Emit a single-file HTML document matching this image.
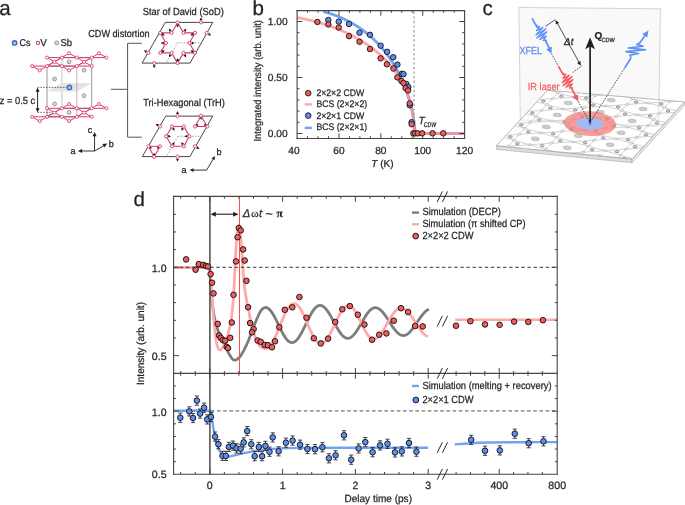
<!DOCTYPE html>
<html><head><meta charset="utf-8"><title>figure</title>
<style>
html,body{margin:0;padding:0;background:#fff;width:685px;height:505px;overflow:hidden}
svg{display:block;font-family:"Liberation Sans",sans-serif;will-change:transform}
text{stroke-width:0.25px;paint-order:stroke;text-rendering:geometricPrecision}
</style></head><body>
<svg width="685" height="505" viewBox="0 0 685 505">
<rect width="685" height="505" fill="#fff"/>
<path d="M173.6,267.3 L209.8,267.3 L209.83,267.89 L209.87,268.58 L209.91,269.38 L209.95,270.28 L210.01,271.29 L210.07,272.41 L210.13,273.64 L210.21,274.98 L210.3,276.44 L210.4,278 L210.51,279.73 L210.62,281.67 L210.74,283.76 L210.86,285.98 L211,288.28 L211.15,290.63 L211.31,292.98 L211.49,295.31 L211.69,297.56 L211.9,299.7 L212.13,301.77 L212.37,303.84 L212.63,305.9 L212.9,307.94 L213.19,309.96 L213.49,311.95 L213.81,313.91 L214.15,315.82 L214.52,317.69 L214.9,319.5 L215.31,321.27 L215.74,322.99 L216.2,324.68 L216.67,326.33 L217.16,327.94 L217.67,329.52 L218.19,331.05 L218.72,332.54 L219.26,333.99 L219.8,335.4 L220.37,336.77 L220.96,338.11 L221.59,339.4 L222.23,340.66 L222.87,341.87 L223.51,343.05 L224.13,344.18 L224.72,345.27 L225.28,346.31 L225.8,347.3 L226.27,348.24 L226.69,349.12 L227.08,349.95 L227.45,350.73 L227.8,351.47 L228.14,352.18 L228.49,352.86 L228.84,353.52 L229.21,354.16 L229.6,354.8 L230.01,355.45 L230.42,356.12 L230.83,356.8 L231.24,357.46 L231.66,358.08 L232.1,358.65 L232.54,359.14 L233.01,359.55 L233.49,359.84 L234,360 L234.53,360.06 L235.07,360.04 L235.63,359.95 L236.21,359.77 L236.8,359.51 L237.41,359.14 L238.03,358.68 L238.67,358.1 L239.33,357.41 L240,356.6 L240.7,355.65 L241.42,354.55 L242.16,353.33 L242.92,352 L243.7,350.57 L244.48,349.06 L245.27,347.48 L246.05,345.85 L246.83,344.18 L247.6,342.5 L248.37,340.72 L249.15,338.8 L249.94,336.77 L250.73,334.66 L251.51,332.53 L252.29,330.41 L253.05,328.34 L253.8,326.35 L254.51,324.49 L255.2,322.8 L255.86,321.24 L256.5,319.74 L257.12,318.31 L257.72,316.95 L258.31,315.67 L258.87,314.47 L259.43,313.36 L259.96,312.34 L260.49,311.42 L261,310.6 L261.51,309.9 L262.02,309.33 L262.54,308.88 L263.03,308.52 L263.51,308.24 L263.96,308.02 L264.37,307.84 L264.74,307.69 L265.05,307.55 L265.3,307.4 L265.8,307.43 L266.3,307.52 L266.81,307.68 L267.31,307.89 L267.81,308.17 L268.31,308.5 L268.81,308.89 L269.32,309.34 L269.82,309.85 L270.32,310.4 L270.82,311.01 L271.32,311.67 L271.82,312.37 L272.33,313.12 L272.83,313.91 L273.33,314.74 L273.83,315.6 L274.33,316.5 L274.84,317.43 L275.34,318.39 L275.84,319.36 L276.34,320.36 L276.84,321.37 L277.35,322.4 L277.85,323.44 L278.35,324.48 L278.85,325.52 L279.35,326.56 L279.85,327.6 L280.36,328.63 L280.86,329.64 L281.36,330.64 L281.86,331.61 L282.36,332.57 L282.87,333.5 L283.37,334.4 L283.87,335.26 L284.37,336.09 L284.87,336.88 L285.38,337.63 L285.88,338.33 L286.38,338.99 L286.88,339.6 L287.38,340.15 L287.88,340.66 L288.39,341.11 L288.89,341.5 L289.39,341.83 L289.89,342.11 L290.39,342.32 L290.9,342.48 L291.4,342.57 L291.9,342.6 L292.4,342.57 L292.9,342.48 L293.41,342.34 L293.91,342.13 L294.41,341.87 L294.91,341.56 L295.41,341.18 L295.91,340.76 L296.42,340.28 L296.92,339.75 L297.42,339.17 L297.92,338.54 L298.42,337.87 L298.92,337.15 L299.43,336.39 L299.93,335.6 L300.43,334.76 L300.93,333.9 L301.43,333 L301.94,332.07 L302.44,331.12 L302.94,330.14 L303.44,329.15 L303.94,328.14 L304.44,327.12 L304.95,326.08 L305.45,325.04 L305.95,324 L306.45,322.96 L306.95,321.92 L307.46,320.88 L307.96,319.86 L308.46,318.85 L308.96,317.86 L309.46,316.88 L309.96,315.93 L310.47,315 L310.97,314.1 L311.47,313.24 L311.97,312.4 L312.47,311.61 L312.98,310.85 L313.48,310.13 L313.98,309.46 L314.48,308.83 L314.98,308.25 L315.48,307.72 L315.99,307.24 L316.49,306.82 L316.99,306.44 L317.49,306.13 L317.99,305.87 L318.49,305.66 L319,305.52 L319.5,305.43 L320,305.4 L320.5,305.43 L321.01,305.51 L321.51,305.64 L322.01,305.83 L322.52,306.07 L323.02,306.36 L323.53,306.7 L324.03,307.09 L324.53,307.53 L325.04,308.01 L325.54,308.54 L326.04,309.12 L326.55,309.73 L327.05,310.39 L327.55,311.08 L328.06,311.8 L328.56,312.56 L329.07,313.36 L329.57,314.17 L330.07,315.02 L330.58,315.88 L331.08,316.77 L331.58,317.67 L332.09,318.58 L332.59,319.51 L333.09,320.44 L333.6,321.38 L334.1,322.32 L334.61,323.26 L335.11,324.19 L335.61,325.12 L336.12,326.03 L336.62,326.93 L337.12,327.82 L337.63,328.68 L338.13,329.53 L338.63,330.34 L339.14,331.14 L339.64,331.9 L340.15,332.62 L340.65,333.31 L341.15,333.97 L341.66,334.58 L342.16,335.16 L342.66,335.69 L343.17,336.17 L343.67,336.61 L344.17,337 L344.68,337.34 L345.18,337.63 L345.69,337.87 L346.19,338.06 L346.69,338.19 L347.2,338.27 L347.7,338.3 L348.2,338.28 L348.7,338.2 L349.21,338.08 L349.71,337.9 L350.21,337.68 L350.71,337.41 L351.21,337.09 L351.71,336.73 L352.22,336.32 L352.72,335.87 L353.22,335.38 L353.72,334.84 L354.22,334.27 L354.73,333.66 L355.23,333.02 L355.73,332.34 L356.23,331.64 L356.73,330.9 L357.23,330.14 L357.74,329.36 L358.24,328.55 L358.74,327.73 L359.24,326.89 L359.74,326.04 L360.25,325.18 L360.75,324.31 L361.25,323.44 L361.75,322.56 L362.25,321.69 L362.75,320.82 L363.26,319.96 L363.76,319.11 L364.26,318.27 L364.76,317.45 L365.26,316.64 L365.77,315.86 L366.27,315.1 L366.77,314.36 L367.27,313.66 L367.77,312.98 L368.27,312.34 L368.78,311.73 L369.28,311.16 L369.78,310.62 L370.28,310.13 L370.78,309.68 L371.29,309.27 L371.79,308.91 L372.29,308.59 L372.79,308.32 L373.29,308.1 L373.79,307.92 L374.3,307.8 L374.8,307.72 L375.3,307.7 L375.8,307.72 L376.3,307.79 L376.8,307.9 L377.3,308.05 L377.8,308.24 L378.3,308.48 L378.8,308.76 L379.3,309.08 L379.8,309.43 L380.3,309.83 L380.8,310.26 L381.3,310.73 L381.8,311.24 L382.3,311.77 L382.8,312.34 L383.3,312.93 L383.8,313.56 L384.3,314.2 L384.8,314.88 L385.3,315.57 L385.8,316.28 L386.3,317.01 L386.8,317.75 L387.3,318.51 L387.8,319.27 L388.3,320.04 L388.8,320.82 L389.3,321.6 L389.8,322.38 L390.3,323.16 L390.8,323.93 L391.3,324.69 L391.8,325.45 L392.3,326.19 L392.8,326.92 L393.3,327.63 L393.8,328.32 L394.3,329 L394.8,329.64 L395.3,330.27 L395.8,330.86 L396.3,331.43 L396.8,331.96 L397.3,332.47 L397.8,332.94 L398.3,333.37 L398.8,333.77 L399.3,334.12 L399.8,334.44 L400.3,334.72 L400.8,334.96 L401.3,335.15 L401.8,335.3 L402.3,335.41 L402.8,335.48 L403.3,335.5 L403.8,335.48 L404.31,335.41 L404.81,335.31 L405.31,335.16 L405.82,334.96 L406.32,334.73 L406.83,334.45 L407.33,334.14 L407.83,333.79 L408.34,333.4 L408.84,332.97 L409.34,332.51 L409.85,332.01 L410.35,331.48 L410.85,330.93 L411.36,330.34 L411.86,329.73 L412.37,329.09 L412.87,328.43 L413.37,327.75 L413.88,327.06 L414.38,326.34 L414.88,325.62 L415.39,324.88 L415.89,324.14 L416.39,323.38 L416.9,322.63 L417.4,321.87 L417.91,321.12 L418.41,320.36 L418.91,319.62 L419.42,318.88 L419.92,318.16 L420.42,317.44 L420.93,316.75 L421.43,316.07 L421.93,315.41 L422.44,314.77 L422.94,314.16 L423.45,313.57 L423.95,313.02 L424.45,312.49 L424.96,311.99 L425.46,311.53 L425.96,311.1 L426.47,310.71 L426.97,310.36 L427.47,310.05 L427.98,309.77 L428.48,309.54 L428.99,309.34" stroke="#7d7d7d" stroke-width="2.8" fill="none" stroke-linejoin="round" stroke-linecap="butt"/>
<path d="M173.6,267.3 L209.8,267.3 L209.85,268.01 L209.91,268.86 L209.98,269.85 L210.06,270.97 L210.14,272.21 L210.24,273.57 L210.34,275.03 L210.45,276.6 L210.57,278.26 L210.7,280 L210.84,281.88 L210.98,283.94 L211.14,286.14 L211.31,288.46 L211.48,290.86 L211.66,293.31 L211.84,295.78 L212.03,298.24 L212.21,300.65 L212.4,303 L212.59,305.33 L212.78,307.71 L212.98,310.12 L213.18,312.54 L213.38,314.94 L213.59,317.3 L213.79,319.61 L214,321.85 L214.2,323.98 L214.4,326 L214.6,327.92 L214.79,329.79 L214.98,331.59 L215.18,333.32 L215.37,334.97 L215.56,336.56 L215.76,338.05 L215.97,339.46 L216.18,340.78 L216.4,342 L216.63,343.13 L216.86,344.16 L217.11,345.11 L217.35,345.97 L217.61,346.75 L217.86,347.44 L218.12,348.05 L218.38,348.58 L218.64,349.03 L218.9,349.4 L219.16,349.67 L219.41,349.84 L219.67,349.91 L219.93,349.9 L220.19,349.81 L220.45,349.66 L220.72,349.45 L221.01,349.2 L221.3,348.91 L221.6,348.6 L221.91,348.28 L222.23,347.94 L222.56,347.57 L222.89,347.16 L223.24,346.69 L223.59,346.15 L223.95,345.52 L224.32,344.8 L224.71,343.96 L225.1,343 L225.52,341.89 L225.97,340.62 L226.44,339.23 L226.92,337.74 L227.41,336.17 L227.89,334.54 L228.36,332.89 L228.81,331.23 L229.22,329.59 L229.6,328 L229.94,326.43 L230.26,324.87 L230.55,323.29 L230.82,321.7 L231.08,320.1 L231.32,318.48 L231.55,316.83 L231.77,315.15 L231.99,313.45 L232.2,311.7 L232.4,309.94 L232.59,308.16 L232.77,306.38 L232.93,304.57 L233.09,302.73 L233.24,300.84 L233.38,298.9 L233.52,296.91 L233.66,294.84 L233.8,292.7 L233.93,290.48 L234.06,288.18 L234.18,285.81 L234.29,283.39 L234.4,280.91 L234.51,278.39 L234.62,275.83 L234.74,273.24 L234.87,270.63 L235,268 L235.14,265.27 L235.28,262.39 L235.43,259.41 L235.58,256.38 L235.74,253.34 L235.9,250.36 L236.06,247.49 L236.24,244.77 L236.41,242.26 L236.6,240 L236.8,237.89 L237,235.82 L237.22,233.83 L237.44,231.96 L237.66,230.26 L237.89,228.77 L238.12,227.54 L238.35,226.6 L238.58,226.01 L238.8,225.8 L239.02,226.02 L239.25,226.65 L239.48,227.63 L239.7,228.92 L239.93,230.45 L240.16,232.18 L240.38,234.05 L240.59,236.01 L240.8,238.01 L241,240 L241.19,242.1 L241.38,244.44 L241.56,246.96 L241.74,249.61 L241.91,252.32 L242.07,255.06 L242.24,257.75 L242.39,260.34 L242.55,262.78 L242.7,265 L242.84,267.04 L242.98,268.96 L243.1,270.79 L243.22,272.53 L243.34,274.2 L243.46,275.81 L243.59,277.39 L243.71,278.93 L243.85,280.47 L244,282 L244.15,283.5 L244.31,284.93 L244.46,286.31 L244.62,287.65 L244.79,288.97 L244.96,290.28 L245.15,291.61 L245.35,292.96 L245.57,294.35 L245.8,295.8 L246.06,297.31 L246.33,298.85 L246.63,300.42 L246.94,302.01 L247.26,303.63 L247.58,305.25 L247.91,306.87 L248.25,308.49 L248.58,310.1 L248.9,311.7 L249.22,313.29 L249.53,314.9 L249.83,316.52 L250.14,318.14 L250.46,319.75 L250.78,321.35 L251.11,322.93 L251.45,324.49 L251.82,326.01 L252.2,327.5 L252.61,328.98 L253.04,330.47 L253.5,331.96 L253.97,333.43 L254.44,334.86 L254.93,336.25 L255.41,337.57 L255.88,338.82 L256.35,339.96 L256.8,341 L257.23,341.92 L257.66,342.75 L258.08,343.49 L258.49,344.15 L258.9,344.74 L259.31,345.28 L259.72,345.76 L260.14,346.2 L260.57,346.61 L261,347 L261.46,347.35 L261.97,347.63 L262.5,347.85 L263.03,348.03 L263.56,348.18 L264.07,348.29 L264.55,348.38 L264.97,348.45 L265.32,348.52 L265.6,348.6 L266.01,348.58 L266.41,348.51 L266.82,348.4 L267.22,348.24 L267.63,348.04 L268.03,347.79 L268.44,347.5 L268.85,347.17 L269.25,346.79 L269.66,346.37 L270.06,345.91 L270.47,345.42 L270.87,344.88 L271.28,344.3 L271.69,343.69 L272.09,343.04 L272.5,342.36 L272.9,341.65 L273.31,340.9 L273.71,340.13 L274.12,339.33 L274.53,338.5 L274.93,337.64 L275.34,336.76 L275.74,335.86 L276.15,334.94 L276.55,334.01 L276.96,333.05 L277.37,332.09 L277.77,331.11 L278.18,330.12 L278.58,329.12 L278.99,328.12 L279.39,327.11 L279.8,326.1 L280.21,325.09 L280.61,324.08 L281.02,323.08 L281.42,322.08 L281.83,321.09 L282.23,320.11 L282.64,319.15 L283.05,318.19 L283.45,317.26 L283.86,316.34 L284.26,315.44 L284.67,314.56 L285.07,313.7 L285.48,312.87 L285.89,312.07 L286.29,311.3 L286.7,310.55 L287.1,309.84 L287.51,309.16 L287.91,308.51 L288.32,307.9 L288.73,307.32 L289.13,306.78 L289.54,306.29 L289.94,305.83 L290.35,305.41 L290.75,305.03 L291.16,304.7 L291.57,304.41 L291.97,304.16 L292.38,303.96 L292.78,303.8 L293.19,303.69 L293.59,303.62 L294,303.6 L294.4,303.62 L294.8,303.69 L295.2,303.8 L295.6,303.95 L296,304.14 L296.4,304.38 L296.8,304.66 L297.2,304.98 L297.6,305.35 L298,305.75 L298.4,306.19 L298.8,306.67 L299.2,307.18 L299.6,307.74 L300,308.32 L300.4,308.94 L300.8,309.59 L301.2,310.28 L301.6,310.99 L302,311.73 L302.4,312.49 L302.8,313.28 L303.2,314.09 L303.6,314.93 L304,315.78 L304.4,316.65 L304.8,317.53 L305.2,318.42 L305.6,319.33 L306,320.25 L306.4,321.17 L306.8,322.1 L307.2,323.03 L307.6,323.97 L308,324.9 L308.4,325.83 L308.8,326.75 L309.2,327.67 L309.6,328.58 L310,329.47 L310.4,330.35 L310.8,331.22 L311.2,332.07 L311.6,332.91 L312,333.72 L312.4,334.51 L312.8,335.27 L313.2,336.01 L313.6,336.72 L314,337.41 L314.4,338.06 L314.8,338.68 L315.2,339.26 L315.6,339.82 L316,340.33 L316.4,340.81 L316.8,341.25 L317.2,341.65 L317.6,342.02 L318,342.34 L318.4,342.62 L318.8,342.86 L319.2,343.05 L319.6,343.2 L320,343.31 L320.4,343.38 L320.8,343.4 L321.2,343.38 L321.6,343.32 L322,343.22 L322.41,343.09 L322.81,342.91 L323.21,342.7 L323.61,342.45 L324.01,342.16 L324.41,341.84 L324.81,341.47 L325.22,341.08 L325.62,340.65 L326.02,340.18 L326.42,339.69 L326.82,339.16 L327.22,338.6 L327.62,338.02 L328.03,337.4 L328.43,336.76 L328.83,336.09 L329.23,335.4 L329.63,334.69 L330.03,333.95 L330.43,333.2 L330.84,332.42 L331.24,331.63 L331.64,330.83 L332.04,330.01 L332.44,329.18 L332.84,328.35 L333.24,327.5 L333.65,326.65 L334.05,325.79 L334.45,324.93 L334.85,324.07 L335.25,323.21 L335.65,322.35 L336.06,321.5 L336.46,320.65 L336.86,319.82 L337.26,318.99 L337.66,318.17 L338.06,317.37 L338.46,316.58 L338.87,315.8 L339.27,315.05 L339.67,314.31 L340.07,313.6 L340.47,312.91 L340.87,312.24 L341.27,311.6 L341.68,310.98 L342.08,310.4 L342.48,309.84 L342.88,309.31 L343.28,308.82 L343.68,308.35 L344.08,307.92 L344.49,307.53 L344.89,307.16 L345.29,306.84 L345.69,306.55 L346.09,306.3 L346.49,306.09 L346.89,305.91 L347.3,305.78 L347.7,305.68 L348.1,305.62 L348.5,305.6 L348.9,305.62 L349.31,305.69 L349.71,305.79 L350.11,305.94 L350.52,306.13 L350.92,306.37 L351.32,306.64 L351.73,306.95 L352.13,307.31 L352.53,307.7 L352.94,308.13 L353.34,308.59 L353.74,309.09 L354.15,309.63 L354.55,310.2 L354.95,310.79 L355.35,311.42 L355.76,312.08 L356.16,312.76 L356.56,313.47 L356.97,314.2 L357.37,314.95 L357.77,315.71 L358.18,316.5 L358.58,317.3 L358.98,318.11 L359.39,318.94 L359.79,319.77 L360.19,320.61 L360.6,321.45 L361,322.3 L361.4,323.15 L361.81,323.99 L362.21,324.83 L362.61,325.66 L363.02,326.49 L363.42,327.3 L363.82,328.1 L364.23,328.89 L364.63,329.65 L365.03,330.4 L365.44,331.13 L365.84,331.84 L366.24,332.52 L366.65,333.18 L367.05,333.81 L367.45,334.4 L367.85,334.97 L368.26,335.51 L368.66,336.01 L369.06,336.47 L369.47,336.9 L369.87,337.29 L370.27,337.65 L370.68,337.96 L371.08,338.23 L371.48,338.47 L371.89,338.66 L372.29,338.81 L372.69,338.91 L373.1,338.98 L373.5,339 L373.9,338.98 L374.31,338.93 L374.71,338.85 L375.12,338.74 L375.52,338.59 L375.93,338.41 L376.33,338.2 L376.74,337.95 L377.14,337.68 L377.54,337.38 L377.95,337.04 L378.35,336.68 L378.76,336.29 L379.16,335.87 L379.57,335.42 L379.97,334.95 L380.38,334.46 L380.78,333.94 L381.18,333.4 L381.59,332.84 L381.99,332.26 L382.4,331.66 L382.8,331.04 L383.21,330.41 L383.61,329.76 L384.01,329.1 L384.42,328.43 L384.82,327.74 L385.23,327.05 L385.63,326.35 L386.04,325.64 L386.44,324.93 L386.85,324.22 L387.25,323.5 L387.65,322.78 L388.06,322.07 L388.46,321.36 L388.87,320.65 L389.27,319.95 L389.68,319.26 L390.08,318.57 L390.49,317.9 L390.89,317.24 L391.29,316.59 L391.7,315.96 L392.1,315.34 L392.51,314.74 L392.91,314.16 L393.32,313.6 L393.72,313.06 L394.12,312.54 L394.53,312.05 L394.93,311.58 L395.34,311.13 L395.74,310.71 L396.15,310.32 L396.55,309.96 L396.96,309.62 L397.36,309.32 L397.76,309.05 L398.17,308.8 L398.57,308.59 L398.98,308.41 L399.38,308.26 L399.79,308.15 L400.19,308.07 L400.6,308.02 L401,308 L401.4,308.01 L401.81,308.06 L402.21,308.12 L402.61,308.22 L403.01,308.34 L403.42,308.49 L403.82,308.67 L404.22,308.87 L404.62,309.1 L405.03,309.36 L405.43,309.64 L405.83,309.94 L406.24,310.27 L406.64,310.62 L407.04,311 L407.44,311.39 L407.85,311.81 L408.25,312.25 L408.65,312.7 L409.06,313.18 L409.46,313.67 L409.86,314.18 L410.26,314.71 L410.67,315.25 L411.07,315.8 L411.47,316.37 L411.88,316.95 L412.28,317.54 L412.68,318.14 L413.08,318.75 L413.49,319.36 L413.89,319.98 L414.29,320.61 L414.69,321.24 L415.1,321.87 L415.5,322.5 L415.9,323.13 L416.31,323.76 L416.71,324.39 L417.11,325.02 L417.51,325.64 L417.92,326.25 L418.32,326.86 L418.72,327.46 L419.12,328.05 L419.53,328.63 L419.93,329.2 L420.33,329.75 L420.74,330.29 L421.14,330.82 L421.54,331.33 L421.94,331.82 L422.35,332.3 L422.75,332.75 L423.15,333.19 L423.56,333.61 L423.96,334 L424.36,334.38 L424.76,334.73 L425.17,335.06 L425.57,335.36 L425.97,335.64 L426.38,335.9 L426.78,336.13 L427.18,336.33 L427.58,336.51 L427.99,336.66" stroke="#ffa9a9" stroke-width="2.8" fill="none" stroke-linejoin="round" stroke-linecap="butt"/>
<line x1="455.2" y1="319.8" x2="557.2" y2="319.8" stroke="#ffa9a9" stroke-width="2.6" stroke-linecap="butt"/>
<line x1="173.6" y1="267.3" x2="557.2" y2="267.3" stroke="#3a3a3a" stroke-width="1" stroke-linecap="butt" stroke-dasharray="3.5,2.6"/>
<line x1="173.6" y1="410.9" x2="557.2" y2="410.9" stroke="#9a9a9a" stroke-width="1.6" stroke-linecap="butt" stroke-dasharray="3.6,2.6"/>
<path d="M173.6,410.8 C179.6,410.8 203.33,410.18 209.6,410.8 C215.87,411.42 210.75,412.8 211.2,414.5 C211.65,416.2 211.85,418.23 212.3,421 C212.75,423.77 213.28,427.77 213.9,431.1 C214.52,434.43 215.23,438.1 216,441 C216.77,443.9 217.58,446.33 218.5,448.5 C219.42,450.67 220.42,452.7 221.5,454 C222.58,455.3 223.75,455.87 225,456.3 C226.25,456.73 226.4,457 229,456.6 C231.6,456.2 236.68,454.77 240.6,453.9 C244.52,453.03 248.53,452.12 252.5,451.4 C256.47,450.68 259.82,450.1 264.4,449.6 C268.98,449.1 274.07,448.68 280,448.4 C285.93,448.12 290,448.02 300,447.9 C310,447.78 318.63,447.73 340,447.7 C361.37,447.67 413.5,447.7 428.2,447.7" stroke="#72a2f4" stroke-width="2.4" fill="none" stroke-linecap="butt" stroke-linejoin="round"/>
<path d="M454.7,444.4 C457.25,444.2 464.12,443.52 470,443.2 C475.88,442.88 481.67,442.67 490,442.5 C498.33,442.33 508.8,442.27 520,442.2 C531.2,442.13 551,442.12 557.2,442.1" stroke="#72a2f4" stroke-width="2.4" fill="none" stroke-linecap="butt"/>
<line x1="209.9" y1="196.4" x2="209.9" y2="474.3" stroke="#4a4a4a" stroke-width="1.5" stroke-linecap="butt"/>
<line x1="239.5" y1="196.4" x2="239.5" y2="373.4" stroke="#ff5050" stroke-width="1.05" stroke-linecap="butt"/>
<line x1="173.6" y1="196.4" x2="557.2" y2="196.4" stroke="#454545" stroke-width="1.1" stroke-linecap="square"/>
<line x1="173.6" y1="373.4" x2="557.2" y2="373.4" stroke="#454545" stroke-width="1.1" stroke-linecap="square"/>
<line x1="173.6" y1="474.3" x2="557.2" y2="474.3" stroke="#454545" stroke-width="1.1" stroke-linecap="square"/>
<line x1="173.6" y1="196.4" x2="173.6" y2="474.3" stroke="#454545" stroke-width="1.1" stroke-linecap="square"/>
<line x1="557.2" y1="196.4" x2="557.2" y2="474.3" stroke="#454545" stroke-width="1.1" stroke-linecap="square"/>
<line x1="180.68" y1="196.4" x2="180.68" y2="198.8" stroke="#454545" stroke-width="1" stroke-linecap="butt"/>
<line x1="180.68" y1="371" x2="180.68" y2="375.8" stroke="#454545" stroke-width="1" stroke-linecap="butt"/>
<line x1="180.68" y1="474.3" x2="180.68" y2="471.9" stroke="#454545" stroke-width="1" stroke-linecap="butt"/>
<line x1="195.24" y1="196.4" x2="195.24" y2="198.8" stroke="#454545" stroke-width="1" stroke-linecap="butt"/>
<line x1="195.24" y1="371" x2="195.24" y2="375.8" stroke="#454545" stroke-width="1" stroke-linecap="butt"/>
<line x1="195.24" y1="474.3" x2="195.24" y2="471.9" stroke="#454545" stroke-width="1" stroke-linecap="butt"/>
<line x1="209.8" y1="196.4" x2="209.8" y2="201.8" stroke="#454545" stroke-width="1" stroke-linecap="butt"/>
<line x1="209.8" y1="368" x2="209.8" y2="378.8" stroke="#454545" stroke-width="1" stroke-linecap="butt"/>
<line x1="209.8" y1="474.3" x2="209.8" y2="468.9" stroke="#454545" stroke-width="1" stroke-linecap="butt"/>
<line x1="224.36" y1="196.4" x2="224.36" y2="198.8" stroke="#454545" stroke-width="1" stroke-linecap="butt"/>
<line x1="224.36" y1="371" x2="224.36" y2="375.8" stroke="#454545" stroke-width="1" stroke-linecap="butt"/>
<line x1="224.36" y1="474.3" x2="224.36" y2="471.9" stroke="#454545" stroke-width="1" stroke-linecap="butt"/>
<line x1="238.92" y1="196.4" x2="238.92" y2="198.8" stroke="#454545" stroke-width="1" stroke-linecap="butt"/>
<line x1="238.92" y1="371" x2="238.92" y2="375.8" stroke="#454545" stroke-width="1" stroke-linecap="butt"/>
<line x1="238.92" y1="474.3" x2="238.92" y2="471.9" stroke="#454545" stroke-width="1" stroke-linecap="butt"/>
<line x1="253.48" y1="196.4" x2="253.48" y2="198.8" stroke="#454545" stroke-width="1" stroke-linecap="butt"/>
<line x1="253.48" y1="371" x2="253.48" y2="375.8" stroke="#454545" stroke-width="1" stroke-linecap="butt"/>
<line x1="253.48" y1="474.3" x2="253.48" y2="471.9" stroke="#454545" stroke-width="1" stroke-linecap="butt"/>
<line x1="268.04" y1="196.4" x2="268.04" y2="198.8" stroke="#454545" stroke-width="1" stroke-linecap="butt"/>
<line x1="268.04" y1="371" x2="268.04" y2="375.8" stroke="#454545" stroke-width="1" stroke-linecap="butt"/>
<line x1="268.04" y1="474.3" x2="268.04" y2="471.9" stroke="#454545" stroke-width="1" stroke-linecap="butt"/>
<line x1="282.6" y1="196.4" x2="282.6" y2="201.8" stroke="#454545" stroke-width="1" stroke-linecap="butt"/>
<line x1="282.6" y1="368" x2="282.6" y2="378.8" stroke="#454545" stroke-width="1" stroke-linecap="butt"/>
<line x1="282.6" y1="474.3" x2="282.6" y2="468.9" stroke="#454545" stroke-width="1" stroke-linecap="butt"/>
<line x1="297.16" y1="196.4" x2="297.16" y2="198.8" stroke="#454545" stroke-width="1" stroke-linecap="butt"/>
<line x1="297.16" y1="371" x2="297.16" y2="375.8" stroke="#454545" stroke-width="1" stroke-linecap="butt"/>
<line x1="297.16" y1="474.3" x2="297.16" y2="471.9" stroke="#454545" stroke-width="1" stroke-linecap="butt"/>
<line x1="311.72" y1="196.4" x2="311.72" y2="198.8" stroke="#454545" stroke-width="1" stroke-linecap="butt"/>
<line x1="311.72" y1="371" x2="311.72" y2="375.8" stroke="#454545" stroke-width="1" stroke-linecap="butt"/>
<line x1="311.72" y1="474.3" x2="311.72" y2="471.9" stroke="#454545" stroke-width="1" stroke-linecap="butt"/>
<line x1="326.28" y1="196.4" x2="326.28" y2="198.8" stroke="#454545" stroke-width="1" stroke-linecap="butt"/>
<line x1="326.28" y1="371" x2="326.28" y2="375.8" stroke="#454545" stroke-width="1" stroke-linecap="butt"/>
<line x1="326.28" y1="474.3" x2="326.28" y2="471.9" stroke="#454545" stroke-width="1" stroke-linecap="butt"/>
<line x1="340.84" y1="196.4" x2="340.84" y2="198.8" stroke="#454545" stroke-width="1" stroke-linecap="butt"/>
<line x1="340.84" y1="371" x2="340.84" y2="375.8" stroke="#454545" stroke-width="1" stroke-linecap="butt"/>
<line x1="340.84" y1="474.3" x2="340.84" y2="471.9" stroke="#454545" stroke-width="1" stroke-linecap="butt"/>
<line x1="355.4" y1="196.4" x2="355.4" y2="201.8" stroke="#454545" stroke-width="1" stroke-linecap="butt"/>
<line x1="355.4" y1="368" x2="355.4" y2="378.8" stroke="#454545" stroke-width="1" stroke-linecap="butt"/>
<line x1="355.4" y1="474.3" x2="355.4" y2="468.9" stroke="#454545" stroke-width="1" stroke-linecap="butt"/>
<line x1="369.96" y1="196.4" x2="369.96" y2="198.8" stroke="#454545" stroke-width="1" stroke-linecap="butt"/>
<line x1="369.96" y1="371" x2="369.96" y2="375.8" stroke="#454545" stroke-width="1" stroke-linecap="butt"/>
<line x1="369.96" y1="474.3" x2="369.96" y2="471.9" stroke="#454545" stroke-width="1" stroke-linecap="butt"/>
<line x1="384.52" y1="196.4" x2="384.52" y2="198.8" stroke="#454545" stroke-width="1" stroke-linecap="butt"/>
<line x1="384.52" y1="371" x2="384.52" y2="375.8" stroke="#454545" stroke-width="1" stroke-linecap="butt"/>
<line x1="384.52" y1="474.3" x2="384.52" y2="471.9" stroke="#454545" stroke-width="1" stroke-linecap="butt"/>
<line x1="399.08" y1="196.4" x2="399.08" y2="198.8" stroke="#454545" stroke-width="1" stroke-linecap="butt"/>
<line x1="399.08" y1="371" x2="399.08" y2="375.8" stroke="#454545" stroke-width="1" stroke-linecap="butt"/>
<line x1="399.08" y1="474.3" x2="399.08" y2="471.9" stroke="#454545" stroke-width="1" stroke-linecap="butt"/>
<line x1="413.64" y1="196.4" x2="413.64" y2="198.8" stroke="#454545" stroke-width="1" stroke-linecap="butt"/>
<line x1="413.64" y1="371" x2="413.64" y2="375.8" stroke="#454545" stroke-width="1" stroke-linecap="butt"/>
<line x1="413.64" y1="474.3" x2="413.64" y2="471.9" stroke="#454545" stroke-width="1" stroke-linecap="butt"/>
<line x1="428.2" y1="196.4" x2="428.2" y2="201.8" stroke="#454545" stroke-width="1" stroke-linecap="butt"/>
<line x1="428.2" y1="368" x2="428.2" y2="378.8" stroke="#454545" stroke-width="1" stroke-linecap="butt"/>
<line x1="428.2" y1="474.3" x2="428.2" y2="468.9" stroke="#454545" stroke-width="1" stroke-linecap="butt"/>
<line x1="456.08" y1="196.4" x2="456.08" y2="198.8" stroke="#454545" stroke-width="1" stroke-linecap="butt"/>
<line x1="456.08" y1="371" x2="456.08" y2="375.8" stroke="#454545" stroke-width="1" stroke-linecap="butt"/>
<line x1="456.08" y1="474.3" x2="456.08" y2="471.9" stroke="#454545" stroke-width="1" stroke-linecap="butt"/>
<line x1="470.46" y1="196.4" x2="470.46" y2="198.8" stroke="#454545" stroke-width="1" stroke-linecap="butt"/>
<line x1="470.46" y1="371" x2="470.46" y2="375.8" stroke="#454545" stroke-width="1" stroke-linecap="butt"/>
<line x1="470.46" y1="474.3" x2="470.46" y2="471.9" stroke="#454545" stroke-width="1" stroke-linecap="butt"/>
<line x1="484.84" y1="196.4" x2="484.84" y2="198.8" stroke="#454545" stroke-width="1" stroke-linecap="butt"/>
<line x1="484.84" y1="371" x2="484.84" y2="375.8" stroke="#454545" stroke-width="1" stroke-linecap="butt"/>
<line x1="484.84" y1="474.3" x2="484.84" y2="471.9" stroke="#454545" stroke-width="1" stroke-linecap="butt"/>
<line x1="499.22" y1="196.4" x2="499.22" y2="201.8" stroke="#454545" stroke-width="1" stroke-linecap="butt"/>
<line x1="499.22" y1="368" x2="499.22" y2="378.8" stroke="#454545" stroke-width="1" stroke-linecap="butt"/>
<line x1="499.22" y1="474.3" x2="499.22" y2="468.9" stroke="#454545" stroke-width="1" stroke-linecap="butt"/>
<line x1="513.6" y1="196.4" x2="513.6" y2="198.8" stroke="#454545" stroke-width="1" stroke-linecap="butt"/>
<line x1="513.6" y1="371" x2="513.6" y2="375.8" stroke="#454545" stroke-width="1" stroke-linecap="butt"/>
<line x1="513.6" y1="474.3" x2="513.6" y2="471.9" stroke="#454545" stroke-width="1" stroke-linecap="butt"/>
<line x1="527.98" y1="196.4" x2="527.98" y2="198.8" stroke="#454545" stroke-width="1" stroke-linecap="butt"/>
<line x1="527.98" y1="371" x2="527.98" y2="375.8" stroke="#454545" stroke-width="1" stroke-linecap="butt"/>
<line x1="527.98" y1="474.3" x2="527.98" y2="471.9" stroke="#454545" stroke-width="1" stroke-linecap="butt"/>
<line x1="542.36" y1="196.4" x2="542.36" y2="198.8" stroke="#454545" stroke-width="1" stroke-linecap="butt"/>
<line x1="542.36" y1="371" x2="542.36" y2="375.8" stroke="#454545" stroke-width="1" stroke-linecap="butt"/>
<line x1="542.36" y1="474.3" x2="542.36" y2="471.9" stroke="#454545" stroke-width="1" stroke-linecap="butt"/>
<line x1="173.6" y1="355.65" x2="179" y2="355.65" stroke="#454545" stroke-width="1" stroke-linecap="butt"/>
<line x1="557.2" y1="355.65" x2="551.8" y2="355.65" stroke="#454545" stroke-width="1" stroke-linecap="butt"/>
<line x1="173.6" y1="337.98" x2="176" y2="337.98" stroke="#454545" stroke-width="1" stroke-linecap="butt"/>
<line x1="557.2" y1="337.98" x2="554.8" y2="337.98" stroke="#454545" stroke-width="1" stroke-linecap="butt"/>
<line x1="173.6" y1="320.31" x2="176" y2="320.31" stroke="#454545" stroke-width="1" stroke-linecap="butt"/>
<line x1="557.2" y1="320.31" x2="554.8" y2="320.31" stroke="#454545" stroke-width="1" stroke-linecap="butt"/>
<line x1="173.6" y1="302.64" x2="176" y2="302.64" stroke="#454545" stroke-width="1" stroke-linecap="butt"/>
<line x1="557.2" y1="302.64" x2="554.8" y2="302.64" stroke="#454545" stroke-width="1" stroke-linecap="butt"/>
<line x1="173.6" y1="284.97" x2="176" y2="284.97" stroke="#454545" stroke-width="1" stroke-linecap="butt"/>
<line x1="557.2" y1="284.97" x2="554.8" y2="284.97" stroke="#454545" stroke-width="1" stroke-linecap="butt"/>
<line x1="173.6" y1="267.3" x2="179" y2="267.3" stroke="#454545" stroke-width="1" stroke-linecap="butt"/>
<line x1="557.2" y1="267.3" x2="551.8" y2="267.3" stroke="#454545" stroke-width="1" stroke-linecap="butt"/>
<line x1="173.6" y1="249.63" x2="176" y2="249.63" stroke="#454545" stroke-width="1" stroke-linecap="butt"/>
<line x1="557.2" y1="249.63" x2="554.8" y2="249.63" stroke="#454545" stroke-width="1" stroke-linecap="butt"/>
<line x1="173.6" y1="231.96" x2="176" y2="231.96" stroke="#454545" stroke-width="1" stroke-linecap="butt"/>
<line x1="557.2" y1="231.96" x2="554.8" y2="231.96" stroke="#454545" stroke-width="1" stroke-linecap="butt"/>
<line x1="173.6" y1="214.29" x2="176" y2="214.29" stroke="#454545" stroke-width="1" stroke-linecap="butt"/>
<line x1="557.2" y1="214.29" x2="554.8" y2="214.29" stroke="#454545" stroke-width="1" stroke-linecap="butt"/>
<line x1="173.6" y1="461.72" x2="176" y2="461.72" stroke="#454545" stroke-width="1" stroke-linecap="butt"/>
<line x1="557.2" y1="461.72" x2="554.8" y2="461.72" stroke="#454545" stroke-width="1" stroke-linecap="butt"/>
<line x1="173.6" y1="449.09" x2="176" y2="449.09" stroke="#454545" stroke-width="1" stroke-linecap="butt"/>
<line x1="557.2" y1="449.09" x2="554.8" y2="449.09" stroke="#454545" stroke-width="1" stroke-linecap="butt"/>
<line x1="173.6" y1="436.46" x2="176" y2="436.46" stroke="#454545" stroke-width="1" stroke-linecap="butt"/>
<line x1="557.2" y1="436.46" x2="554.8" y2="436.46" stroke="#454545" stroke-width="1" stroke-linecap="butt"/>
<line x1="173.6" y1="423.83" x2="176" y2="423.83" stroke="#454545" stroke-width="1" stroke-linecap="butt"/>
<line x1="557.2" y1="423.83" x2="554.8" y2="423.83" stroke="#454545" stroke-width="1" stroke-linecap="butt"/>
<line x1="173.6" y1="411.2" x2="179" y2="411.2" stroke="#454545" stroke-width="1" stroke-linecap="butt"/>
<line x1="557.2" y1="411.2" x2="551.8" y2="411.2" stroke="#454545" stroke-width="1" stroke-linecap="butt"/>
<line x1="173.6" y1="398.57" x2="176" y2="398.57" stroke="#454545" stroke-width="1" stroke-linecap="butt"/>
<line x1="557.2" y1="398.57" x2="554.8" y2="398.57" stroke="#454545" stroke-width="1" stroke-linecap="butt"/>
<line x1="173.6" y1="385.94" x2="176" y2="385.94" stroke="#454545" stroke-width="1" stroke-linecap="butt"/>
<line x1="557.2" y1="385.94" x2="554.8" y2="385.94" stroke="#454545" stroke-width="1" stroke-linecap="butt"/>
<line x1="437.2" y1="202" x2="442.4" y2="191.4" stroke="#2a2a2a" stroke-width="1" stroke-linecap="butt"/>
<line x1="442.4" y1="202" x2="447.6" y2="191.4" stroke="#2a2a2a" stroke-width="1" stroke-linecap="butt"/>
<line x1="437.2" y1="378.7" x2="442.4" y2="368.1" stroke="#2a2a2a" stroke-width="1" stroke-linecap="butt"/>
<line x1="442.4" y1="378.7" x2="447.6" y2="368.1" stroke="#2a2a2a" stroke-width="1" stroke-linecap="butt"/>
<line x1="437.2" y1="479.6" x2="442.4" y2="469" stroke="#2a2a2a" stroke-width="1" stroke-linecap="butt"/>
<line x1="442.4" y1="479.6" x2="447.6" y2="469" stroke="#2a2a2a" stroke-width="1" stroke-linecap="butt"/>
<line x1="437.2" y1="326.4" x2="442.4" y2="315.8" stroke="#2a2a2a" stroke-width="1" stroke-linecap="butt"/>
<line x1="442.4" y1="326.4" x2="447.6" y2="315.8" stroke="#2a2a2a" stroke-width="1" stroke-linecap="butt"/>
<line x1="437.2" y1="452.8" x2="442.4" y2="442.2" stroke="#2a2a2a" stroke-width="1" stroke-linecap="butt"/>
<line x1="442.4" y1="452.8" x2="447.6" y2="442.2" stroke="#2a2a2a" stroke-width="1" stroke-linecap="butt"/>
<circle cx="186.1" cy="259.4" r="2.8" fill="#f45c5c" stroke="#1a1a1a" stroke-width="1"/>
<circle cx="195.6" cy="269.7" r="2.8" fill="#f45c5c" stroke="#1a1a1a" stroke-width="1"/>
<circle cx="198.8" cy="264.1" r="2.8" fill="#f45c5c" stroke="#1a1a1a" stroke-width="1"/>
<circle cx="203.2" cy="264.9" r="2.8" fill="#f45c5c" stroke="#1a1a1a" stroke-width="1"/>
<circle cx="205.9" cy="266" r="2.8" fill="#f45c5c" stroke="#1a1a1a" stroke-width="1"/>
<circle cx="208" cy="266.5" r="2.8" fill="#f45c5c" stroke="#1a1a1a" stroke-width="1"/>
<circle cx="210.6" cy="274.1" r="2.8" fill="#f45c5c" stroke="#1a1a1a" stroke-width="1"/>
<circle cx="212" cy="282.7" r="2.8" fill="#f45c5c" stroke="#1a1a1a" stroke-width="1"/>
<circle cx="213.5" cy="293.4" r="2.8" fill="#f45c5c" stroke="#1a1a1a" stroke-width="1"/>
<circle cx="217.7" cy="323.9" r="2.8" fill="#f45c5c" stroke="#1a1a1a" stroke-width="1"/>
<circle cx="219.1" cy="335.4" r="2.8" fill="#f45c5c" stroke="#1a1a1a" stroke-width="1"/>
<circle cx="220.7" cy="337.8" r="2.8" fill="#f45c5c" stroke="#1a1a1a" stroke-width="1"/>
<circle cx="222.7" cy="339.9" r="2.8" fill="#f45c5c" stroke="#1a1a1a" stroke-width="1"/>
<circle cx="225.1" cy="340.7" r="2.8" fill="#f45c5c" stroke="#1a1a1a" stroke-width="1"/>
<circle cx="226.7" cy="346.9" r="2.8" fill="#f45c5c" stroke="#1a1a1a" stroke-width="1"/>
<circle cx="228" cy="348.1" r="2.8" fill="#f45c5c" stroke="#1a1a1a" stroke-width="1"/>
<circle cx="230.2" cy="337.8" r="2.8" fill="#f45c5c" stroke="#1a1a1a" stroke-width="1"/>
<circle cx="231.8" cy="322.5" r="2.8" fill="#f45c5c" stroke="#1a1a1a" stroke-width="1"/>
<circle cx="233.5" cy="294.8" r="2.8" fill="#f45c5c" stroke="#1a1a1a" stroke-width="1"/>
<circle cx="236" cy="261.4" r="2.8" fill="#f45c5c" stroke="#1a1a1a" stroke-width="1"/>
<circle cx="237.6" cy="237.2" r="2.8" fill="#f45c5c" stroke="#1a1a1a" stroke-width="1"/>
<circle cx="238.8" cy="228" r="2.8" fill="#f45c5c" stroke="#1a1a1a" stroke-width="1"/>
<circle cx="240.7" cy="230.4" r="2.8" fill="#f45c5c" stroke="#1a1a1a" stroke-width="1"/>
<circle cx="243.1" cy="249.4" r="2.8" fill="#f45c5c" stroke="#1a1a1a" stroke-width="1"/>
<circle cx="244.7" cy="260.5" r="2.8" fill="#f45c5c" stroke="#1a1a1a" stroke-width="1"/>
<circle cx="246.4" cy="280.8" r="2.8" fill="#f45c5c" stroke="#1a1a1a" stroke-width="1"/>
<circle cx="248.1" cy="307.2" r="2.8" fill="#f45c5c" stroke="#1a1a1a" stroke-width="1"/>
<circle cx="250.1" cy="323.1" r="2.8" fill="#f45c5c" stroke="#1a1a1a" stroke-width="1"/>
<circle cx="253.6" cy="329.1" r="2.8" fill="#f45c5c" stroke="#1a1a1a" stroke-width="1"/>
<circle cx="252" cy="332.3" r="2.8" fill="#f45c5c" stroke="#1a1a1a" stroke-width="1"/>
<circle cx="257.6" cy="340.5" r="2.8" fill="#f45c5c" stroke="#1a1a1a" stroke-width="1"/>
<circle cx="260.7" cy="341.8" r="2.8" fill="#f45c5c" stroke="#1a1a1a" stroke-width="1"/>
<circle cx="264.7" cy="345" r="2.8" fill="#f45c5c" stroke="#1a1a1a" stroke-width="1"/>
<circle cx="267.9" cy="345.2" r="2.8" fill="#f45c5c" stroke="#1a1a1a" stroke-width="1"/>
<circle cx="272" cy="347.3" r="2.8" fill="#f45c5c" stroke="#1a1a1a" stroke-width="1"/>
<circle cx="275" cy="341.3" r="2.8" fill="#f45c5c" stroke="#1a1a1a" stroke-width="1"/>
<circle cx="279.3" cy="327.2" r="2.8" fill="#f45c5c" stroke="#1a1a1a" stroke-width="1"/>
<circle cx="284.8" cy="309.8" r="2.8" fill="#f45c5c" stroke="#1a1a1a" stroke-width="1"/>
<circle cx="292.3" cy="307.3" r="2.8" fill="#f45c5c" stroke="#1a1a1a" stroke-width="1"/>
<circle cx="299.4" cy="297" r="2.8" fill="#f45c5c" stroke="#1a1a1a" stroke-width="1"/>
<circle cx="306.5" cy="317.7" r="2.8" fill="#f45c5c" stroke="#1a1a1a" stroke-width="1"/>
<circle cx="313.8" cy="338.3" r="2.8" fill="#f45c5c" stroke="#1a1a1a" stroke-width="1"/>
<circle cx="320.8" cy="343.4" r="2.8" fill="#f45c5c" stroke="#1a1a1a" stroke-width="1"/>
<circle cx="328.1" cy="338.6" r="2.8" fill="#f45c5c" stroke="#1a1a1a" stroke-width="1"/>
<circle cx="335.2" cy="322" r="2.8" fill="#f45c5c" stroke="#1a1a1a" stroke-width="1"/>
<circle cx="342.3" cy="309.3" r="2.8" fill="#f45c5c" stroke="#1a1a1a" stroke-width="1"/>
<circle cx="349.8" cy="306.1" r="2.8" fill="#f45c5c" stroke="#1a1a1a" stroke-width="1"/>
<circle cx="357.8" cy="314.7" r="2.8" fill="#f45c5c" stroke="#1a1a1a" stroke-width="1"/>
<circle cx="364.4" cy="324.5" r="2.8" fill="#f45c5c" stroke="#1a1a1a" stroke-width="1"/>
<circle cx="372.1" cy="339.7" r="2.8" fill="#f45c5c" stroke="#1a1a1a" stroke-width="1"/>
<circle cx="379.2" cy="334.7" r="2.8" fill="#f45c5c" stroke="#1a1a1a" stroke-width="1"/>
<circle cx="386.4" cy="333.4" r="2.8" fill="#f45c5c" stroke="#1a1a1a" stroke-width="1"/>
<circle cx="393.8" cy="320.7" r="2.8" fill="#f45c5c" stroke="#1a1a1a" stroke-width="1"/>
<circle cx="401" cy="308.2" r="2.8" fill="#f45c5c" stroke="#1a1a1a" stroke-width="1"/>
<circle cx="408.1" cy="312" r="2.8" fill="#f45c5c" stroke="#1a1a1a" stroke-width="1"/>
<circle cx="415.2" cy="326" r="2.8" fill="#f45c5c" stroke="#1a1a1a" stroke-width="1"/>
<circle cx="422.7" cy="326.4" r="2.8" fill="#f45c5c" stroke="#1a1a1a" stroke-width="1"/>
<circle cx="456" cy="325.7" r="2.8" fill="#f45c5c" stroke="#1a1a1a" stroke-width="1"/>
<circle cx="470.4" cy="321.2" r="2.8" fill="#f45c5c" stroke="#1a1a1a" stroke-width="1"/>
<circle cx="485" cy="324.4" r="2.8" fill="#f45c5c" stroke="#1a1a1a" stroke-width="1"/>
<circle cx="499.6" cy="324.8" r="2.8" fill="#f45c5c" stroke="#1a1a1a" stroke-width="1"/>
<circle cx="514.1" cy="321.6" r="2.8" fill="#f45c5c" stroke="#1a1a1a" stroke-width="1"/>
<circle cx="528.3" cy="321.9" r="2.8" fill="#f45c5c" stroke="#1a1a1a" stroke-width="1"/>
<circle cx="542.9" cy="320.2" r="2.8" fill="#f45c5c" stroke="#1a1a1a" stroke-width="1"/>
<line x1="180.3" y1="413.1" x2="180.3" y2="422.3" stroke="#1a1a1a" stroke-width="0.8" stroke-linecap="butt"/>
<line x1="178.2" y1="413.1" x2="182.4" y2="413.1" stroke="#1a1a1a" stroke-width="0.8" stroke-linecap="butt"/>
<line x1="178.2" y1="422.3" x2="182.4" y2="422.3" stroke="#1a1a1a" stroke-width="0.8" stroke-linecap="butt"/>
<line x1="189.3" y1="406.8" x2="189.3" y2="416" stroke="#1a1a1a" stroke-width="0.8" stroke-linecap="butt"/>
<line x1="187.2" y1="406.8" x2="191.4" y2="406.8" stroke="#1a1a1a" stroke-width="0.8" stroke-linecap="butt"/>
<line x1="187.2" y1="416" x2="191.4" y2="416" stroke="#1a1a1a" stroke-width="0.8" stroke-linecap="butt"/>
<line x1="193" y1="413.4" x2="193" y2="422.6" stroke="#1a1a1a" stroke-width="0.8" stroke-linecap="butt"/>
<line x1="190.9" y1="413.4" x2="195.1" y2="413.4" stroke="#1a1a1a" stroke-width="0.8" stroke-linecap="butt"/>
<line x1="190.9" y1="422.6" x2="195.1" y2="422.6" stroke="#1a1a1a" stroke-width="0.8" stroke-linecap="butt"/>
<line x1="196.9" y1="396" x2="196.9" y2="405.2" stroke="#1a1a1a" stroke-width="0.8" stroke-linecap="butt"/>
<line x1="194.8" y1="396" x2="199" y2="396" stroke="#1a1a1a" stroke-width="0.8" stroke-linecap="butt"/>
<line x1="194.8" y1="405.2" x2="199" y2="405.2" stroke="#1a1a1a" stroke-width="0.8" stroke-linecap="butt"/>
<line x1="200.1" y1="409" x2="200.1" y2="418.2" stroke="#1a1a1a" stroke-width="0.8" stroke-linecap="butt"/>
<line x1="198" y1="409" x2="202.2" y2="409" stroke="#1a1a1a" stroke-width="0.8" stroke-linecap="butt"/>
<line x1="198" y1="418.2" x2="202.2" y2="418.2" stroke="#1a1a1a" stroke-width="0.8" stroke-linecap="butt"/>
<line x1="204.1" y1="403.1" x2="204.1" y2="412.3" stroke="#1a1a1a" stroke-width="0.8" stroke-linecap="butt"/>
<line x1="202" y1="403.1" x2="206.2" y2="403.1" stroke="#1a1a1a" stroke-width="0.8" stroke-linecap="butt"/>
<line x1="202" y1="412.3" x2="206.2" y2="412.3" stroke="#1a1a1a" stroke-width="0.8" stroke-linecap="butt"/>
<line x1="207.2" y1="414.8" x2="207.2" y2="424" stroke="#1a1a1a" stroke-width="0.8" stroke-linecap="butt"/>
<line x1="205.1" y1="414.8" x2="209.3" y2="414.8" stroke="#1a1a1a" stroke-width="0.8" stroke-linecap="butt"/>
<line x1="205.1" y1="424" x2="209.3" y2="424" stroke="#1a1a1a" stroke-width="0.8" stroke-linecap="butt"/>
<line x1="210.9" y1="412.3" x2="210.9" y2="421.5" stroke="#1a1a1a" stroke-width="0.8" stroke-linecap="butt"/>
<line x1="208.8" y1="412.3" x2="213" y2="412.3" stroke="#1a1a1a" stroke-width="0.8" stroke-linecap="butt"/>
<line x1="208.8" y1="421.5" x2="213" y2="421.5" stroke="#1a1a1a" stroke-width="0.8" stroke-linecap="butt"/>
<line x1="215.1" y1="432" x2="215.1" y2="441.2" stroke="#1a1a1a" stroke-width="0.8" stroke-linecap="butt"/>
<line x1="213" y1="432" x2="217.2" y2="432" stroke="#1a1a1a" stroke-width="0.8" stroke-linecap="butt"/>
<line x1="213" y1="441.2" x2="217.2" y2="441.2" stroke="#1a1a1a" stroke-width="0.8" stroke-linecap="butt"/>
<line x1="218.4" y1="439.6" x2="218.4" y2="448.8" stroke="#1a1a1a" stroke-width="0.8" stroke-linecap="butt"/>
<line x1="216.3" y1="439.6" x2="220.5" y2="439.6" stroke="#1a1a1a" stroke-width="0.8" stroke-linecap="butt"/>
<line x1="216.3" y1="448.8" x2="220.5" y2="448.8" stroke="#1a1a1a" stroke-width="0.8" stroke-linecap="butt"/>
<line x1="222.5" y1="451.2" x2="222.5" y2="460.4" stroke="#1a1a1a" stroke-width="0.8" stroke-linecap="butt"/>
<line x1="220.4" y1="451.2" x2="224.6" y2="451.2" stroke="#1a1a1a" stroke-width="0.8" stroke-linecap="butt"/>
<line x1="220.4" y1="460.4" x2="224.6" y2="460.4" stroke="#1a1a1a" stroke-width="0.8" stroke-linecap="butt"/>
<line x1="225.8" y1="451.3" x2="225.8" y2="460.5" stroke="#1a1a1a" stroke-width="0.8" stroke-linecap="butt"/>
<line x1="223.7" y1="451.3" x2="227.9" y2="451.3" stroke="#1a1a1a" stroke-width="0.8" stroke-linecap="butt"/>
<line x1="223.7" y1="460.5" x2="227.9" y2="460.5" stroke="#1a1a1a" stroke-width="0.8" stroke-linecap="butt"/>
<line x1="228.9" y1="442.3" x2="228.9" y2="451.5" stroke="#1a1a1a" stroke-width="0.8" stroke-linecap="butt"/>
<line x1="226.8" y1="442.3" x2="231" y2="442.3" stroke="#1a1a1a" stroke-width="0.8" stroke-linecap="butt"/>
<line x1="226.8" y1="451.5" x2="231" y2="451.5" stroke="#1a1a1a" stroke-width="0.8" stroke-linecap="butt"/>
<line x1="233" y1="441" x2="233" y2="450.2" stroke="#1a1a1a" stroke-width="0.8" stroke-linecap="butt"/>
<line x1="230.9" y1="441" x2="235.1" y2="441" stroke="#1a1a1a" stroke-width="0.8" stroke-linecap="butt"/>
<line x1="230.9" y1="450.2" x2="235.1" y2="450.2" stroke="#1a1a1a" stroke-width="0.8" stroke-linecap="butt"/>
<line x1="236.5" y1="443.8" x2="236.5" y2="453" stroke="#1a1a1a" stroke-width="0.8" stroke-linecap="butt"/>
<line x1="234.4" y1="443.8" x2="238.6" y2="443.8" stroke="#1a1a1a" stroke-width="0.8" stroke-linecap="butt"/>
<line x1="234.4" y1="453" x2="238.6" y2="453" stroke="#1a1a1a" stroke-width="0.8" stroke-linecap="butt"/>
<line x1="240.6" y1="444.2" x2="240.6" y2="453.4" stroke="#1a1a1a" stroke-width="0.8" stroke-linecap="butt"/>
<line x1="238.5" y1="444.2" x2="242.7" y2="444.2" stroke="#1a1a1a" stroke-width="0.8" stroke-linecap="butt"/>
<line x1="238.5" y1="453.4" x2="242.7" y2="453.4" stroke="#1a1a1a" stroke-width="0.8" stroke-linecap="butt"/>
<line x1="243.7" y1="437.8" x2="243.7" y2="447" stroke="#1a1a1a" stroke-width="0.8" stroke-linecap="butt"/>
<line x1="241.6" y1="437.8" x2="245.8" y2="437.8" stroke="#1a1a1a" stroke-width="0.8" stroke-linecap="butt"/>
<line x1="241.6" y1="447" x2="245.8" y2="447" stroke="#1a1a1a" stroke-width="0.8" stroke-linecap="butt"/>
<line x1="247.2" y1="426.5" x2="247.2" y2="435.7" stroke="#1a1a1a" stroke-width="0.8" stroke-linecap="butt"/>
<line x1="245.1" y1="426.5" x2="249.3" y2="426.5" stroke="#1a1a1a" stroke-width="0.8" stroke-linecap="butt"/>
<line x1="245.1" y1="435.7" x2="249.3" y2="435.7" stroke="#1a1a1a" stroke-width="0.8" stroke-linecap="butt"/>
<line x1="251.3" y1="439.7" x2="251.3" y2="448.9" stroke="#1a1a1a" stroke-width="0.8" stroke-linecap="butt"/>
<line x1="249.2" y1="439.7" x2="253.4" y2="439.7" stroke="#1a1a1a" stroke-width="0.8" stroke-linecap="butt"/>
<line x1="249.2" y1="448.9" x2="253.4" y2="448.9" stroke="#1a1a1a" stroke-width="0.8" stroke-linecap="butt"/>
<line x1="254.7" y1="451.6" x2="254.7" y2="460.8" stroke="#1a1a1a" stroke-width="0.8" stroke-linecap="butt"/>
<line x1="252.6" y1="451.6" x2="256.8" y2="451.6" stroke="#1a1a1a" stroke-width="0.8" stroke-linecap="butt"/>
<line x1="252.6" y1="460.8" x2="256.8" y2="460.8" stroke="#1a1a1a" stroke-width="0.8" stroke-linecap="butt"/>
<line x1="258.8" y1="442.4" x2="258.8" y2="451.6" stroke="#1a1a1a" stroke-width="0.8" stroke-linecap="butt"/>
<line x1="256.7" y1="442.4" x2="260.9" y2="442.4" stroke="#1a1a1a" stroke-width="0.8" stroke-linecap="butt"/>
<line x1="256.7" y1="451.6" x2="260.9" y2="451.6" stroke="#1a1a1a" stroke-width="0.8" stroke-linecap="butt"/>
<line x1="262.1" y1="451.6" x2="262.1" y2="460.8" stroke="#1a1a1a" stroke-width="0.8" stroke-linecap="butt"/>
<line x1="260" y1="451.6" x2="264.2" y2="451.6" stroke="#1a1a1a" stroke-width="0.8" stroke-linecap="butt"/>
<line x1="260" y1="460.8" x2="264.2" y2="460.8" stroke="#1a1a1a" stroke-width="0.8" stroke-linecap="butt"/>
<line x1="265.4" y1="441.3" x2="265.4" y2="450.5" stroke="#1a1a1a" stroke-width="0.8" stroke-linecap="butt"/>
<line x1="263.3" y1="441.3" x2="267.5" y2="441.3" stroke="#1a1a1a" stroke-width="0.8" stroke-linecap="butt"/>
<line x1="263.3" y1="450.5" x2="267.5" y2="450.5" stroke="#1a1a1a" stroke-width="0.8" stroke-linecap="butt"/>
<line x1="269.5" y1="447.1" x2="269.5" y2="456.3" stroke="#1a1a1a" stroke-width="0.8" stroke-linecap="butt"/>
<line x1="267.4" y1="447.1" x2="271.6" y2="447.1" stroke="#1a1a1a" stroke-width="0.8" stroke-linecap="butt"/>
<line x1="267.4" y1="456.3" x2="271.6" y2="456.3" stroke="#1a1a1a" stroke-width="0.8" stroke-linecap="butt"/>
<line x1="272.7" y1="432.8" x2="272.7" y2="442" stroke="#1a1a1a" stroke-width="0.8" stroke-linecap="butt"/>
<line x1="270.6" y1="432.8" x2="274.8" y2="432.8" stroke="#1a1a1a" stroke-width="0.8" stroke-linecap="butt"/>
<line x1="270.6" y1="442" x2="274.8" y2="442" stroke="#1a1a1a" stroke-width="0.8" stroke-linecap="butt"/>
<line x1="278.6" y1="446.7" x2="278.6" y2="455.9" stroke="#1a1a1a" stroke-width="0.8" stroke-linecap="butt"/>
<line x1="276.5" y1="446.7" x2="280.7" y2="446.7" stroke="#1a1a1a" stroke-width="0.8" stroke-linecap="butt"/>
<line x1="276.5" y1="455.9" x2="280.7" y2="455.9" stroke="#1a1a1a" stroke-width="0.8" stroke-linecap="butt"/>
<line x1="285.9" y1="438.1" x2="285.9" y2="447.3" stroke="#1a1a1a" stroke-width="0.8" stroke-linecap="butt"/>
<line x1="283.8" y1="438.1" x2="288" y2="438.1" stroke="#1a1a1a" stroke-width="0.8" stroke-linecap="butt"/>
<line x1="283.8" y1="447.3" x2="288" y2="447.3" stroke="#1a1a1a" stroke-width="0.8" stroke-linecap="butt"/>
<line x1="292.6" y1="436" x2="292.6" y2="445.2" stroke="#1a1a1a" stroke-width="0.8" stroke-linecap="butt"/>
<line x1="290.5" y1="436" x2="294.7" y2="436" stroke="#1a1a1a" stroke-width="0.8" stroke-linecap="butt"/>
<line x1="290.5" y1="445.2" x2="294.7" y2="445.2" stroke="#1a1a1a" stroke-width="0.8" stroke-linecap="butt"/>
<line x1="300.1" y1="440.1" x2="300.1" y2="449.3" stroke="#1a1a1a" stroke-width="0.8" stroke-linecap="butt"/>
<line x1="298" y1="440.1" x2="302.2" y2="440.1" stroke="#1a1a1a" stroke-width="0.8" stroke-linecap="butt"/>
<line x1="298" y1="449.3" x2="302.2" y2="449.3" stroke="#1a1a1a" stroke-width="0.8" stroke-linecap="butt"/>
<line x1="307.4" y1="444.4" x2="307.4" y2="453.6" stroke="#1a1a1a" stroke-width="0.8" stroke-linecap="butt"/>
<line x1="305.3" y1="444.4" x2="309.5" y2="444.4" stroke="#1a1a1a" stroke-width="0.8" stroke-linecap="butt"/>
<line x1="305.3" y1="453.6" x2="309.5" y2="453.6" stroke="#1a1a1a" stroke-width="0.8" stroke-linecap="butt"/>
<line x1="315" y1="444.6" x2="315" y2="453.8" stroke="#1a1a1a" stroke-width="0.8" stroke-linecap="butt"/>
<line x1="312.9" y1="444.6" x2="317.1" y2="444.6" stroke="#1a1a1a" stroke-width="0.8" stroke-linecap="butt"/>
<line x1="312.9" y1="453.8" x2="317.1" y2="453.8" stroke="#1a1a1a" stroke-width="0.8" stroke-linecap="butt"/>
<line x1="322.4" y1="442.6" x2="322.4" y2="451.8" stroke="#1a1a1a" stroke-width="0.8" stroke-linecap="butt"/>
<line x1="320.3" y1="442.6" x2="324.5" y2="442.6" stroke="#1a1a1a" stroke-width="0.8" stroke-linecap="butt"/>
<line x1="320.3" y1="451.8" x2="324.5" y2="451.8" stroke="#1a1a1a" stroke-width="0.8" stroke-linecap="butt"/>
<line x1="328.9" y1="453.7" x2="328.9" y2="462.9" stroke="#1a1a1a" stroke-width="0.8" stroke-linecap="butt"/>
<line x1="326.8" y1="453.7" x2="331" y2="453.7" stroke="#1a1a1a" stroke-width="0.8" stroke-linecap="butt"/>
<line x1="326.8" y1="462.9" x2="331" y2="462.9" stroke="#1a1a1a" stroke-width="0.8" stroke-linecap="butt"/>
<line x1="335.6" y1="450.7" x2="335.6" y2="459.9" stroke="#1a1a1a" stroke-width="0.8" stroke-linecap="butt"/>
<line x1="333.5" y1="450.7" x2="337.7" y2="450.7" stroke="#1a1a1a" stroke-width="0.8" stroke-linecap="butt"/>
<line x1="333.5" y1="459.9" x2="337.7" y2="459.9" stroke="#1a1a1a" stroke-width="0.8" stroke-linecap="butt"/>
<line x1="344" y1="430.7" x2="344" y2="439.9" stroke="#1a1a1a" stroke-width="0.8" stroke-linecap="butt"/>
<line x1="341.9" y1="430.7" x2="346.1" y2="430.7" stroke="#1a1a1a" stroke-width="0.8" stroke-linecap="butt"/>
<line x1="341.9" y1="439.9" x2="346.1" y2="439.9" stroke="#1a1a1a" stroke-width="0.8" stroke-linecap="butt"/>
<line x1="351.2" y1="455.1" x2="351.2" y2="464.3" stroke="#1a1a1a" stroke-width="0.8" stroke-linecap="butt"/>
<line x1="349.1" y1="455.1" x2="353.3" y2="455.1" stroke="#1a1a1a" stroke-width="0.8" stroke-linecap="butt"/>
<line x1="349.1" y1="464.3" x2="353.3" y2="464.3" stroke="#1a1a1a" stroke-width="0.8" stroke-linecap="butt"/>
<line x1="358.6" y1="443.9" x2="358.6" y2="453.1" stroke="#1a1a1a" stroke-width="0.8" stroke-linecap="butt"/>
<line x1="356.5" y1="443.9" x2="360.7" y2="443.9" stroke="#1a1a1a" stroke-width="0.8" stroke-linecap="butt"/>
<line x1="356.5" y1="453.1" x2="360.7" y2="453.1" stroke="#1a1a1a" stroke-width="0.8" stroke-linecap="butt"/>
<line x1="365.3" y1="437.5" x2="365.3" y2="446.7" stroke="#1a1a1a" stroke-width="0.8" stroke-linecap="butt"/>
<line x1="363.2" y1="437.5" x2="367.4" y2="437.5" stroke="#1a1a1a" stroke-width="0.8" stroke-linecap="butt"/>
<line x1="363.2" y1="446.7" x2="367.4" y2="446.7" stroke="#1a1a1a" stroke-width="0.8" stroke-linecap="butt"/>
<line x1="372.6" y1="447.6" x2="372.6" y2="456.8" stroke="#1a1a1a" stroke-width="0.8" stroke-linecap="butt"/>
<line x1="370.5" y1="447.6" x2="374.7" y2="447.6" stroke="#1a1a1a" stroke-width="0.8" stroke-linecap="butt"/>
<line x1="370.5" y1="456.8" x2="374.7" y2="456.8" stroke="#1a1a1a" stroke-width="0.8" stroke-linecap="butt"/>
<line x1="380.1" y1="440.8" x2="380.1" y2="450" stroke="#1a1a1a" stroke-width="0.8" stroke-linecap="butt"/>
<line x1="378" y1="440.8" x2="382.2" y2="440.8" stroke="#1a1a1a" stroke-width="0.8" stroke-linecap="butt"/>
<line x1="378" y1="450" x2="382.2" y2="450" stroke="#1a1a1a" stroke-width="0.8" stroke-linecap="butt"/>
<line x1="387.5" y1="439.2" x2="387.5" y2="448.4" stroke="#1a1a1a" stroke-width="0.8" stroke-linecap="butt"/>
<line x1="385.4" y1="439.2" x2="389.6" y2="439.2" stroke="#1a1a1a" stroke-width="0.8" stroke-linecap="butt"/>
<line x1="385.4" y1="448.4" x2="389.6" y2="448.4" stroke="#1a1a1a" stroke-width="0.8" stroke-linecap="butt"/>
<line x1="395" y1="447.8" x2="395" y2="457" stroke="#1a1a1a" stroke-width="0.8" stroke-linecap="butt"/>
<line x1="392.9" y1="447.8" x2="397.1" y2="447.8" stroke="#1a1a1a" stroke-width="0.8" stroke-linecap="butt"/>
<line x1="392.9" y1="457" x2="397.1" y2="457" stroke="#1a1a1a" stroke-width="0.8" stroke-linecap="butt"/>
<line x1="401.8" y1="446.8" x2="401.8" y2="456" stroke="#1a1a1a" stroke-width="0.8" stroke-linecap="butt"/>
<line x1="399.7" y1="446.8" x2="403.9" y2="446.8" stroke="#1a1a1a" stroke-width="0.8" stroke-linecap="butt"/>
<line x1="399.7" y1="456" x2="403.9" y2="456" stroke="#1a1a1a" stroke-width="0.8" stroke-linecap="butt"/>
<line x1="409" y1="438.4" x2="409" y2="447.6" stroke="#1a1a1a" stroke-width="0.8" stroke-linecap="butt"/>
<line x1="406.9" y1="438.4" x2="411.1" y2="438.4" stroke="#1a1a1a" stroke-width="0.8" stroke-linecap="butt"/>
<line x1="406.9" y1="447.6" x2="411.1" y2="447.6" stroke="#1a1a1a" stroke-width="0.8" stroke-linecap="butt"/>
<line x1="416.4" y1="447.1" x2="416.4" y2="456.3" stroke="#1a1a1a" stroke-width="0.8" stroke-linecap="butt"/>
<line x1="414.3" y1="447.1" x2="418.5" y2="447.1" stroke="#1a1a1a" stroke-width="0.8" stroke-linecap="butt"/>
<line x1="414.3" y1="456.3" x2="418.5" y2="456.3" stroke="#1a1a1a" stroke-width="0.8" stroke-linecap="butt"/>
<line x1="471.2" y1="435.2" x2="471.2" y2="444.4" stroke="#1a1a1a" stroke-width="0.8" stroke-linecap="butt"/>
<line x1="469.1" y1="435.2" x2="473.3" y2="435.2" stroke="#1a1a1a" stroke-width="0.8" stroke-linecap="butt"/>
<line x1="469.1" y1="444.4" x2="473.3" y2="444.4" stroke="#1a1a1a" stroke-width="0.8" stroke-linecap="butt"/>
<line x1="485" y1="446.2" x2="485" y2="455.4" stroke="#1a1a1a" stroke-width="0.8" stroke-linecap="butt"/>
<line x1="482.9" y1="446.2" x2="487.1" y2="446.2" stroke="#1a1a1a" stroke-width="0.8" stroke-linecap="butt"/>
<line x1="482.9" y1="455.4" x2="487.1" y2="455.4" stroke="#1a1a1a" stroke-width="0.8" stroke-linecap="butt"/>
<line x1="499.8" y1="445.8" x2="499.8" y2="455" stroke="#1a1a1a" stroke-width="0.8" stroke-linecap="butt"/>
<line x1="497.7" y1="445.8" x2="501.9" y2="445.8" stroke="#1a1a1a" stroke-width="0.8" stroke-linecap="butt"/>
<line x1="497.7" y1="455" x2="501.9" y2="455" stroke="#1a1a1a" stroke-width="0.8" stroke-linecap="butt"/>
<line x1="514.8" y1="429.1" x2="514.8" y2="438.3" stroke="#1a1a1a" stroke-width="0.8" stroke-linecap="butt"/>
<line x1="512.7" y1="429.1" x2="516.9" y2="429.1" stroke="#1a1a1a" stroke-width="0.8" stroke-linecap="butt"/>
<line x1="512.7" y1="438.3" x2="516.9" y2="438.3" stroke="#1a1a1a" stroke-width="0.8" stroke-linecap="butt"/>
<line x1="528.7" y1="438.6" x2="528.7" y2="447.8" stroke="#1a1a1a" stroke-width="0.8" stroke-linecap="butt"/>
<line x1="526.6" y1="438.6" x2="530.8" y2="438.6" stroke="#1a1a1a" stroke-width="0.8" stroke-linecap="butt"/>
<line x1="526.6" y1="447.8" x2="530.8" y2="447.8" stroke="#1a1a1a" stroke-width="0.8" stroke-linecap="butt"/>
<line x1="543.5" y1="436.7" x2="543.5" y2="445.9" stroke="#1a1a1a" stroke-width="0.8" stroke-linecap="butt"/>
<line x1="541.4" y1="436.7" x2="545.6" y2="436.7" stroke="#1a1a1a" stroke-width="0.8" stroke-linecap="butt"/>
<line x1="541.4" y1="445.9" x2="545.6" y2="445.9" stroke="#1a1a1a" stroke-width="0.8" stroke-linecap="butt"/>
<circle cx="180.3" cy="417.7" r="2.8" fill="#5b8ff2" stroke="#1a1a1a" stroke-width="1"/>
<circle cx="189.3" cy="411.4" r="2.8" fill="#5b8ff2" stroke="#1a1a1a" stroke-width="1"/>
<circle cx="193" cy="418" r="2.8" fill="#5b8ff2" stroke="#1a1a1a" stroke-width="1"/>
<circle cx="196.9" cy="400.6" r="2.8" fill="#5b8ff2" stroke="#1a1a1a" stroke-width="1"/>
<circle cx="200.1" cy="413.6" r="2.8" fill="#5b8ff2" stroke="#1a1a1a" stroke-width="1"/>
<circle cx="204.1" cy="407.7" r="2.8" fill="#5b8ff2" stroke="#1a1a1a" stroke-width="1"/>
<circle cx="207.2" cy="419.4" r="2.8" fill="#5b8ff2" stroke="#1a1a1a" stroke-width="1"/>
<circle cx="210.9" cy="416.9" r="2.8" fill="#5b8ff2" stroke="#1a1a1a" stroke-width="1"/>
<circle cx="215.1" cy="436.6" r="2.8" fill="#5b8ff2" stroke="#1a1a1a" stroke-width="1"/>
<circle cx="218.4" cy="444.2" r="2.8" fill="#5b8ff2" stroke="#1a1a1a" stroke-width="1"/>
<circle cx="222.5" cy="455.8" r="2.8" fill="#5b8ff2" stroke="#1a1a1a" stroke-width="1"/>
<circle cx="225.8" cy="455.9" r="2.8" fill="#5b8ff2" stroke="#1a1a1a" stroke-width="1"/>
<circle cx="228.9" cy="446.9" r="2.8" fill="#5b8ff2" stroke="#1a1a1a" stroke-width="1"/>
<circle cx="233" cy="445.6" r="2.8" fill="#5b8ff2" stroke="#1a1a1a" stroke-width="1"/>
<circle cx="236.5" cy="448.4" r="2.8" fill="#5b8ff2" stroke="#1a1a1a" stroke-width="1"/>
<circle cx="240.6" cy="448.8" r="2.8" fill="#5b8ff2" stroke="#1a1a1a" stroke-width="1"/>
<circle cx="243.7" cy="442.4" r="2.8" fill="#5b8ff2" stroke="#1a1a1a" stroke-width="1"/>
<circle cx="247.2" cy="431.1" r="2.8" fill="#5b8ff2" stroke="#1a1a1a" stroke-width="1"/>
<circle cx="251.3" cy="444.3" r="2.8" fill="#5b8ff2" stroke="#1a1a1a" stroke-width="1"/>
<circle cx="254.7" cy="456.2" r="2.8" fill="#5b8ff2" stroke="#1a1a1a" stroke-width="1"/>
<circle cx="258.8" cy="447" r="2.8" fill="#5b8ff2" stroke="#1a1a1a" stroke-width="1"/>
<circle cx="262.1" cy="456.2" r="2.8" fill="#5b8ff2" stroke="#1a1a1a" stroke-width="1"/>
<circle cx="265.4" cy="445.9" r="2.8" fill="#5b8ff2" stroke="#1a1a1a" stroke-width="1"/>
<circle cx="269.5" cy="451.7" r="2.8" fill="#5b8ff2" stroke="#1a1a1a" stroke-width="1"/>
<circle cx="272.7" cy="437.4" r="2.8" fill="#5b8ff2" stroke="#1a1a1a" stroke-width="1"/>
<circle cx="278.6" cy="451.3" r="2.8" fill="#5b8ff2" stroke="#1a1a1a" stroke-width="1"/>
<circle cx="285.9" cy="442.7" r="2.8" fill="#5b8ff2" stroke="#1a1a1a" stroke-width="1"/>
<circle cx="292.6" cy="440.6" r="2.8" fill="#5b8ff2" stroke="#1a1a1a" stroke-width="1"/>
<circle cx="300.1" cy="444.7" r="2.8" fill="#5b8ff2" stroke="#1a1a1a" stroke-width="1"/>
<circle cx="307.4" cy="449" r="2.8" fill="#5b8ff2" stroke="#1a1a1a" stroke-width="1"/>
<circle cx="315" cy="449.2" r="2.8" fill="#5b8ff2" stroke="#1a1a1a" stroke-width="1"/>
<circle cx="322.4" cy="447.2" r="2.8" fill="#5b8ff2" stroke="#1a1a1a" stroke-width="1"/>
<circle cx="328.9" cy="458.3" r="2.8" fill="#5b8ff2" stroke="#1a1a1a" stroke-width="1"/>
<circle cx="335.6" cy="455.3" r="2.8" fill="#5b8ff2" stroke="#1a1a1a" stroke-width="1"/>
<circle cx="344" cy="435.3" r="2.8" fill="#5b8ff2" stroke="#1a1a1a" stroke-width="1"/>
<circle cx="351.2" cy="459.7" r="2.8" fill="#5b8ff2" stroke="#1a1a1a" stroke-width="1"/>
<circle cx="358.6" cy="448.5" r="2.8" fill="#5b8ff2" stroke="#1a1a1a" stroke-width="1"/>
<circle cx="365.3" cy="442.1" r="2.8" fill="#5b8ff2" stroke="#1a1a1a" stroke-width="1"/>
<circle cx="372.6" cy="452.2" r="2.8" fill="#5b8ff2" stroke="#1a1a1a" stroke-width="1"/>
<circle cx="380.1" cy="445.4" r="2.8" fill="#5b8ff2" stroke="#1a1a1a" stroke-width="1"/>
<circle cx="387.5" cy="443.8" r="2.8" fill="#5b8ff2" stroke="#1a1a1a" stroke-width="1"/>
<circle cx="395" cy="452.4" r="2.8" fill="#5b8ff2" stroke="#1a1a1a" stroke-width="1"/>
<circle cx="401.8" cy="451.4" r="2.8" fill="#5b8ff2" stroke="#1a1a1a" stroke-width="1"/>
<circle cx="409" cy="443" r="2.8" fill="#5b8ff2" stroke="#1a1a1a" stroke-width="1"/>
<circle cx="416.4" cy="451.7" r="2.8" fill="#5b8ff2" stroke="#1a1a1a" stroke-width="1"/>
<circle cx="471.2" cy="439.8" r="2.8" fill="#5b8ff2" stroke="#1a1a1a" stroke-width="1"/>
<circle cx="485" cy="450.8" r="2.8" fill="#5b8ff2" stroke="#1a1a1a" stroke-width="1"/>
<circle cx="499.8" cy="450.4" r="2.8" fill="#5b8ff2" stroke="#1a1a1a" stroke-width="1"/>
<circle cx="514.8" cy="433.7" r="2.8" fill="#5b8ff2" stroke="#1a1a1a" stroke-width="1"/>
<circle cx="528.7" cy="443.2" r="2.8" fill="#5b8ff2" stroke="#1a1a1a" stroke-width="1"/>
<circle cx="543.5" cy="441.3" r="2.8" fill="#5b8ff2" stroke="#1a1a1a" stroke-width="1"/>
<line x1="212.5" y1="214.2" x2="236.3" y2="214.2" stroke="#231f20" stroke-width="1.1" stroke-linecap="butt"/>
<path d="M210.6,214.2 L215.8,211.7 L215.8,216.7Z" stroke="none" stroke-width="0" fill="#231f20" stroke-linejoin="round" stroke-linecap="round"/>
<path d="M238.4,214.2 L233.2,216.7 L233.2,211.7Z" stroke="none" stroke-width="0" fill="#231f20" stroke-linejoin="round" stroke-linecap="round"/>
<text x="242.8" y="216.9" font-size="11.2" fill="#231f20" stroke="#231f20" font-style="italic">Δ</text>
<text x="251.2" y="216.9" font-size="11.2" fill="#231f20" stroke="#231f20" font-family="Liberation Serif">ω</text>
<text x="259" y="216.9" font-size="11.2" fill="#231f20" stroke="#231f20" font-style="italic">t</text>
<text x="265.6" y="218.2" font-size="12.5" fill="#231f20" stroke="#231f20">~</text>
<text x="276.4" y="216.9" font-size="11.5" fill="#231f20" stroke="#231f20" font-family="Liberation Serif" font-weight="bold">π</text>
<line x1="412" y1="212.6" x2="419" y2="212.6" stroke="#7d7d7d" stroke-width="2.4" stroke-linecap="butt"/>
<text x="422.4" y="215.3" font-size="10.4" fill="#231f20" stroke="#231f20" textLength="78.6" lengthAdjust="spacingAndGlyphs">Simulation (DECP)</text>
<line x1="412" y1="224.3" x2="419" y2="224.3" stroke="#ffa9a9" stroke-width="2.4" stroke-linecap="butt"/>
<text x="422.4" y="227.1" font-size="10.4" fill="#231f20" stroke="#231f20" textLength="103.2" lengthAdjust="spacingAndGlyphs">Simulation (π shifted CP)</text>
<circle cx="415.7" cy="236.1" r="2.9" fill="#f45c5c" stroke="#1a1a1a" stroke-width="1"/>
<text x="422.4" y="239" font-size="10.4" fill="#231f20" stroke="#231f20" textLength="51.2" lengthAdjust="spacingAndGlyphs">2×2×2 CDW</text>
<line x1="411.9" y1="386" x2="418.9" y2="386" stroke="#72a2f4" stroke-width="2.4" stroke-linecap="butt"/>
<text x="422.4" y="388.5" font-size="10.4" fill="#231f20" stroke="#231f20" textLength="129.2" lengthAdjust="spacingAndGlyphs">Simulation (melting + recovery)</text>
<circle cx="415.8" cy="400" r="2.9" fill="#5b8ff2" stroke="#1a1a1a" stroke-width="1"/>
<text x="422.4" y="403" font-size="10.4" fill="#231f20" stroke="#231f20" textLength="51.2" lengthAdjust="spacingAndGlyphs">2×2×1 CDW</text>
<text x="209.8" y="488.6" font-size="10.6" fill="#231f20" stroke="#231f20" text-anchor="middle">0</text>
<text x="282.6" y="488.6" font-size="10.6" fill="#231f20" stroke="#231f20" text-anchor="middle">1</text>
<text x="355.4" y="488.6" font-size="10.6" fill="#231f20" stroke="#231f20" text-anchor="middle">2</text>
<text x="428.2" y="488.6" font-size="10.6" fill="#231f20" stroke="#231f20" text-anchor="middle">3</text>
<text x="499.22" y="488.6" font-size="10.6" fill="#231f20" stroke="#231f20" text-anchor="middle">400</text>
<text x="557.2" y="488.6" font-size="10.6" fill="#231f20" stroke="#231f20" text-anchor="middle">800</text>
<text x="166.6" y="271.9" font-size="10.6" fill="#231f20" stroke="#231f20" text-anchor="end">1.0</text>
<text x="166.6" y="360.3" font-size="10.6" fill="#231f20" stroke="#231f20" text-anchor="end">0.5</text>
<text x="166.6" y="415.8" font-size="10.6" fill="#231f20" stroke="#231f20" text-anchor="end">1.0</text>
<text x="166.6" y="478.2" font-size="10.6" fill="#231f20" stroke="#231f20" text-anchor="end">0.5</text>
<text x="378.2" y="501.6" font-size="10.4" fill="#231f20" stroke="#231f20" text-anchor="middle" textLength="67.6" lengthAdjust="spacingAndGlyphs">Delay time (ps)</text>
<text x="143.8" y="343.5" font-size="10.4" fill="#231f20" stroke="#231f20" text-anchor="middle" textLength="83" lengthAdjust="spacingAndGlyphs" transform="rotate(-90 143.8 343.5)">Intensity (arb. unit)</text>
<text x="133.6" y="206" font-size="20.5" fill="#231f20" stroke="#231f20">d</text>
<line x1="414" y1="11.6" x2="414" y2="138.5" stroke="#aaaaaa" stroke-width="1.4" stroke-linecap="butt" stroke-dasharray="2.4,2.2"/>
<path d="M323.17,11.48 L323.48,11.56 L323.8,11.65 L324.11,11.74 L324.43,11.83 L324.74,11.92 L325.05,12.01 L325.37,12.1 L325.68,12.19 L326,12.28 L326.31,12.37 L326.63,12.47 L326.94,12.56 L327.25,12.66 L327.57,12.76 L327.88,12.85 L328.2,12.95 L328.51,13.05 L328.82,13.15 L329.14,13.25 L329.45,13.35 L329.77,13.45 L330.08,13.56 L330.39,13.66 L330.71,13.76 L331.02,13.87 L331.34,13.98 L331.65,14.08 L331.97,14.19 L332.28,14.3 L332.59,14.41 L332.91,14.52 L333.22,14.63 L333.54,14.75 L333.85,14.86 L334.16,14.97 L334.48,15.09 L334.79,15.21 L335.11,15.32 L335.42,15.44 L335.73,15.56 L336.05,15.68 L336.36,15.8 L336.68,15.92 L336.99,16.05 L337.3,16.17 L337.62,16.3 L337.93,16.42 L338.25,16.55 L338.56,16.68 L338.88,16.81 L339.19,16.94 L339.5,17.07 L339.82,17.2 L340.13,17.33 L340.45,17.47 L340.76,17.6 L341.07,17.74 L341.39,17.88 L341.7,18.01 L342.02,18.15 L342.33,18.29 L342.64,18.44 L342.96,18.58 L343.27,18.72 L343.59,18.87 L343.9,19.01 L344.22,19.16 L344.53,19.31 L344.84,19.46 L345.16,19.61 L345.47,19.76 L345.79,19.91 L346.1,20.07 L346.41,20.22 L346.73,20.38 L347.04,20.54 L347.36,20.7 L347.67,20.86 L347.98,21.02 L348.3,21.18 L348.61,21.34 L348.93,21.51 L349.24,21.68 L349.55,21.84 L349.87,22.01 L350.18,22.18 L350.5,22.35 L350.81,22.53 L351.13,22.7 L351.44,22.88 L351.75,23.05 L352.07,23.23 L352.38,23.41 L352.7,23.59 L353.01,23.77 L353.32,23.96 L353.64,24.14 L353.95,24.33 L354.27,24.51 L354.58,24.7 L354.89,24.89 L355.21,25.09 L355.52,25.28 L355.84,25.47 L356.15,25.67 L356.46,25.87 L356.78,26.07 L357.09,26.27 L357.41,26.47 L357.72,26.67 L358.04,26.88 L358.35,27.08 L358.66,27.29 L358.98,27.5 L359.29,27.71 L359.61,27.93 L359.92,28.14 L360.23,28.36 L360.55,28.58 L360.86,28.8 L361.18,29.02 L361.49,29.24 L361.8,29.46 L362.12,29.69 L362.43,29.92 L362.75,30.15 L363.06,30.38 L363.38,30.61 L363.69,30.85 L364,31.08 L364.32,31.32 L364.63,31.56 L364.95,31.8 L365.26,32.05 L365.57,32.29 L365.89,32.54 L366.2,32.79 L366.52,33.04 L366.83,33.29 L367.14,33.55 L367.46,33.8 L367.77,34.06 L368.09,34.32 L368.4,34.59 L368.71,34.85 L369.03,35.12 L369.34,35.39 L369.66,35.66 L369.97,35.93 L370.29,36.21 L370.6,36.48 L370.91,36.76 L371.23,37.04 L371.54,37.33 L371.86,37.61 L372.17,37.9 L372.48,38.19 L372.8,38.48 L373.11,38.78 L373.43,39.07 L373.74,39.37 L374.05,39.67 L374.37,39.98 L374.68,40.28 L375,40.59 L375.31,40.9 L375.62,41.21 L375.94,41.53 L376.25,41.85 L376.57,42.17 L376.88,42.49 L377.2,42.82 L377.51,43.15 L377.82,43.48 L378.14,43.81 L378.45,44.15 L378.77,44.49 L379.08,44.83 L379.39,45.17 L379.71,45.52 L380.02,45.87 L380.34,46.22 L380.65,46.58 L380.96,46.94 L381.28,47.3 L381.59,47.66 L381.91,48.03 L382.22,48.4 L382.54,48.77 L382.85,49.15 L383.16,49.53 L383.48,49.91 L383.79,50.3 L384.11,50.69 L384.42,51.08 L384.73,51.48 L385.05,51.87 L385.36,52.28 L385.68,52.68 L385.99,53.09 L386.3,53.51 L386.62,53.92 L386.93,54.34 L387.25,54.77 L387.56,55.19 L387.87,55.63 L388.19,56.06 L388.5,56.5 L388.82,56.94 L389.13,57.39 L389.45,57.84 L389.76,58.3 L390.07,58.76 L390.39,59.22 L390.7,59.69 L391.02,60.16 L391.33,60.64 L391.64,61.12 L391.96,61.61 L392.27,62.1 L392.59,62.6 L392.9,63.1 L393.21,63.6 L393.53,64.11 L393.84,64.63 L394.16,65.15 L394.47,65.67 L394.79,66.21 L395.1,66.74 L395.41,67.29 L395.73,67.83 L396.04,68.39 L396.36,68.95 L396.67,69.51 L396.98,70.09 L397.3,70.66 L397.61,71.25 L397.93,71.84 L398.24,72.44 L398.55,73.04 L398.87,73.66 L399.18,74.28 L399.5,74.9 L399.81,75.54 L400.12,76.18 L400.44,76.83 L400.75,77.49 L401.07,78.16 L401.38,78.83 L401.7,79.52 L402.01,80.21 L402.32,80.91 L402.64,81.63 L402.95,82.35 L403.27,83.08 L403.58,83.83 L403.89,84.58 L404.21,85.35 L404.52,86.13 L404.84,86.92 L405.15,87.73 L405.46,88.54 L405.78,89.38 L406.09,90.22 L406.41,91.09 L406.72,91.96 L407.04,92.86 L407.35,93.77 L407.66,94.7 L407.98,95.65 L408.29,96.63 L408.61,97.62 L408.92,98.64 L409.23,99.68 L409.55,100.75 L409.86,101.85 L410.18,102.98 L410.49,104.15 L410.8,105.35 L411.12,106.59 L411.43,107.89 L411.75,109.23 L412.06,110.63 L412.37,112.1 L412.69,113.64 L413,115.28 L413.32,117.04 L413.63,118.94 L413.95,121.03 L414.26,123.41 L414.57,126.27 L414.89,130.33 L414.99,133.5 L464.6,133.5" stroke="#72a2f4" stroke-width="2.8" fill="none" stroke-linejoin="round" stroke-linecap="butt"/>
<path d="M297.1,17.51 L297.2,17.53 L297.31,17.55 L297.41,17.57 L297.52,17.59 L297.62,17.61 L297.73,17.63 L297.83,17.65 L297.94,17.67 L298.04,17.69 L298.15,17.71 L298.25,17.73 L298.36,17.75 L298.46,17.77 L298.57,17.79 L298.67,17.81 L298.78,17.83 L298.88,17.85 L298.98,17.87 L299.09,17.89 L299.19,17.91 L299.3,17.93 L299.4,17.95 L299.51,17.97 L299.61,17.99 L299.72,18.01 L299.82,18.03 L299.93,18.05 L300.03,18.07 L300.14,18.09 L300.24,18.11 L300.35,18.14 L300.45,18.16 L300.56,18.18 L300.66,18.2 L300.76,18.22 L300.87,18.24 L300.97,18.26 L301.08,18.28 L301.18,18.3 L301.29,18.33 L301.39,18.35 L301.5,18.37 L301.6,18.39 L301.71,18.41 L301.81,18.43 L301.92,18.45 L302.02,18.48 L302.13,18.5 L302.23,18.52 L302.34,18.54 L302.44,18.56 L302.54,18.58 L302.65,18.61 L302.75,18.63 L302.86,18.65 L302.96,18.67 L303.07,18.69 L303.17,18.72 L303.28,18.74 L303.38,18.76 L303.49,18.78 L303.59,18.81 L303.7,18.83 L303.8,18.85 L303.91,18.87 L304.01,18.9 L304.11,18.92 L304.22,18.94 L304.32,18.96 L304.43,18.99 L304.53,19.01 L304.64,19.03 L304.74,19.05 L304.85,19.08 L304.95,19.1 L305.06,19.12 L305.16,19.15 L305.27,19.17 L305.37,19.19 L305.48,19.22 L305.58,19.24 L305.69,19.26 L305.79,19.28 L305.89,19.31 L306,19.33 L306.1,19.36 L306.21,19.38 L306.31,19.4 L306.42,19.43 L306.52,19.45 L306.63,19.47 L306.73,19.5 L306.84,19.52 L306.94,19.54 L307.05,19.57 L307.15,19.59 L307.26,19.62 L307.36,19.64 L307.47,19.66 L307.57,19.69 L307.67,19.71 L307.78,19.74 L307.88,19.76 L307.99,19.79 L308.09,19.81 L308.2,19.83 L308.3,19.86 L308.41,19.88 L308.51,19.91 L308.62,19.93 L308.72,19.96 L308.83,19.98 L308.93,20.01 L309.04,20.03 L309.14,20.06 L309.25,20.08 L309.35,20.11 L309.45,20.13 L309.56,20.16 L309.66,20.18 L309.77,20.21 L309.87,20.23 L309.98,20.26 L310.08,20.28 L310.19,20.31 L310.29,20.33 L310.4,20.36 L310.5,20.38 L310.61,20.41 L310.71,20.44 L310.82,20.46 L310.92,20.49 L311.03,20.51 L311.13,20.54 L311.23,20.57 L311.34,20.59 L311.44,20.62 L311.55,20.64 L311.65,20.67 L311.76,20.7 L311.86,20.72 L311.97,20.75 L312.07,20.77 L312.18,20.8 L312.28,20.83 L312.39,20.85 L312.49,20.88 L312.6,20.91 L312.7,20.93 L312.81,20.96 L312.91,20.99 L313.01,21.01 L313.12,21.04 L313.22,21.07 L313.33,21.09 L313.43,21.12 L313.54,21.15 L313.64,21.18 L313.75,21.2 L313.85,21.23 L313.96,21.26 L314.06,21.28 L314.17,21.31 L314.27,21.34 L314.38,21.37 L314.48,21.39 L314.58,21.42 L314.69,21.45 L314.79,21.48 L314.9,21.51 L315,21.53 L315.11,21.56 L315.21,21.59 L315.32,21.62 L315.42,21.65 L315.53,21.67 L315.63,21.7 L315.74,21.73 L315.84,21.76 L315.95,21.79 L316.05,21.81 L316.16,21.84 L316.26,21.87 L316.36,21.9 L316.47,21.93 L316.57,21.96 L316.68,21.99 L316.78,22.01 L316.89,22.04 L316.99,22.07 L317.1,22.1 L317.2,22.13 L317.31,22.16 L317.41,22.19 L317.52,22.22 L317.62,22.25 L317.73,22.28 L317.83,22.31 L317.94,22.33 L318.04,22.36 L318.14,22.39 L318.25,22.42 L318.35,22.45 L318.46,22.48 L318.56,22.51 L318.67,22.54 L318.77,22.57 L318.88,22.6 L318.98,22.63 L319.09,22.66 L319.19,22.69 L319.3,22.72 L319.4,22.75 L319.51,22.78 L319.61,22.81 L319.72,22.84 L319.82,22.87 L319.92,22.9 L320.03,22.93 L320.13,22.97 L320.24,23 L320.34,23.03 L320.45,23.06 L320.55,23.09 L320.66,23.12 L320.76,23.15 L320.87,23.18 L320.97,23.21 L321.08,23.24 L321.18,23.27 L321.29,23.31 L321.39,23.34 L321.5,23.37 L321.6,23.4 L321.7,23.43 L321.81,23.46 L321.91,23.49 L322.02,23.53 L322.12,23.56 L322.23,23.59 L322.33,23.62 L322.44,23.65 L322.54,23.69 L322.65,23.72 L322.75,23.75 L322.86,23.78 L322.96,23.81 L323.07,23.85 L323.17,23.88 L323.28,23.91 L323.38,23.94 L323.48,23.98 L323.59,24.01 L323.69,24.04 L323.8,24.07 L323.9,24.11 L324.01,24.14 L324.11,24.17 L324.22,24.21 L324.32,24.24 L324.43,24.27 L324.53,24.3 L324.64,24.34 L324.74,24.37 L324.85,24.4 L324.95,24.44 L325.05,24.47 L325.16,24.51 L325.26,24.54 L325.37,24.57 L325.47,24.61 L325.58,24.64 L325.68,24.67 L325.79,24.71 L325.89,24.74 L326,24.78 L326.1,24.81 L326.21,24.84 L326.31,24.88 L326.42,24.91 L326.52,24.95 L326.63,24.98 L326.73,25.02 L326.83,25.05 L326.94,25.08 L327.04,25.12 L327.15,25.15 L327.25,25.19 L327.36,25.22 L327.46,25.26 L327.57,25.29 L327.67,25.33 L327.78,25.36 L327.88,25.4 L327.99,25.43 L328.09,25.47 L328.2,25.51 L328.3,25.54 L328.41,25.58 L328.51,25.61 L328.61,25.65 L328.72,25.68 L328.82,25.72 L328.93,25.75 L329.03,25.79 L329.14,25.83 L329.24,25.86 L329.35,25.9 L329.45,25.94 L329.56,25.97 L329.66,26.01 L329.77,26.04 L329.87,26.08 L329.98,26.12 L330.08,26.15 L330.19,26.19 L330.29,26.23 L330.39,26.26 L330.5,26.3 L330.6,26.34 L330.71,26.37 L330.81,26.41 L330.92,26.45 L331.02,26.49 L331.13,26.52 L331.23,26.56 L331.34,26.6 L331.44,26.64 L331.55,26.67 L331.65,26.71 L331.76,26.75 L331.86,26.79 L331.97,26.82 L332.07,26.86 L332.17,26.9 L332.28,26.94 L332.38,26.98 L332.49,27.01 L332.59,27.05 L332.7,27.09 L332.8,27.13 L332.91,27.17 L333.01,27.21 L333.12,27.25 L333.22,27.28 L333.33,27.32 L333.43,27.36 L333.54,27.4 L333.64,27.44 L333.75,27.48 L333.85,27.52 L333.95,27.56 L334.06,27.6 L334.16,27.64 L334.27,27.67 L334.37,27.71 L334.48,27.75 L334.58,27.79 L334.69,27.83 L334.79,27.87 L334.9,27.91 L335,27.95 L335.11,27.99 L335.21,28.03 L335.32,28.07 L335.42,28.11 L335.52,28.15 L335.63,28.19 L335.73,28.23 L335.84,28.27 L335.94,28.32 L336.05,28.36 L336.15,28.4 L336.26,28.44 L336.36,28.48 L336.47,28.52 L336.57,28.56 L336.68,28.6 L336.78,28.64 L336.89,28.68 L336.99,28.73 L337.1,28.77 L337.2,28.81 L337.3,28.85 L337.41,28.89 L337.51,28.93 L337.62,28.98 L337.72,29.02 L337.83,29.06 L337.93,29.1 L338.04,29.14 L338.14,29.19 L338.25,29.23 L338.35,29.27 L338.46,29.31 L338.56,29.36 L338.67,29.4 L338.77,29.44 L338.88,29.48 L338.98,29.53 L339.08,29.57 L339.19,29.61 L339.29,29.65 L339.4,29.7 L339.5,29.74 L339.61,29.78 L339.71,29.83 L339.82,29.87 L339.92,29.91 L340.03,29.96 L340.13,30 L340.24,30.05 L340.34,30.09 L340.45,30.13 L340.55,30.18 L340.66,30.22 L340.76,30.27 L340.86,30.31 L340.97,30.35 L341.07,30.4 L341.18,30.44 L341.28,30.49 L341.39,30.53 L341.49,30.58 L341.6,30.62 L341.7,30.67 L341.81,30.71 L341.91,30.76 L342.02,30.8 L342.12,30.85 L342.23,30.89 L342.33,30.94 L342.44,30.98 L342.54,31.03 L342.64,31.08 L342.75,31.12 L342.85,31.17 L342.96,31.21 L343.06,31.26 L343.17,31.31 L343.27,31.35 L343.38,31.4 L343.48,31.44 L343.59,31.49 L343.69,31.54 L343.8,31.58 L343.9,31.63 L344.01,31.68 L344.11,31.72 L344.22,31.77 L344.32,31.82 L344.42,31.87 L344.53,31.91 L344.63,31.96 L344.74,32.01 L344.84,32.05 L344.95,32.1 L345.05,32.15 L345.16,32.2 L345.26,32.25 L345.37,32.29 L345.47,32.34 L345.58,32.39 L345.68,32.44 L345.79,32.49 L345.89,32.53 L345.99,32.58 L346.1,32.63 L346.2,32.68 L346.31,32.73 L346.41,32.78 L346.52,32.83 L346.62,32.88 L346.73,32.92 L346.83,32.97 L346.94,33.02 L347.04,33.07 L347.15,33.12 L347.25,33.17 L347.36,33.22 L347.46,33.27 L347.57,33.32 L347.67,33.37 L347.77,33.42 L347.88,33.47 L347.98,33.52 L348.09,33.57 L348.19,33.62 L348.3,33.67 L348.4,33.72 L348.51,33.77 L348.61,33.82 L348.72,33.87 L348.82,33.93 L348.93,33.98 L349.03,34.03 L349.14,34.08 L349.24,34.13 L349.35,34.18 L349.45,34.23 L349.55,34.28 L349.66,34.34 L349.76,34.39 L349.87,34.44 L349.97,34.49 L350.08,34.54 L350.18,34.6 L350.29,34.65 L350.39,34.7 L350.5,34.75 L350.6,34.81 L350.71,34.86 L350.81,34.91 L350.92,34.96 L351.02,35.02 L351.13,35.07 L351.23,35.12 L351.33,35.18 L351.44,35.23 L351.54,35.28 L351.65,35.34 L351.75,35.39 L351.86,35.45 L351.96,35.5 L352.07,35.55 L352.17,35.61 L352.28,35.66 L352.38,35.72 L352.49,35.77 L352.59,35.82 L352.7,35.88 L352.8,35.93 L352.91,35.99 L353.01,36.04 L353.11,36.1 L353.22,36.15 L353.32,36.21 L353.43,36.26 L353.53,36.32 L353.64,36.38 L353.74,36.43 L353.85,36.49 L353.95,36.54 L354.06,36.6 L354.16,36.65 L354.27,36.71 L354.37,36.77 L354.48,36.82 L354.58,36.88 L354.69,36.94 L354.79,36.99 L354.89,37.05 L355,37.11 L355.1,37.16 L355.21,37.22 L355.31,37.28 L355.42,37.34 L355.52,37.39 L355.63,37.45 L355.73,37.51 L355.84,37.57 L355.94,37.62 L356.05,37.68 L356.15,37.74 L356.26,37.8 L356.36,37.86 L356.46,37.92 L356.57,37.97 L356.67,38.03 L356.78,38.09 L356.88,38.15 L356.99,38.21 L357.09,38.27 L357.2,38.33 L357.3,38.39 L357.41,38.45 L357.51,38.51 L357.62,38.57 L357.72,38.63 L357.83,38.69 L357.93,38.75 L358.04,38.81 L358.14,38.87 L358.24,38.93 L358.35,38.99 L358.45,39.05 L358.56,39.11 L358.66,39.17 L358.77,39.23 L358.87,39.29 L358.98,39.35 L359.08,39.41 L359.19,39.48 L359.29,39.54 L359.4,39.6 L359.5,39.66 L359.61,39.72 L359.71,39.78 L359.82,39.85 L359.92,39.91 L360.02,39.97 L360.13,40.03 L360.23,40.1 L360.34,40.16 L360.44,40.22 L360.55,40.29 L360.65,40.35 L360.76,40.41 L360.86,40.48 L360.97,40.54 L361.07,40.6 L361.18,40.67 L361.28,40.73 L361.39,40.79 L361.49,40.86 L361.6,40.92 L361.7,40.99 L361.8,41.05 L361.91,41.12 L362.01,41.18 L362.12,41.25 L362.22,41.31 L362.33,41.38 L362.43,41.44 L362.54,41.51 L362.64,41.57 L362.75,41.64 L362.85,41.7 L362.96,41.77 L363.06,41.84 L363.17,41.9 L363.27,41.97 L363.38,42.04 L363.48,42.1 L363.58,42.17 L363.69,42.24 L363.79,42.3 L363.9,42.37 L364,42.44 L364.11,42.51 L364.21,42.57 L364.32,42.64 L364.42,42.71 L364.53,42.78 L364.63,42.84 L364.74,42.91 L364.84,42.98 L364.95,43.05 L365.05,43.12 L365.16,43.19 L365.26,43.26 L365.36,43.33 L365.47,43.39 L365.57,43.46 L365.68,43.53 L365.78,43.6 L365.89,43.67 L365.99,43.74 L366.1,43.81 L366.2,43.88 L366.31,43.95 L366.41,44.02 L366.52,44.1 L366.62,44.17 L366.73,44.24 L366.83,44.31 L366.93,44.38 L367.04,44.45 L367.14,44.52 L367.25,44.59 L367.35,44.67 L367.46,44.74 L367.56,44.81 L367.67,44.88 L367.77,44.95 L367.88,45.03 L367.98,45.1 L368.09,45.17 L368.19,45.25 L368.3,45.32 L368.4,45.39 L368.51,45.47 L368.61,45.54 L368.71,45.61 L368.82,45.69 L368.92,45.76 L369.03,45.84 L369.13,45.91 L369.24,45.99 L369.34,46.06 L369.45,46.14 L369.55,46.21 L369.66,46.29 L369.76,46.36 L369.87,46.44 L369.97,46.51 L370.08,46.59 L370.18,46.66 L370.29,46.74 L370.39,46.82 L370.49,46.89 L370.6,46.97 L370.7,47.05 L370.81,47.12 L370.91,47.2 L371.02,47.28 L371.12,47.36 L371.23,47.43 L371.33,47.51 L371.44,47.59 L371.54,47.67 L371.65,47.75 L371.75,47.82 L371.86,47.9 L371.96,47.98 L372.07,48.06 L372.17,48.14 L372.27,48.22 L372.38,48.3 L372.48,48.38 L372.59,48.46 L372.69,48.54 L372.8,48.62 L372.9,48.7 L373.01,48.78 L373.11,48.86 L373.22,48.94 L373.32,49.02 L373.43,49.1 L373.53,49.19 L373.64,49.27 L373.74,49.35 L373.85,49.43 L373.95,49.51 L374.05,49.6 L374.16,49.68 L374.26,49.76 L374.37,49.84 L374.47,49.93 L374.58,50.01 L374.68,50.09 L374.79,50.18 L374.89,50.26 L375,50.35 L375.1,50.43 L375.21,50.52 L375.31,50.6 L375.42,50.68 L375.52,50.77 L375.62,50.86 L375.73,50.94 L375.83,51.03 L375.94,51.11 L376.04,51.2 L376.15,51.28 L376.25,51.37 L376.36,51.46 L376.46,51.54 L376.57,51.63 L376.67,51.72 L376.78,51.81 L376.88,51.89 L376.99,51.98 L377.09,52.07 L377.2,52.16 L377.3,52.25 L377.4,52.34 L377.51,52.42 L377.61,52.51 L377.72,52.6 L377.82,52.69 L377.93,52.78 L378.03,52.87 L378.14,52.96 L378.24,53.05 L378.35,53.14 L378.45,53.23 L378.56,53.32 L378.66,53.42 L378.77,53.51 L378.87,53.6 L378.98,53.69 L379.08,53.78 L379.18,53.88 L379.29,53.97 L379.39,54.06 L379.5,54.15 L379.6,54.25 L379.71,54.34 L379.81,54.43 L379.92,54.53 L380.02,54.62 L380.13,54.72 L380.23,54.81 L380.34,54.91 L380.44,55 L380.55,55.1 L380.65,55.19 L380.76,55.29 L380.86,55.38 L380.96,55.48 L381.07,55.58 L381.17,55.67 L381.28,55.77 L381.38,55.87 L381.49,55.96 L381.59,56.06 L381.7,56.16 L381.8,56.26 L381.91,56.36 L382.01,56.46 L382.12,56.55 L382.22,56.65 L382.33,56.75 L382.43,56.85 L382.54,56.95 L382.64,57.05 L382.74,57.15 L382.85,57.25 L382.95,57.36 L383.06,57.46 L383.16,57.56 L383.27,57.66 L383.37,57.76 L383.48,57.86 L383.58,57.97 L383.69,58.07 L383.79,58.17 L383.9,58.28 L384,58.38 L384.11,58.48 L384.21,58.59 L384.32,58.69 L384.42,58.8 L384.52,58.9 L384.63,59.01 L384.73,59.11 L384.84,59.22 L384.94,59.33 L385.05,59.43 L385.15,59.54 L385.26,59.65 L385.36,59.75 L385.47,59.86 L385.57,59.97 L385.68,60.08 L385.78,60.19 L385.89,60.29 L385.99,60.4 L386.1,60.51 L386.2,60.62 L386.3,60.73 L386.41,60.84 L386.51,60.95 L386.62,61.06 L386.72,61.18 L386.83,61.29 L386.93,61.4 L387.04,61.51 L387.14,61.62 L387.25,61.74 L387.35,61.85 L387.46,61.96 L387.56,62.08 L387.67,62.19 L387.77,62.31 L387.87,62.42 L387.98,62.54 L388.08,62.65 L388.19,62.77 L388.29,62.88 L388.4,63 L388.5,63.12 L388.61,63.24 L388.71,63.35 L388.82,63.47 L388.92,63.59 L389.03,63.71 L389.13,63.83 L389.24,63.95 L389.34,64.07 L389.45,64.19 L389.55,64.31 L389.65,64.43 L389.76,64.55 L389.86,64.67 L389.97,64.79 L390.07,64.91 L390.18,65.04 L390.28,65.16 L390.39,65.28 L390.49,65.41 L390.6,65.53 L390.7,65.66 L390.81,65.78 L390.91,65.91 L391.02,66.03 L391.12,66.16 L391.23,66.29 L391.33,66.41 L391.43,66.54 L391.54,66.67 L391.64,66.8 L391.75,66.93 L391.85,67.05 L391.96,67.18 L392.06,67.31 L392.17,67.44 L392.27,67.57 L392.38,67.71 L392.48,67.84 L392.59,67.97 L392.69,68.1 L392.8,68.24 L392.9,68.37 L393.01,68.5 L393.11,68.64 L393.21,68.77 L393.32,68.91 L393.42,69.04 L393.53,69.18 L393.63,69.32 L393.74,69.45 L393.84,69.59 L393.95,69.73 L394.05,69.87 L394.16,70.01 L394.26,70.15 L394.37,70.29 L394.47,70.43 L394.58,70.57 L394.68,70.71 L394.79,70.85 L394.89,71 L394.99,71.14 L395.1,71.28 L395.2,71.43 L395.31,71.57 L395.41,71.72 L395.52,71.86 L395.62,72.01 L395.73,72.16 L395.83,72.31 L395.94,72.45 L396.04,72.6 L396.15,72.75 L396.25,72.9 L396.36,73.05 L396.46,73.2 L396.56,73.36 L396.67,73.51 L396.77,73.66 L396.88,73.81 L396.98,73.97 L397.09,74.12 L397.19,74.28 L397.3,74.43 L397.4,74.59 L397.51,74.75 L397.61,74.91 L397.72,75.07 L397.82,75.22 L397.93,75.38 L398.03,75.55 L398.14,75.71 L398.24,75.87 L398.34,76.03 L398.45,76.19 L398.55,76.36 L398.66,76.52 L398.76,76.69 L398.87,76.86 L398.97,77.02 L399.08,77.19 L399.18,77.36 L399.29,77.53 L399.39,77.7 L399.5,77.87 L399.6,78.04 L399.71,78.21 L399.81,78.39 L399.92,78.56 L400.02,78.74 L400.12,78.91 L400.23,79.09 L400.33,79.27 L400.44,79.44 L400.54,79.62 L400.65,79.8 L400.75,79.98 L400.86,80.17 L400.96,80.35 L401.07,80.53 L401.17,80.72 L401.28,80.9 L401.38,81.09 L401.49,81.28 L401.59,81.46 L401.7,81.65 L401.8,81.84 L401.9,82.04 L402.01,82.23 L402.11,82.42 L402.22,82.62 L402.32,82.81 L402.43,83.01 L402.53,83.21 L402.64,83.41 L402.74,83.61 L402.85,83.81 L402.95,84.01 L403.06,84.21 L403.16,84.42 L403.27,84.62 L403.37,84.83 L403.48,85.04 L403.58,85.25 L403.68,85.46 L403.79,85.67 L403.89,85.89 L404,86.1 L404.1,86.32 L404.21,86.54 L404.31,86.75 L404.42,86.98 L404.52,87.2 L404.63,87.42 L404.73,87.65 L404.84,87.87 L404.94,88.1 L405.05,88.33 L405.15,88.56 L405.26,88.8 L405.36,89.03 L405.46,89.27 L405.57,89.5 L405.67,89.74 L405.78,89.99 L405.88,90.23 L405.99,90.48 L406.09,90.72 L406.2,90.97 L406.3,91.22 L406.41,91.48 L406.51,91.73 L406.62,91.99 L406.72,92.25 L406.83,92.51 L406.93,92.77 L407.04,93.04 L407.14,93.31 L407.24,93.58 L407.35,93.85 L407.45,94.13 L407.56,94.41 L407.66,94.69 L407.77,94.97 L407.87,95.26 L407.98,95.55 L408.08,95.84 L408.19,96.14 L408.29,96.44 L408.4,96.74 L408.5,97.05 L408.61,97.35 L408.71,97.67 L408.81,97.98 L408.92,98.3 L409.02,98.62 L409.13,98.95 L409.23,99.28 L409.34,99.62 L409.44,99.96 L409.55,100.3 L409.65,100.65 L409.76,101 L409.86,101.36 L409.97,101.72 L410.07,102.09 L410.18,102.47 L410.28,102.85 L410.39,103.24 L410.49,103.63 L410.59,104.03 L410.7,104.43 L410.8,104.85 L410.91,105.27 L411.01,105.7 L411.12,106.14 L411.22,106.58 L411.33,107.04 L411.43,107.51 L411.54,107.98 L411.64,108.47 L411.75,108.97 L411.85,109.49 L411.96,110.01 L412.06,110.56 L412.17,111.11 L412.27,111.69 L412.37,112.29 L412.48,112.9 L412.58,113.55 L412.69,114.21 L412.79,114.91 L412.9,115.64 L413,116.41 L413.11,117.22 L413.21,118.09 L413.32,119.02 L413.42,120.02 L413.53,121.13 L413.63,122.38 L413.74,123.82 L413.84,125.58 L413.95,128.02 L414.03,133.5 L464.6,133.5" stroke="#ff9494" stroke-width="2.8" fill="none" stroke-linejoin="round" stroke-linecap="butt" opacity="0.8"/>
<line x1="297.1" y1="10.6" x2="464.6" y2="10.6" stroke="#454545" stroke-width="1.1" stroke-linecap="square"/>
<line x1="297.1" y1="138.5" x2="464.6" y2="138.5" stroke="#454545" stroke-width="1.1" stroke-linecap="square"/>
<line x1="297.1" y1="10.6" x2="297.1" y2="138.5" stroke="#454545" stroke-width="1.1" stroke-linecap="square"/>
<line x1="464.6" y1="10.6" x2="464.6" y2="138.5" stroke="#454545" stroke-width="1.1" stroke-linecap="square"/>
<line x1="307.57" y1="10.6" x2="307.57" y2="12.8" stroke="#454545" stroke-width="1" stroke-linecap="butt"/>
<line x1="307.57" y1="138.5" x2="307.57" y2="136.3" stroke="#454545" stroke-width="1" stroke-linecap="butt"/>
<line x1="318.04" y1="10.6" x2="318.04" y2="12.8" stroke="#454545" stroke-width="1" stroke-linecap="butt"/>
<line x1="318.04" y1="138.5" x2="318.04" y2="136.3" stroke="#454545" stroke-width="1" stroke-linecap="butt"/>
<line x1="328.51" y1="10.6" x2="328.51" y2="12.8" stroke="#454545" stroke-width="1" stroke-linecap="butt"/>
<line x1="328.51" y1="138.5" x2="328.51" y2="136.3" stroke="#454545" stroke-width="1" stroke-linecap="butt"/>
<line x1="338.98" y1="10.6" x2="338.98" y2="15.8" stroke="#454545" stroke-width="1" stroke-linecap="butt"/>
<line x1="338.98" y1="138.5" x2="338.98" y2="133.3" stroke="#454545" stroke-width="1" stroke-linecap="butt"/>
<line x1="349.45" y1="10.6" x2="349.45" y2="12.8" stroke="#454545" stroke-width="1" stroke-linecap="butt"/>
<line x1="349.45" y1="138.5" x2="349.45" y2="136.3" stroke="#454545" stroke-width="1" stroke-linecap="butt"/>
<line x1="359.92" y1="10.6" x2="359.92" y2="12.8" stroke="#454545" stroke-width="1" stroke-linecap="butt"/>
<line x1="359.92" y1="138.5" x2="359.92" y2="136.3" stroke="#454545" stroke-width="1" stroke-linecap="butt"/>
<line x1="370.39" y1="10.6" x2="370.39" y2="12.8" stroke="#454545" stroke-width="1" stroke-linecap="butt"/>
<line x1="370.39" y1="138.5" x2="370.39" y2="136.3" stroke="#454545" stroke-width="1" stroke-linecap="butt"/>
<line x1="380.86" y1="10.6" x2="380.86" y2="15.8" stroke="#454545" stroke-width="1" stroke-linecap="butt"/>
<line x1="380.86" y1="138.5" x2="380.86" y2="133.3" stroke="#454545" stroke-width="1" stroke-linecap="butt"/>
<line x1="391.33" y1="10.6" x2="391.33" y2="12.8" stroke="#454545" stroke-width="1" stroke-linecap="butt"/>
<line x1="391.33" y1="138.5" x2="391.33" y2="136.3" stroke="#454545" stroke-width="1" stroke-linecap="butt"/>
<line x1="401.8" y1="10.6" x2="401.8" y2="12.8" stroke="#454545" stroke-width="1" stroke-linecap="butt"/>
<line x1="401.8" y1="138.5" x2="401.8" y2="136.3" stroke="#454545" stroke-width="1" stroke-linecap="butt"/>
<line x1="412.27" y1="10.6" x2="412.27" y2="12.8" stroke="#454545" stroke-width="1" stroke-linecap="butt"/>
<line x1="412.27" y1="138.5" x2="412.27" y2="136.3" stroke="#454545" stroke-width="1" stroke-linecap="butt"/>
<line x1="422.74" y1="10.6" x2="422.74" y2="15.8" stroke="#454545" stroke-width="1" stroke-linecap="butt"/>
<line x1="422.74" y1="138.5" x2="422.74" y2="133.3" stroke="#454545" stroke-width="1" stroke-linecap="butt"/>
<line x1="433.21" y1="10.6" x2="433.21" y2="12.8" stroke="#454545" stroke-width="1" stroke-linecap="butt"/>
<line x1="433.21" y1="138.5" x2="433.21" y2="136.3" stroke="#454545" stroke-width="1" stroke-linecap="butt"/>
<line x1="443.68" y1="10.6" x2="443.68" y2="12.8" stroke="#454545" stroke-width="1" stroke-linecap="butt"/>
<line x1="443.68" y1="138.5" x2="443.68" y2="136.3" stroke="#454545" stroke-width="1" stroke-linecap="butt"/>
<line x1="454.15" y1="10.6" x2="454.15" y2="12.8" stroke="#454545" stroke-width="1" stroke-linecap="butt"/>
<line x1="454.15" y1="138.5" x2="454.15" y2="136.3" stroke="#454545" stroke-width="1" stroke-linecap="butt"/>
<line x1="297.1" y1="133.5" x2="302.4" y2="133.5" stroke="#454545" stroke-width="1" stroke-linecap="butt"/>
<line x1="464.6" y1="133.5" x2="459.3" y2="133.5" stroke="#454545" stroke-width="1" stroke-linecap="butt"/>
<line x1="297.1" y1="122.3" x2="299.5" y2="122.3" stroke="#454545" stroke-width="1" stroke-linecap="butt"/>
<line x1="464.6" y1="122.3" x2="462.2" y2="122.3" stroke="#454545" stroke-width="1" stroke-linecap="butt"/>
<line x1="297.1" y1="111.1" x2="299.5" y2="111.1" stroke="#454545" stroke-width="1" stroke-linecap="butt"/>
<line x1="464.6" y1="111.1" x2="462.2" y2="111.1" stroke="#454545" stroke-width="1" stroke-linecap="butt"/>
<line x1="297.1" y1="99.9" x2="299.5" y2="99.9" stroke="#454545" stroke-width="1" stroke-linecap="butt"/>
<line x1="464.6" y1="99.9" x2="462.2" y2="99.9" stroke="#454545" stroke-width="1" stroke-linecap="butt"/>
<line x1="297.1" y1="88.7" x2="299.5" y2="88.7" stroke="#454545" stroke-width="1" stroke-linecap="butt"/>
<line x1="464.6" y1="88.7" x2="462.2" y2="88.7" stroke="#454545" stroke-width="1" stroke-linecap="butt"/>
<line x1="297.1" y1="77.5" x2="302.4" y2="77.5" stroke="#454545" stroke-width="1" stroke-linecap="butt"/>
<line x1="464.6" y1="77.5" x2="459.3" y2="77.5" stroke="#454545" stroke-width="1" stroke-linecap="butt"/>
<line x1="297.1" y1="66.3" x2="299.5" y2="66.3" stroke="#454545" stroke-width="1" stroke-linecap="butt"/>
<line x1="464.6" y1="66.3" x2="462.2" y2="66.3" stroke="#454545" stroke-width="1" stroke-linecap="butt"/>
<line x1="297.1" y1="55.1" x2="299.5" y2="55.1" stroke="#454545" stroke-width="1" stroke-linecap="butt"/>
<line x1="464.6" y1="55.1" x2="462.2" y2="55.1" stroke="#454545" stroke-width="1" stroke-linecap="butt"/>
<line x1="297.1" y1="43.9" x2="299.5" y2="43.9" stroke="#454545" stroke-width="1" stroke-linecap="butt"/>
<line x1="464.6" y1="43.9" x2="462.2" y2="43.9" stroke="#454545" stroke-width="1" stroke-linecap="butt"/>
<line x1="297.1" y1="32.7" x2="299.5" y2="32.7" stroke="#454545" stroke-width="1" stroke-linecap="butt"/>
<line x1="464.6" y1="32.7" x2="462.2" y2="32.7" stroke="#454545" stroke-width="1" stroke-linecap="butt"/>
<line x1="297.1" y1="21.5" x2="302.4" y2="21.5" stroke="#454545" stroke-width="1" stroke-linecap="butt"/>
<line x1="464.6" y1="21.5" x2="459.3" y2="21.5" stroke="#454545" stroke-width="1" stroke-linecap="butt"/>
<circle cx="328.3" cy="20.04" r="2.75" fill="#5b8ff2" stroke="#1a1a1a" stroke-width="0.95"/>
<circle cx="338.77" cy="21.61" r="2.75" fill="#5b8ff2" stroke="#1a1a1a" stroke-width="0.95"/>
<circle cx="349.03" cy="23.96" r="2.75" fill="#5b8ff2" stroke="#1a1a1a" stroke-width="0.95"/>
<circle cx="359.5" cy="32.7" r="2.75" fill="#5b8ff2" stroke="#1a1a1a" stroke-width="0.95"/>
<circle cx="369.97" cy="34.83" r="2.75" fill="#5b8ff2" stroke="#1a1a1a" stroke-width="0.95"/>
<circle cx="380.65" cy="45.69" r="2.75" fill="#5b8ff2" stroke="#1a1a1a" stroke-width="0.95"/>
<circle cx="387.14" cy="51.85" r="2.75" fill="#5b8ff2" stroke="#1a1a1a" stroke-width="0.95"/>
<circle cx="393.21" cy="57.23" r="2.75" fill="#5b8ff2" stroke="#1a1a1a" stroke-width="0.95"/>
<circle cx="397.4" cy="64.62" r="2.75" fill="#5b8ff2" stroke="#1a1a1a" stroke-width="0.95"/>
<circle cx="401.8" cy="73.8" r="2.75" fill="#5b8ff2" stroke="#1a1a1a" stroke-width="0.95"/>
<circle cx="403.48" cy="74.14" r="2.75" fill="#5b8ff2" stroke="#1a1a1a" stroke-width="0.95"/>
<circle cx="406.41" cy="84" r="2.75" fill="#5b8ff2" stroke="#1a1a1a" stroke-width="0.95"/>
<circle cx="408.29" cy="87.02" r="2.75" fill="#5b8ff2" stroke="#1a1a1a" stroke-width="0.95"/>
<circle cx="409.76" cy="105.28" r="2.75" fill="#5b8ff2" stroke="#1a1a1a" stroke-width="0.95"/>
<circle cx="411.64" cy="122.19" r="2.75" fill="#5b8ff2" stroke="#1a1a1a" stroke-width="0.95"/>
<circle cx="317.41" cy="21.95" r="2.75" fill="#f45c5c" stroke="#1a1a1a" stroke-width="0.95"/>
<circle cx="328.3" cy="24.41" r="2.75" fill="#f45c5c" stroke="#1a1a1a" stroke-width="0.95"/>
<circle cx="338.77" cy="27.55" r="2.75" fill="#f45c5c" stroke="#1a1a1a" stroke-width="0.95"/>
<circle cx="349.03" cy="36.17" r="2.75" fill="#f45c5c" stroke="#1a1a1a" stroke-width="0.95"/>
<circle cx="359.5" cy="41.77" r="2.75" fill="#f45c5c" stroke="#1a1a1a" stroke-width="0.95"/>
<circle cx="369.97" cy="49.05" r="2.75" fill="#f45c5c" stroke="#1a1a1a" stroke-width="0.95"/>
<circle cx="380.65" cy="58.35" r="2.75" fill="#f45c5c" stroke="#1a1a1a" stroke-width="0.95"/>
<circle cx="386.93" cy="64.28" r="2.75" fill="#f45c5c" stroke="#1a1a1a" stroke-width="0.95"/>
<circle cx="393.42" cy="68.54" r="2.75" fill="#f45c5c" stroke="#1a1a1a" stroke-width="0.95"/>
<circle cx="397.4" cy="77.39" r="2.75" fill="#f45c5c" stroke="#1a1a1a" stroke-width="0.95"/>
<circle cx="401.38" cy="80.97" r="2.75" fill="#f45c5c" stroke="#1a1a1a" stroke-width="0.95"/>
<circle cx="403.48" cy="82.99" r="2.75" fill="#f45c5c" stroke="#1a1a1a" stroke-width="0.95"/>
<circle cx="405.57" cy="88.14" r="2.75" fill="#f45c5c" stroke="#1a1a1a" stroke-width="0.95"/>
<circle cx="408.08" cy="90.49" r="2.75" fill="#f45c5c" stroke="#1a1a1a" stroke-width="0.95"/>
<circle cx="409.76" cy="103.37" r="2.75" fill="#f45c5c" stroke="#1a1a1a" stroke-width="0.95"/>
<circle cx="411.64" cy="124.2" r="2.75" fill="#f45c5c" stroke="#1a1a1a" stroke-width="0.95"/>
<circle cx="413.32" cy="133.33" r="2.75" fill="#f45c5c" stroke="#1a1a1a" stroke-width="0.95"/>
<circle cx="415.2" cy="133.33" r="2.75" fill="#f45c5c" stroke="#1a1a1a" stroke-width="0.95"/>
<circle cx="417.71" cy="133.33" r="2.75" fill="#f45c5c" stroke="#1a1a1a" stroke-width="0.95"/>
<circle cx="422.11" cy="133.33" r="2.75" fill="#f45c5c" stroke="#1a1a1a" stroke-width="0.95"/>
<circle cx="432.58" cy="133.33" r="2.75" fill="#f45c5c" stroke="#1a1a1a" stroke-width="0.95"/>
<circle cx="443.26" cy="133.33" r="2.75" fill="#f45c5c" stroke="#1a1a1a" stroke-width="0.95"/>
<text x="418.6" y="123.8" font-size="10.2" fill="#231f20" stroke="#231f20" font-style="italic">T</text>
<text x="423.8" y="126.6" font-size="6.8" fill="#231f20" stroke="#231f20" textLength="12.2" lengthAdjust="spacingAndGlyphs" font-style="italic">CDW</text>
<circle cx="308.2" cy="93.2" r="2.8" fill="#f45c5c" stroke="#1a1a1a" stroke-width="0.95"/>
<text x="316.4" y="95.9" font-size="9.5" fill="#231f20" stroke="#231f20" textLength="47.8" lengthAdjust="spacingAndGlyphs">2×2×2 CDW</text>
<line x1="304.7" y1="104.4" x2="311.9" y2="104.4" stroke="#ffa9a9" stroke-width="2.4" stroke-linecap="butt"/>
<text x="316.4" y="107.2" font-size="9.5" fill="#231f20" stroke="#231f20" textLength="50.8" lengthAdjust="spacingAndGlyphs">BCS (2×2×2)</text>
<circle cx="308.2" cy="115.6" r="2.8" fill="#5b8ff2" stroke="#1a1a1a" stroke-width="0.95"/>
<text x="316.4" y="118.6" font-size="9.5" fill="#231f20" stroke="#231f20" textLength="47.8" lengthAdjust="spacingAndGlyphs">2×2×1 CDW</text>
<line x1="304.7" y1="127.9" x2="311.9" y2="127.9" stroke="#72a2f4" stroke-width="2.4" stroke-linecap="butt"/>
<text x="316.4" y="129.9" font-size="9.5" fill="#231f20" stroke="#231f20" textLength="50.8" lengthAdjust="spacingAndGlyphs">BCS (2×2×1)</text>
<text x="293.9" y="153.6" font-size="10.2" fill="#231f20" stroke="#231f20" text-anchor="middle">40</text>
<text x="338.98" y="153.6" font-size="10.2" fill="#231f20" stroke="#231f20" text-anchor="middle">60</text>
<text x="380.86" y="153.6" font-size="10.2" fill="#231f20" stroke="#231f20" text-anchor="middle">80</text>
<text x="422.74" y="153.6" font-size="10.2" fill="#231f20" stroke="#231f20" text-anchor="middle">100</text>
<text x="464.62" y="153.6" font-size="10.2" fill="#231f20" stroke="#231f20" text-anchor="middle">120</text>
<text x="287.6" y="25.2" font-size="10.2" fill="#231f20" stroke="#231f20" text-anchor="end">1.00</text>
<text x="287.6" y="81" font-size="10.2" fill="#231f20" stroke="#231f20" text-anchor="end">0.50</text>
<text x="287.6" y="137" font-size="10.2" fill="#231f20" stroke="#231f20" text-anchor="end">0.00</text>
<text x="382.4" y="166.6" font-size="10" fill="#231f20" stroke="#231f20" text-anchor="middle"><tspan font-style="italic">T</tspan> (K)</text>
<text x="261" y="80.8" font-size="10.2" fill="#231f20" stroke="#231f20" text-anchor="middle" textLength="121.5" lengthAdjust="spacingAndGlyphs" transform="rotate(-90 261 80.8)">Integrated intensity (arb. unit)</text>
<text x="252.4" y="14.8" font-size="20.5" fill="#231f20" stroke="#231f20">b</text>
<text x="-0.8" y="14.9" font-size="20.5" fill="#231f20" stroke="#231f20">a</text>
<circle cx="14.6" cy="42.9" r="2.2" fill="#a9c4f2" stroke="#3c6cc2" stroke-width="1.4"/>
<text x="19.6" y="46.3" font-size="9.9" fill="#231f20" stroke="#231f20" textLength="11" lengthAdjust="spacingAndGlyphs">Cs</text>
<circle cx="38" cy="42.9" r="1.6" fill="#fff" stroke="#d83a70" stroke-width="1.1"/>
<text x="40.3" y="46.3" font-size="9.9" fill="#231f20" stroke="#231f20" textLength="6.6" lengthAdjust="spacingAndGlyphs">V</text>
<circle cx="56.7" cy="42.9" r="2" fill="#d8d8d8" stroke="#9a9a9a" stroke-width="1"/>
<text x="60.5" y="46.3" font-size="9.9" fill="#231f20" stroke="#231f20" textLength="11.6" lengthAdjust="spacingAndGlyphs">Sb</text>
<line x1="61.9" y1="57.6" x2="61.9" y2="108.3" stroke="#c4c4c4" stroke-width="1" stroke-linecap="butt"/>
<line x1="91.7" y1="57.6" x2="91.7" y2="108.3" stroke="#8c8c8c" stroke-width="0.9" stroke-linecap="butt"/>
<path d="M47,91.4 L76.8,91.4 L91.7,82.9 L61.9,82.9Z" stroke="none" stroke-width="0" fill="#e4e4e4" stroke-linejoin="round" stroke-linecap="round"/>
<line x1="47" y1="66.1" x2="47" y2="116.8" stroke="#8c8c8c" stroke-width="0.9" stroke-linecap="butt"/>
<line x1="76.8" y1="66.1" x2="76.8" y2="116.8" stroke="#b0b0b0" stroke-width="0.9" stroke-linecap="butt"/>
<path d="M47,66.1 L76.8,66.1 L91.7,57.6 L61.9,57.6Z" stroke="#6e6e6e" stroke-width="0.9" fill="none" stroke-linejoin="round" stroke-linecap="round"/>
<path d="M47,116.8 L76.8,116.8 L91.7,108.3 L61.9,108.3Z" stroke="#6e6e6e" stroke-width="0.9" fill="none" stroke-linejoin="round" stroke-linecap="round"/>
<circle cx="69.1" cy="61.8" r="1.9" fill="#dadada" stroke="#8f8f8f" stroke-width="0.9"/>
<circle cx="84.1" cy="70.2" r="1.9" fill="#dadada" stroke="#8f8f8f" stroke-width="0.9"/>
<circle cx="54.6" cy="79" r="1.9" fill="#dadada" stroke="#8f8f8f" stroke-width="0.9"/>
<circle cx="84.1" cy="95.7" r="1.9" fill="#dadada" stroke="#8f8f8f" stroke-width="0.9"/>
<circle cx="54.6" cy="104" r="1.9" fill="#dadada" stroke="#8f8f8f" stroke-width="0.9"/>
<circle cx="69.1" cy="112.4" r="1.9" fill="#dadada" stroke="#8f8f8f" stroke-width="0.9"/>
<circle cx="69.4" cy="87.4" r="2.2" fill="#a9c4f2" stroke="#3c6cc2" stroke-width="1.4"/>
<line x1="47" y1="57.6" x2="106.4" y2="57.6" stroke="#d83a70" stroke-width="1" stroke-linecap="round"/>
<line x1="61.9" y1="57.6" x2="69.1" y2="53.3" stroke="#d83a70" stroke-width="1" stroke-linecap="round"/>
<line x1="69.1" y1="53.3" x2="76.8" y2="57.6" stroke="#d83a70" stroke-width="1" stroke-linecap="round"/>
<line x1="91.7" y1="57.6" x2="98.9" y2="53.3" stroke="#d83a70" stroke-width="1" stroke-linecap="round"/>
<line x1="98.9" y1="53.3" x2="106.4" y2="57.6" stroke="#d83a70" stroke-width="1" stroke-linecap="round"/>
<line x1="32.1" y1="66.1" x2="91.7" y2="66.1" stroke="#d83a70" stroke-width="1" stroke-linecap="round"/>
<line x1="32.1" y1="66.1" x2="39.7" y2="70.4" stroke="#d83a70" stroke-width="1" stroke-linecap="round"/>
<line x1="39.7" y1="70.4" x2="47" y2="66.1" stroke="#d83a70" stroke-width="1" stroke-linecap="round"/>
<line x1="61.9" y1="66.1" x2="69.1" y2="70.4" stroke="#d83a70" stroke-width="1" stroke-linecap="round"/>
<line x1="69.1" y1="70.4" x2="76.8" y2="66.1" stroke="#d83a70" stroke-width="1" stroke-linecap="round"/>
<line x1="47" y1="57.6" x2="61.9" y2="66.1" stroke="#d83a70" stroke-width="1" stroke-linecap="round"/>
<line x1="61.9" y1="57.6" x2="47" y2="66.1" stroke="#d83a70" stroke-width="1" stroke-linecap="round"/>
<line x1="76.8" y1="57.6" x2="91.7" y2="66.1" stroke="#d83a70" stroke-width="1" stroke-linecap="round"/>
<line x1="91.7" y1="57.6" x2="76.8" y2="66.1" stroke="#d83a70" stroke-width="1" stroke-linecap="round"/>
<circle cx="47" cy="57.6" r="1.55" fill="#fff" stroke="#d83a70" stroke-width="0.85"/>
<circle cx="61.9" cy="57.6" r="1.55" fill="#fff" stroke="#d83a70" stroke-width="0.85"/>
<circle cx="76.8" cy="57.6" r="1.55" fill="#fff" stroke="#d83a70" stroke-width="0.85"/>
<circle cx="91.7" cy="57.6" r="1.55" fill="#fff" stroke="#d83a70" stroke-width="0.85"/>
<circle cx="106.4" cy="57.6" r="1.55" fill="#fff" stroke="#d83a70" stroke-width="0.85"/>
<circle cx="69.1" cy="53.3" r="1.55" fill="#fff" stroke="#d83a70" stroke-width="0.85"/>
<circle cx="98.9" cy="53.3" r="1.55" fill="#fff" stroke="#d83a70" stroke-width="0.85"/>
<circle cx="54.45" cy="62" r="1.55" fill="#fff" stroke="#d83a70" stroke-width="0.85"/>
<circle cx="84.25" cy="62" r="1.55" fill="#fff" stroke="#d83a70" stroke-width="0.85"/>
<circle cx="32.1" cy="66.1" r="1.55" fill="#fff" stroke="#d83a70" stroke-width="0.85"/>
<circle cx="47" cy="66.1" r="1.55" fill="#fff" stroke="#d83a70" stroke-width="0.85"/>
<circle cx="61.9" cy="66.1" r="1.55" fill="#fff" stroke="#d83a70" stroke-width="0.85"/>
<circle cx="76.8" cy="66.1" r="1.55" fill="#fff" stroke="#d83a70" stroke-width="0.85"/>
<circle cx="91.7" cy="66.1" r="1.55" fill="#fff" stroke="#d83a70" stroke-width="0.85"/>
<circle cx="39.7" cy="70.4" r="1.55" fill="#fff" stroke="#d83a70" stroke-width="0.85"/>
<circle cx="69.1" cy="70.4" r="1.55" fill="#fff" stroke="#d83a70" stroke-width="0.85"/>
<line x1="47" y1="108.3" x2="106.4" y2="108.3" stroke="#d83a70" stroke-width="1" stroke-linecap="round"/>
<line x1="61.9" y1="108.3" x2="69.1" y2="104" stroke="#d83a70" stroke-width="1" stroke-linecap="round"/>
<line x1="69.1" y1="104" x2="76.8" y2="108.3" stroke="#d83a70" stroke-width="1" stroke-linecap="round"/>
<line x1="91.7" y1="108.3" x2="98.9" y2="104" stroke="#d83a70" stroke-width="1" stroke-linecap="round"/>
<line x1="98.9" y1="104" x2="106.4" y2="108.3" stroke="#d83a70" stroke-width="1" stroke-linecap="round"/>
<line x1="32.1" y1="116.8" x2="91.7" y2="116.8" stroke="#d83a70" stroke-width="1" stroke-linecap="round"/>
<line x1="32.1" y1="116.8" x2="39.7" y2="121.1" stroke="#d83a70" stroke-width="1" stroke-linecap="round"/>
<line x1="39.7" y1="121.1" x2="47" y2="116.8" stroke="#d83a70" stroke-width="1" stroke-linecap="round"/>
<line x1="61.9" y1="116.8" x2="69.1" y2="121.1" stroke="#d83a70" stroke-width="1" stroke-linecap="round"/>
<line x1="69.1" y1="121.1" x2="76.8" y2="116.8" stroke="#d83a70" stroke-width="1" stroke-linecap="round"/>
<line x1="47" y1="108.3" x2="61.9" y2="116.8" stroke="#d83a70" stroke-width="1" stroke-linecap="round"/>
<line x1="61.9" y1="108.3" x2="47" y2="116.8" stroke="#d83a70" stroke-width="1" stroke-linecap="round"/>
<line x1="76.8" y1="108.3" x2="91.7" y2="116.8" stroke="#d83a70" stroke-width="1" stroke-linecap="round"/>
<line x1="91.7" y1="108.3" x2="76.8" y2="116.8" stroke="#d83a70" stroke-width="1" stroke-linecap="round"/>
<circle cx="47" cy="108.3" r="1.55" fill="#fff" stroke="#d83a70" stroke-width="0.85"/>
<circle cx="61.9" cy="108.3" r="1.55" fill="#fff" stroke="#d83a70" stroke-width="0.85"/>
<circle cx="76.8" cy="108.3" r="1.55" fill="#fff" stroke="#d83a70" stroke-width="0.85"/>
<circle cx="91.7" cy="108.3" r="1.55" fill="#fff" stroke="#d83a70" stroke-width="0.85"/>
<circle cx="106.4" cy="108.3" r="1.55" fill="#fff" stroke="#d83a70" stroke-width="0.85"/>
<circle cx="69.1" cy="104" r="1.55" fill="#fff" stroke="#d83a70" stroke-width="0.85"/>
<circle cx="98.9" cy="104" r="1.55" fill="#fff" stroke="#d83a70" stroke-width="0.85"/>
<circle cx="54.45" cy="112.7" r="1.55" fill="#fff" stroke="#d83a70" stroke-width="0.85"/>
<circle cx="84.25" cy="112.7" r="1.55" fill="#fff" stroke="#d83a70" stroke-width="0.85"/>
<circle cx="32.1" cy="116.8" r="1.55" fill="#fff" stroke="#d83a70" stroke-width="0.85"/>
<circle cx="47" cy="116.8" r="1.55" fill="#fff" stroke="#d83a70" stroke-width="0.85"/>
<circle cx="61.9" cy="116.8" r="1.55" fill="#fff" stroke="#d83a70" stroke-width="0.85"/>
<circle cx="76.8" cy="116.8" r="1.55" fill="#fff" stroke="#d83a70" stroke-width="0.85"/>
<circle cx="91.7" cy="116.8" r="1.55" fill="#fff" stroke="#d83a70" stroke-width="0.85"/>
<circle cx="39.7" cy="121.1" r="1.55" fill="#fff" stroke="#d83a70" stroke-width="0.85"/>
<circle cx="69.1" cy="121.1" r="1.55" fill="#fff" stroke="#d83a70" stroke-width="0.85"/>
<line x1="37.6" y1="87.4" x2="66.5" y2="87.4" stroke="#333" stroke-width="0.7" stroke-linecap="butt" stroke-dasharray="1.6,1.2"/>
<line x1="37.6" y1="112.4" x2="52" y2="112.4" stroke="#333" stroke-width="0.7" stroke-linecap="butt" stroke-dasharray="1.6,1.2"/>
<line x1="37.6" y1="91" x2="37.6" y2="108.8" stroke="#231f20" stroke-width="1" stroke-linecap="butt"/>
<path d="M37.6,87.6 L39.6,91.8 L35.6,91.8Z" stroke="none" stroke-width="0" fill="#231f20" stroke-linejoin="round" stroke-linecap="round"/>
<path d="M37.6,112.4 L35.6,108.2 L39.6,108.2Z" stroke="none" stroke-width="0" fill="#231f20" stroke-linejoin="round" stroke-linecap="round"/>
<text x="-0.3" y="103.7" font-size="10.2" fill="#231f20" stroke="#231f20" textLength="35.6" lengthAdjust="spacingAndGlyphs">z = 0.5 c</text>
<line x1="94.5" y1="151" x2="94.6" y2="135.6" stroke="#231f20" stroke-width="0.9" stroke-linecap="butt"/>
<path d="M94.6,132 L96.6,136.3 L92.6,136.3Z" stroke="none" stroke-width="0" fill="#231f20" stroke-linejoin="round" stroke-linecap="round"/>
<line x1="94.5" y1="151" x2="81.6" y2="151" stroke="#231f20" stroke-width="0.9" stroke-linecap="butt"/>
<path d="M77.8,151 L82.1,149 L82.1,153Z" stroke="none" stroke-width="0" fill="#231f20" stroke-linejoin="round" stroke-linecap="round"/>
<line x1="94.5" y1="151" x2="104" y2="145.6" stroke="#231f20" stroke-width="0.9" stroke-linecap="butt"/>
<path d="M107.2,143.6 L104.41,147.44 L102.47,143.94Z" stroke="none" stroke-width="0" fill="#231f20" stroke-linejoin="round" stroke-linecap="round"/>
<text x="87.8" y="133" font-size="9.2" fill="#231f20" stroke="#231f20">c</text>
<text x="70.6" y="154.4" font-size="9.2" fill="#231f20" stroke="#231f20">a</text>
<text x="108.8" y="147" font-size="9.2" fill="#231f20" stroke="#231f20">b</text>
<line x1="110.9" y1="89.3" x2="127.6" y2="89.3" stroke="#555" stroke-width="1" stroke-linecap="butt"/>
<line x1="127.6" y1="43.3" x2="127.6" y2="137.2" stroke="#555" stroke-width="1" stroke-linecap="butt"/>
<line x1="127.6" y1="43.3" x2="141.8" y2="43.3" stroke="#555" stroke-width="1" stroke-linecap="butt"/>
<line x1="127.6" y1="137.2" x2="141.8" y2="137.2" stroke="#555" stroke-width="1" stroke-linecap="butt"/>
<text x="88.2" y="36.9" font-size="10.2" fill="#231f20" stroke="#231f20" textLength="61.4" lengthAdjust="spacingAndGlyphs">CDW distortion</text>
<text x="142.8" y="14.6" font-size="10.2" fill="#231f20" stroke="#231f20" textLength="81" lengthAdjust="spacingAndGlyphs">Star of David (SoD)</text>
<text x="143.2" y="106.3" font-size="10.2" fill="#231f20" stroke="#231f20" textLength="81.6" lengthAdjust="spacingAndGlyphs">Tri-Hexagonal (TrH)</text>
<path d="M165.7,22.4 L212.8,22.4 L190,63.1 L142.5,63.1Z" stroke="#333" stroke-width="0.9" fill="none" stroke-linejoin="round" stroke-linecap="round"/>
<line x1="177.6" y1="42.8" x2="201.2" y2="42.8" stroke="#999" stroke-width="0.8" stroke-linecap="butt" stroke-dasharray="1.6,1.3"/>
<line x1="177.6" y1="42.8" x2="166.2" y2="63.1" stroke="#999" stroke-width="0.8" stroke-linecap="butt" stroke-dasharray="1.6,1.3"/>
<path d="M177.6,22.4 L171.6,32.9 L160.2,32.9 L166,43 L160.2,52.9 L171.6,52.9 L177.6,63.1 L183.5,52.9 L195,52.9 L189.4,43 L195,32.9 L183.5,32.9Z" stroke="#d83a70" stroke-width="1.1" fill="none" stroke-linejoin="round" stroke-linecap="round"/>
<path d="M177.6,27.6 L176,24.6 L179.2,24.6Z" stroke="none" stroke-width="0" fill="#231f20" stroke-linejoin="round" stroke-linecap="round"/>
<path d="M168.9,28.45 L171.83,30.19 L169.09,31.85Z" stroke="none" stroke-width="0" fill="#231f20" stroke-linejoin="round" stroke-linecap="round"/>
<path d="M164.72,35.47 L161.32,35.38 L162.9,32.6Z" stroke="none" stroke-width="0" fill="#231f20" stroke-linejoin="round" stroke-linecap="round"/>
<path d="M160.8,43.09 L163.77,41.44 L163.83,44.64Z" stroke="none" stroke-width="0" fill="#231f20" stroke-linejoin="round" stroke-linecap="round"/>
<path d="M164.7,50.29 L162.91,53.18 L161.3,50.41Z" stroke="none" stroke-width="0" fill="#231f20" stroke-linejoin="round" stroke-linecap="round"/>
<path d="M168.94,57.37 L169.1,53.97 L171.85,55.61Z" stroke="none" stroke-width="0" fill="#231f20" stroke-linejoin="round" stroke-linecap="round"/>
<path d="M177.6,57.9 L179.2,60.9 L176,60.9Z" stroke="none" stroke-width="0" fill="#231f20" stroke-linejoin="round" stroke-linecap="round"/>
<path d="M186.12,57.39 L183.23,55.61 L185.99,53.99Z" stroke="none" stroke-width="0" fill="#231f20" stroke-linejoin="round" stroke-linecap="round"/>
<path d="M190.5,50.29 L193.9,50.41 L192.29,53.18Z" stroke="none" stroke-width="0" fill="#231f20" stroke-linejoin="round" stroke-linecap="round"/>
<path d="M194.6,43.09 L191.57,44.64 L191.63,41.44Z" stroke="none" stroke-width="0" fill="#231f20" stroke-linejoin="round" stroke-linecap="round"/>
<path d="M190.48,35.47 L192.3,32.6 L193.88,35.38Z" stroke="none" stroke-width="0" fill="#231f20" stroke-linejoin="round" stroke-linecap="round"/>
<path d="M186.16,28.43 L186,31.83 L183.25,30.19Z" stroke="none" stroke-width="0" fill="#231f20" stroke-linejoin="round" stroke-linecap="round"/>
<path d="M201,17.2 L202.5,20.2 L199.5,20.2Z" stroke="none" stroke-width="0" fill="#231f20" stroke-linejoin="round" stroke-linecap="round"/>
<path d="M211.2,35.5 L207.86,35.3 L209.36,32.7Z" stroke="none" stroke-width="0" fill="#231f20" stroke-linejoin="round" stroke-linecap="round"/>
<path d="M143.9,50.3 L147.24,50.5 L145.74,53.1Z" stroke="none" stroke-width="0" fill="#231f20" stroke-linejoin="round" stroke-linecap="round"/>
<path d="M154.2,68.3 L152.7,65.3 L155.7,65.3Z" stroke="none" stroke-width="0" fill="#231f20" stroke-linejoin="round" stroke-linecap="round"/>
<circle cx="177.6" cy="22.4" r="1.55" fill="#fff" stroke="#d83a70" stroke-width="0.9"/>
<circle cx="171.6" cy="32.9" r="1.55" fill="#fff" stroke="#d83a70" stroke-width="0.9"/>
<circle cx="160.2" cy="32.9" r="1.55" fill="#fff" stroke="#d83a70" stroke-width="0.9"/>
<circle cx="166" cy="43" r="1.55" fill="#fff" stroke="#d83a70" stroke-width="0.9"/>
<circle cx="160.2" cy="52.9" r="1.55" fill="#fff" stroke="#d83a70" stroke-width="0.9"/>
<circle cx="171.6" cy="52.9" r="1.55" fill="#fff" stroke="#d83a70" stroke-width="0.9"/>
<circle cx="177.6" cy="63.1" r="1.55" fill="#fff" stroke="#d83a70" stroke-width="0.9"/>
<circle cx="183.5" cy="52.9" r="1.55" fill="#fff" stroke="#d83a70" stroke-width="0.9"/>
<circle cx="195" cy="52.9" r="1.55" fill="#fff" stroke="#d83a70" stroke-width="0.9"/>
<circle cx="189.4" cy="43" r="1.55" fill="#fff" stroke="#d83a70" stroke-width="0.9"/>
<circle cx="195" cy="32.9" r="1.55" fill="#fff" stroke="#d83a70" stroke-width="0.9"/>
<circle cx="183.5" cy="32.9" r="1.55" fill="#fff" stroke="#d83a70" stroke-width="0.9"/>
<circle cx="201" cy="22.4" r="1.55" fill="#fff" stroke="#d83a70" stroke-width="0.9"/>
<circle cx="206.7" cy="32.9" r="1.55" fill="#fff" stroke="#d83a70" stroke-width="0.9"/>
<circle cx="148.4" cy="52.9" r="1.55" fill="#fff" stroke="#d83a70" stroke-width="0.9"/>
<circle cx="154.2" cy="63.1" r="1.55" fill="#fff" stroke="#d83a70" stroke-width="0.9"/>
<path d="M166.1,116.1 L212.7,116.1 L189.9,156.6 L142.7,156.6Z" stroke="#333" stroke-width="0.9" fill="none" stroke-linejoin="round" stroke-linecap="round"/>
<line x1="177.8" y1="136.3" x2="200.5" y2="136.3" stroke="#999" stroke-width="0.8" stroke-linecap="butt" stroke-dasharray="1.6,1.3"/>
<line x1="177.8" y1="136.3" x2="166.4" y2="156.6" stroke="#999" stroke-width="0.8" stroke-linecap="butt" stroke-dasharray="1.6,1.3"/>
<path d="M172,126.5 L183.9,126.5 L189.4,136.3 L183.9,146.3 L172,146.3 L166.1,136.3Z" stroke="#d83a70" stroke-width="1.1" fill="none" stroke-linejoin="round" stroke-linecap="round"/>
<path d="M201,115.7 L195,126.5 L207.2,126.5Z" stroke="#d83a70" stroke-width="1.1" fill="none" stroke-linejoin="round" stroke-linecap="round"/>
<path d="M148.5,146.3 L160.1,146.3 L154.1,156.9Z" stroke="#d83a70" stroke-width="1.1" fill="none" stroke-linejoin="round" stroke-linecap="round"/>
<path d="M174.55,130.8 L171.73,128.99 L174.31,127.46Z" stroke="none" stroke-width="0" fill="#231f20" stroke-linejoin="round" stroke-linecap="round"/>
<path d="M181.26,130.74 L181.57,127.41 L184.12,128.99Z" stroke="none" stroke-width="0" fill="#231f20" stroke-linejoin="round" stroke-linecap="round"/>
<path d="M184.4,136.3 L187.4,134.8 L187.4,137.8Z" stroke="none" stroke-width="0" fill="#231f20" stroke-linejoin="round" stroke-linecap="round"/>
<path d="M181.3,142.03 L184.14,143.81 L181.58,145.37Z" stroke="none" stroke-width="0" fill="#231f20" stroke-linejoin="round" stroke-linecap="round"/>
<path d="M174.51,141.97 L174.3,145.32 L171.71,143.82Z" stroke="none" stroke-width="0" fill="#231f20" stroke-linejoin="round" stroke-linecap="round"/>
<path d="M171.1,136.3 L168.1,137.8 L168.1,134.8Z" stroke="none" stroke-width="0" fill="#231f20" stroke-linejoin="round" stroke-linecap="round"/>
<path d="M201.04,119.9 L199.71,117.31 L202.31,117.29Z" stroke="none" stroke-width="0" fill="#231f20" stroke-linejoin="round" stroke-linecap="round"/>
<path d="M198.61,124.36 L197.04,126.8 L195.71,124.57Z" stroke="none" stroke-width="0" fill="#231f20" stroke-linejoin="round" stroke-linecap="round"/>
<path d="M203.58,124.37 L206.48,124.57 L205.16,126.81Z" stroke="none" stroke-width="0" fill="#231f20" stroke-linejoin="round" stroke-linecap="round"/>
<path d="M152.08,148.5 L149.18,148.25 L150.54,146.03Z" stroke="none" stroke-width="0" fill="#231f20" stroke-linejoin="round" stroke-linecap="round"/>
<path d="M156.5,148.47 L158.06,146.01 L159.4,148.24Z" stroke="none" stroke-width="0" fill="#231f20" stroke-linejoin="round" stroke-linecap="round"/>
<path d="M154.18,152.7 L155.43,155.32 L152.83,155.28Z" stroke="none" stroke-width="0" fill="#231f20" stroke-linejoin="round" stroke-linecap="round"/>
<path d="M177.5,110.9 L179,113.9 L176,113.9Z" stroke="none" stroke-width="0" fill="#231f20" stroke-linejoin="round" stroke-linecap="round"/>
<path d="M155.6,123.9 L158.94,124.1 L157.44,126.7Z" stroke="none" stroke-width="0" fill="#231f20" stroke-linejoin="round" stroke-linecap="round"/>
<path d="M199.5,148.9 L196.16,148.7 L197.66,146.1Z" stroke="none" stroke-width="0" fill="#231f20" stroke-linejoin="round" stroke-linecap="round"/>
<path d="M177.5,161.8 L176,158.8 L179,158.8Z" stroke="none" stroke-width="0" fill="#231f20" stroke-linejoin="round" stroke-linecap="round"/>
<circle cx="172" cy="126.5" r="1.55" fill="#fff" stroke="#d83a70" stroke-width="0.9"/>
<circle cx="183.9" cy="126.5" r="1.55" fill="#fff" stroke="#d83a70" stroke-width="0.9"/>
<circle cx="189.4" cy="136.3" r="1.55" fill="#fff" stroke="#d83a70" stroke-width="0.9"/>
<circle cx="183.9" cy="146.3" r="1.55" fill="#fff" stroke="#d83a70" stroke-width="0.9"/>
<circle cx="172" cy="146.3" r="1.55" fill="#fff" stroke="#d83a70" stroke-width="0.9"/>
<circle cx="166.1" cy="136.3" r="1.55" fill="#fff" stroke="#d83a70" stroke-width="0.9"/>
<circle cx="201" cy="115.7" r="1.55" fill="#fff" stroke="#d83a70" stroke-width="0.9"/>
<circle cx="195" cy="126.5" r="1.55" fill="#fff" stroke="#d83a70" stroke-width="0.9"/>
<circle cx="207.2" cy="126.5" r="1.55" fill="#fff" stroke="#d83a70" stroke-width="0.9"/>
<circle cx="148.5" cy="146.3" r="1.55" fill="#fff" stroke="#d83a70" stroke-width="0.9"/>
<circle cx="160.1" cy="146.3" r="1.55" fill="#fff" stroke="#d83a70" stroke-width="0.9"/>
<circle cx="154.1" cy="156.9" r="1.55" fill="#fff" stroke="#d83a70" stroke-width="0.9"/>
<circle cx="177.5" cy="116.1" r="1.55" fill="#fff" stroke="#d83a70" stroke-width="0.9"/>
<circle cx="160.1" cy="126.5" r="1.55" fill="#fff" stroke="#d83a70" stroke-width="0.9"/>
<circle cx="195" cy="146.3" r="1.55" fill="#fff" stroke="#d83a70" stroke-width="0.9"/>
<circle cx="177.5" cy="156.6" r="1.55" fill="#fff" stroke="#d83a70" stroke-width="0.9"/>
<line x1="206.7" y1="170.1" x2="212.8" y2="159.6" stroke="#231f20" stroke-width="0.9" stroke-linecap="butt"/>
<path d="M215,155.9 L214.63,160.31 L211.35,158.4Z" stroke="none" stroke-width="0" fill="#231f20" stroke-linejoin="round" stroke-linecap="round"/>
<text x="216.4" y="155.4" font-size="9.2" fill="#231f20" stroke="#231f20">b</text>
<line x1="206.7" y1="170.1" x2="193.5" y2="170.1" stroke="#231f20" stroke-width="0.9" stroke-linecap="butt"/>
<path d="M189.6,170.1 L193.6,168.2 L193.6,172Z" stroke="none" stroke-width="0" fill="#231f20" stroke-linejoin="round" stroke-linecap="round"/>
<text x="181.6" y="173.1" font-size="9.2" fill="#231f20" stroke="#231f20">a</text>
<text x="482.4" y="15" font-size="20.5" fill="#231f20" stroke="#231f20">c</text>
<path d="M519.3,7.5 L660.4,8.8 L658.6,126.3 L520.7,119.9Z" stroke="#c9c9c9" stroke-width="0.8" fill="#f9f9f9" stroke-linejoin="miter" stroke-linecap="round"/>
<path d="M496.8,145.8 L632.1,159.1 L632.1,162.7 L496.8,149.4Z" stroke="#a8a8a8" stroke-width="0.6" fill="#dedede" stroke-linejoin="miter" stroke-linecap="round"/>
<path d="M632.1,159.1 L684.3,101.9 L684.3,105.5 L632.1,162.7Z" stroke="#a8a8a8" stroke-width="0.6" fill="#e9e9e9" stroke-linejoin="miter" stroke-linecap="round"/>
<path d="M496.8,145.8 L632.1,159.1 L684.3,101.9 L548,90.3Z" stroke="#9a9a9a" stroke-width="0.7" fill="#ffffff" stroke-linejoin="miter" stroke-linecap="round"/>
<defs><radialGradient id="gb" cx="50%" cy="50%" r="50%"><stop offset="0" stop-color="#e2e2e2"/><stop offset="0.45" stop-color="#c2c2c2"/><stop offset="0.8" stop-color="#c9c9c9"/><stop offset="1" stop-color="#ececec"/></radialGradient><clipPath id="slabclip"><path d="M496.8,145.8 L632.1,159.1 L684.3,101.9 L548,90.3Z"/></clipPath></defs>
<g clip-path="url(#slabclip)">
<path d="M487.45,125.45 L492.95,119.5 L477,115.05 L455.55,116.55 L450.05,122.5 L466,126.95 L487.45,125.45" stroke="#b4b4b4" stroke-width="0.6" fill="none" stroke-linejoin="round" stroke-linecap="round"/>
<path d="M498.45,113.55 L503.95,107.6 L488,103.15 L466.55,104.65 L461.05,110.6 L477,115.05 L498.45,113.55" stroke="#b4b4b4" stroke-width="0.6" fill="none" stroke-linejoin="round" stroke-linecap="round"/>
<path d="M509.45,101.65 L514.95,95.7 L499,91.25 L477.55,92.75 L472.05,98.7 L488,103.15 L509.45,101.65" stroke="#b4b4b4" stroke-width="0.6" fill="none" stroke-linejoin="round" stroke-linecap="round"/>
<path d="M520.45,89.75 L525.95,83.8 L510,79.35 L488.55,80.85 L483.05,86.8 L499,91.25 L520.45,89.75" stroke="#b4b4b4" stroke-width="0.6" fill="none" stroke-linejoin="round" stroke-linecap="round"/>
<path d="M486.35,170.05 L491.85,164.1 L475.9,159.65 L454.45,161.15 L448.95,167.1 L464.9,171.55 L486.35,170.05" stroke="#b4b4b4" stroke-width="0.6" fill="none" stroke-linejoin="round" stroke-linecap="round"/>
<path d="M497.35,158.15 L502.85,152.2 L486.9,147.75 L465.45,149.25 L459.95,155.2 L475.9,159.65 L497.35,158.15" stroke="#b4b4b4" stroke-width="0.6" fill="none" stroke-linejoin="round" stroke-linecap="round"/>
<path d="M508.35,146.25 L513.85,140.3 L497.9,135.85 L476.45,137.35 L470.95,143.3 L486.9,147.75 L508.35,146.25" stroke="#b4b4b4" stroke-width="0.6" fill="none" stroke-linejoin="round" stroke-linecap="round"/>
<path d="M519.35,134.35 L524.85,128.4 L508.9,123.95 L487.45,125.45 L481.95,131.4 L497.9,135.85 L519.35,134.35" stroke="#b4b4b4" stroke-width="0.6" fill="none" stroke-linejoin="round" stroke-linecap="round"/>
<path d="M530.35,122.45 L535.85,116.5 L519.9,112.05 L498.45,113.55 L492.95,119.5 L508.9,123.95 L530.35,122.45" stroke="#b4b4b4" stroke-width="0.6" fill="none" stroke-linejoin="round" stroke-linecap="round"/>
<path d="M541.35,110.55 L546.85,104.6 L530.9,100.15 L509.45,101.65 L503.95,107.6 L519.9,112.05 L541.35,110.55" stroke="#b4b4b4" stroke-width="0.6" fill="none" stroke-linejoin="round" stroke-linecap="round"/>
<path d="M552.35,98.65 L557.85,92.7 L541.9,88.25 L520.45,89.75 L514.95,95.7 L530.9,100.15 L552.35,98.65" stroke="#b4b4b4" stroke-width="0.6" fill="none" stroke-linejoin="round" stroke-linecap="round"/>
<path d="M563.35,86.75 L568.85,80.8 L552.9,76.35 L531.45,77.85 L525.95,83.8 L541.9,88.25 L563.35,86.75" stroke="#b4b4b4" stroke-width="0.6" fill="none" stroke-linejoin="round" stroke-linecap="round"/>
<path d="M518.25,178.95 L523.75,173 L507.8,168.55 L486.35,170.05 L480.85,176 L496.8,180.45 L518.25,178.95" stroke="#b4b4b4" stroke-width="0.6" fill="none" stroke-linejoin="round" stroke-linecap="round"/>
<path d="M529.25,167.05 L534.75,161.1 L518.8,156.65 L497.35,158.15 L491.85,164.1 L507.8,168.55 L529.25,167.05" stroke="#b4b4b4" stroke-width="0.6" fill="none" stroke-linejoin="round" stroke-linecap="round"/>
<path d="M540.25,155.15 L545.75,149.2 L529.8,144.75 L508.35,146.25 L502.85,152.2 L518.8,156.65 L540.25,155.15" stroke="#b4b4b4" stroke-width="0.6" fill="none" stroke-linejoin="round" stroke-linecap="round"/>
<path d="M551.25,143.25 L556.75,137.3 L540.8,132.85 L519.35,134.35 L513.85,140.3 L529.8,144.75 L551.25,143.25" stroke="#b4b4b4" stroke-width="0.6" fill="none" stroke-linejoin="round" stroke-linecap="round"/>
<path d="M562.25,131.35 L567.75,125.4 L551.8,120.95 L530.35,122.45 L524.85,128.4 L540.8,132.85 L562.25,131.35" stroke="#b4b4b4" stroke-width="0.6" fill="none" stroke-linejoin="round" stroke-linecap="round"/>
<path d="M573.25,119.45 L578.75,113.5 L562.8,109.05 L541.35,110.55 L535.85,116.5 L551.8,120.95 L573.25,119.45" stroke="#b4b4b4" stroke-width="0.6" fill="none" stroke-linejoin="round" stroke-linecap="round"/>
<path d="M584.25,107.55 L589.75,101.6 L573.8,97.15 L552.35,98.65 L546.85,104.6 L562.8,109.05 L584.25,107.55" stroke="#b4b4b4" stroke-width="0.6" fill="none" stroke-linejoin="round" stroke-linecap="round"/>
<path d="M595.25,95.65 L600.75,89.7 L584.8,85.25 L563.35,86.75 L557.85,92.7 L573.8,97.15 L595.25,95.65" stroke="#b4b4b4" stroke-width="0.6" fill="none" stroke-linejoin="round" stroke-linecap="round"/>
<path d="M561.15,175.95 L566.65,170 L550.7,165.55 L529.25,167.05 L523.75,173 L539.7,177.45 L561.15,175.95" stroke="#b4b4b4" stroke-width="0.6" fill="none" stroke-linejoin="round" stroke-linecap="round"/>
<path d="M572.15,164.05 L577.65,158.1 L561.7,153.65 L540.25,155.15 L534.75,161.1 L550.7,165.55 L572.15,164.05" stroke="#b4b4b4" stroke-width="0.6" fill="none" stroke-linejoin="round" stroke-linecap="round"/>
<path d="M583.15,152.15 L588.65,146.2 L572.7,141.75 L551.25,143.25 L545.75,149.2 L561.7,153.65 L583.15,152.15" stroke="#b4b4b4" stroke-width="0.6" fill="none" stroke-linejoin="round" stroke-linecap="round"/>
<path d="M594.15,140.25 L599.65,134.3 L583.7,129.85 L562.25,131.35 L556.75,137.3 L572.7,141.75 L594.15,140.25" stroke="#b4b4b4" stroke-width="0.6" fill="none" stroke-linejoin="round" stroke-linecap="round"/>
<path d="M605.15,128.35 L610.65,122.4 L594.7,117.95 L573.25,119.45 L567.75,125.4 L583.7,129.85 L605.15,128.35" stroke="#b4b4b4" stroke-width="0.6" fill="none" stroke-linejoin="round" stroke-linecap="round"/>
<path d="M616.15,116.45 L621.65,110.5 L605.7,106.05 L584.25,107.55 L578.75,113.5 L594.7,117.95 L616.15,116.45" stroke="#b4b4b4" stroke-width="0.6" fill="none" stroke-linejoin="round" stroke-linecap="round"/>
<path d="M627.15,104.55 L632.65,98.6 L616.7,94.15 L595.25,95.65 L589.75,101.6 L605.7,106.05 L627.15,104.55" stroke="#b4b4b4" stroke-width="0.6" fill="none" stroke-linejoin="round" stroke-linecap="round"/>
<path d="M638.15,92.65 L643.65,86.7 L627.7,82.25 L606.25,83.75 L600.75,89.7 L616.7,94.15 L638.15,92.65" stroke="#b4b4b4" stroke-width="0.6" fill="none" stroke-linejoin="round" stroke-linecap="round"/>
<path d="M604.05,172.95 L609.55,167 L593.6,162.55 L572.15,164.05 L566.65,170 L582.6,174.45 L604.05,172.95" stroke="#b4b4b4" stroke-width="0.6" fill="none" stroke-linejoin="round" stroke-linecap="round"/>
<path d="M615.05,161.05 L620.55,155.1 L604.6,150.65 L583.15,152.15 L577.65,158.1 L593.6,162.55 L615.05,161.05" stroke="#b4b4b4" stroke-width="0.6" fill="none" stroke-linejoin="round" stroke-linecap="round"/>
<path d="M626.05,149.15 L631.55,143.2 L615.6,138.75 L594.15,140.25 L588.65,146.2 L604.6,150.65 L626.05,149.15" stroke="#b4b4b4" stroke-width="0.6" fill="none" stroke-linejoin="round" stroke-linecap="round"/>
<path d="M637.05,137.25 L642.55,131.3 L626.6,126.85 L605.15,128.35 L599.65,134.3 L615.6,138.75 L637.05,137.25" stroke="#b4b4b4" stroke-width="0.6" fill="none" stroke-linejoin="round" stroke-linecap="round"/>
<path d="M648.05,125.35 L653.55,119.4 L637.6,114.95 L616.15,116.45 L610.65,122.4 L626.6,126.85 L648.05,125.35" stroke="#b4b4b4" stroke-width="0.6" fill="none" stroke-linejoin="round" stroke-linecap="round"/>
<path d="M659.05,113.45 L664.55,107.5 L648.6,103.05 L627.15,104.55 L621.65,110.5 L637.6,114.95 L659.05,113.45" stroke="#b4b4b4" stroke-width="0.6" fill="none" stroke-linejoin="round" stroke-linecap="round"/>
<path d="M670.05,101.55 L675.55,95.6 L659.6,91.15 L638.15,92.65 L632.65,98.6 L648.6,103.05 L670.05,101.55" stroke="#b4b4b4" stroke-width="0.6" fill="none" stroke-linejoin="round" stroke-linecap="round"/>
<path d="M681.05,89.65 L686.55,83.7 L670.6,79.25 L649.15,80.75 L643.65,86.7 L659.6,91.15 L681.05,89.65" stroke="#b4b4b4" stroke-width="0.6" fill="none" stroke-linejoin="round" stroke-linecap="round"/>
<path d="M646.95,169.95 L652.45,164 L636.5,159.55 L615.05,161.05 L609.55,167 L625.5,171.45 L646.95,169.95" stroke="#b4b4b4" stroke-width="0.6" fill="none" stroke-linejoin="round" stroke-linecap="round"/>
<path d="M657.95,158.05 L663.45,152.1 L647.5,147.65 L626.05,149.15 L620.55,155.1 L636.5,159.55 L657.95,158.05" stroke="#b4b4b4" stroke-width="0.6" fill="none" stroke-linejoin="round" stroke-linecap="round"/>
<path d="M668.95,146.15 L674.45,140.2 L658.5,135.75 L637.05,137.25 L631.55,143.2 L647.5,147.65 L668.95,146.15" stroke="#b4b4b4" stroke-width="0.6" fill="none" stroke-linejoin="round" stroke-linecap="round"/>
<path d="M679.95,134.25 L685.45,128.3 L669.5,123.85 L648.05,125.35 L642.55,131.3 L658.5,135.75 L679.95,134.25" stroke="#b4b4b4" stroke-width="0.6" fill="none" stroke-linejoin="round" stroke-linecap="round"/>
<path d="M690.95,122.35 L696.45,116.4 L680.5,111.95 L659.05,113.45 L653.55,119.4 L669.5,123.85 L690.95,122.35" stroke="#b4b4b4" stroke-width="0.6" fill="none" stroke-linejoin="round" stroke-linecap="round"/>
<path d="M701.95,110.45 L707.45,104.5 L691.5,100.05 L670.05,101.55 L664.55,107.5 L680.5,111.95 L701.95,110.45" stroke="#b4b4b4" stroke-width="0.6" fill="none" stroke-linejoin="round" stroke-linecap="round"/>
<path d="M712.95,98.55 L718.45,92.6 L702.5,88.15 L681.05,89.65 L675.55,95.6 L691.5,100.05 L712.95,98.55" stroke="#b4b4b4" stroke-width="0.6" fill="none" stroke-linejoin="round" stroke-linecap="round"/>
<path d="M678.85,178.85 L684.35,172.9 L668.4,168.45 L646.95,169.95 L641.45,175.9 L657.4,180.35 L678.85,178.85" stroke="#b4b4b4" stroke-width="0.6" fill="none" stroke-linejoin="round" stroke-linecap="round"/>
<path d="M689.85,166.95 L695.35,161 L679.4,156.55 L657.95,158.05 L652.45,164 L668.4,168.45 L689.85,166.95" stroke="#b4b4b4" stroke-width="0.6" fill="none" stroke-linejoin="round" stroke-linecap="round"/>
<path d="M700.85,155.05 L706.35,149.1 L690.4,144.65 L668.95,146.15 L663.45,152.1 L679.4,156.55 L700.85,155.05" stroke="#b4b4b4" stroke-width="0.6" fill="none" stroke-linejoin="round" stroke-linecap="round"/>
<path d="M711.85,143.15 L717.35,137.2 L701.4,132.75 L679.95,134.25 L674.45,140.2 L690.4,144.65 L711.85,143.15" stroke="#b4b4b4" stroke-width="0.6" fill="none" stroke-linejoin="round" stroke-linecap="round"/>
<ellipse cx="471.5" cy="121" rx="4.8" ry="2.5" fill="url(#gb)" transform="rotate(4 471.5 121)"/>
<ellipse cx="496.43" cy="122.97" rx="1.9" ry="1.1" fill="#e0e0e0" stroke="#6d6d6d" stroke-width="0.7"/>
<ellipse cx="489.47" cy="116.03" rx="1.9" ry="1.1" fill="#e0e0e0" stroke="#6d6d6d" stroke-width="0.7"/>
<ellipse cx="482.5" cy="109.1" rx="4.8" ry="2.5" fill="url(#gb)" transform="rotate(4 482.5 109.1)"/>
<ellipse cx="507.43" cy="111.07" rx="1.9" ry="1.1" fill="#e0e0e0" stroke="#6d6d6d" stroke-width="0.7"/>
<ellipse cx="500.47" cy="104.13" rx="1.9" ry="1.1" fill="#e0e0e0" stroke="#6d6d6d" stroke-width="0.7"/>
<ellipse cx="493.5" cy="97.2" rx="4.8" ry="2.5" fill="url(#gb)" transform="rotate(4 493.5 97.2)"/>
<ellipse cx="518.43" cy="99.17" rx="1.9" ry="1.1" fill="#e0e0e0" stroke="#6d6d6d" stroke-width="0.7"/>
<ellipse cx="511.47" cy="92.23" rx="1.9" ry="1.1" fill="#e0e0e0" stroke="#6d6d6d" stroke-width="0.7"/>
<ellipse cx="504.5" cy="85.3" rx="4.8" ry="2.5" fill="url(#gb)" transform="rotate(4 504.5 85.3)"/>
<ellipse cx="529.43" cy="87.27" rx="1.9" ry="1.1" fill="#e0e0e0" stroke="#6d6d6d" stroke-width="0.7"/>
<ellipse cx="522.47" cy="80.33" rx="1.9" ry="1.1" fill="#e0e0e0" stroke="#6d6d6d" stroke-width="0.7"/>
<ellipse cx="470.4" cy="165.6" rx="4.8" ry="2.5" fill="url(#gb)" transform="rotate(4 470.4 165.6)"/>
<ellipse cx="495.33" cy="167.57" rx="1.9" ry="1.1" fill="#e0e0e0" stroke="#6d6d6d" stroke-width="0.7"/>
<ellipse cx="488.37" cy="160.63" rx="1.9" ry="1.1" fill="#e0e0e0" stroke="#6d6d6d" stroke-width="0.7"/>
<ellipse cx="481.4" cy="153.7" rx="4.8" ry="2.5" fill="url(#gb)" transform="rotate(4 481.4 153.7)"/>
<ellipse cx="506.33" cy="155.67" rx="1.9" ry="1.1" fill="#e0e0e0" stroke="#6d6d6d" stroke-width="0.7"/>
<ellipse cx="499.37" cy="148.73" rx="1.9" ry="1.1" fill="#e0e0e0" stroke="#6d6d6d" stroke-width="0.7"/>
<ellipse cx="492.4" cy="141.8" rx="4.8" ry="2.5" fill="url(#gb)" transform="rotate(4 492.4 141.8)"/>
<ellipse cx="517.33" cy="143.77" rx="1.9" ry="1.1" fill="#e0e0e0" stroke="#6d6d6d" stroke-width="0.7"/>
<ellipse cx="510.37" cy="136.83" rx="1.9" ry="1.1" fill="#e0e0e0" stroke="#6d6d6d" stroke-width="0.7"/>
<ellipse cx="503.4" cy="129.9" rx="4.8" ry="2.5" fill="url(#gb)" transform="rotate(4 503.4 129.9)"/>
<ellipse cx="528.33" cy="131.87" rx="1.9" ry="1.1" fill="#e0e0e0" stroke="#6d6d6d" stroke-width="0.7"/>
<ellipse cx="521.37" cy="124.93" rx="1.9" ry="1.1" fill="#e0e0e0" stroke="#6d6d6d" stroke-width="0.7"/>
<ellipse cx="514.4" cy="118" rx="4.8" ry="2.5" fill="url(#gb)" transform="rotate(4 514.4 118)"/>
<ellipse cx="539.33" cy="119.97" rx="1.9" ry="1.1" fill="#e0e0e0" stroke="#6d6d6d" stroke-width="0.7"/>
<ellipse cx="532.37" cy="113.03" rx="1.9" ry="1.1" fill="#e0e0e0" stroke="#6d6d6d" stroke-width="0.7"/>
<ellipse cx="525.4" cy="106.1" rx="4.8" ry="2.5" fill="url(#gb)" transform="rotate(4 525.4 106.1)"/>
<ellipse cx="550.33" cy="108.07" rx="1.9" ry="1.1" fill="#e0e0e0" stroke="#6d6d6d" stroke-width="0.7"/>
<ellipse cx="543.37" cy="101.13" rx="1.9" ry="1.1" fill="#e0e0e0" stroke="#6d6d6d" stroke-width="0.7"/>
<ellipse cx="536.4" cy="94.2" rx="4.8" ry="2.5" fill="url(#gb)" transform="rotate(4 536.4 94.2)"/>
<ellipse cx="561.33" cy="96.17" rx="1.9" ry="1.1" fill="#e0e0e0" stroke="#6d6d6d" stroke-width="0.7"/>
<ellipse cx="554.37" cy="89.23" rx="1.9" ry="1.1" fill="#e0e0e0" stroke="#6d6d6d" stroke-width="0.7"/>
<ellipse cx="547.4" cy="82.3" rx="4.8" ry="2.5" fill="url(#gb)" transform="rotate(4 547.4 82.3)"/>
<ellipse cx="572.33" cy="84.27" rx="1.9" ry="1.1" fill="#e0e0e0" stroke="#6d6d6d" stroke-width="0.7"/>
<ellipse cx="565.37" cy="77.33" rx="1.9" ry="1.1" fill="#e0e0e0" stroke="#6d6d6d" stroke-width="0.7"/>
<ellipse cx="502.3" cy="174.5" rx="4.8" ry="2.5" fill="url(#gb)" transform="rotate(4 502.3 174.5)"/>
<ellipse cx="527.23" cy="176.47" rx="1.9" ry="1.1" fill="#e0e0e0" stroke="#6d6d6d" stroke-width="0.7"/>
<ellipse cx="520.27" cy="169.53" rx="1.9" ry="1.1" fill="#e0e0e0" stroke="#6d6d6d" stroke-width="0.7"/>
<ellipse cx="513.3" cy="162.6" rx="4.8" ry="2.5" fill="url(#gb)" transform="rotate(4 513.3 162.6)"/>
<ellipse cx="538.23" cy="164.57" rx="1.9" ry="1.1" fill="#e0e0e0" stroke="#6d6d6d" stroke-width="0.7"/>
<ellipse cx="531.27" cy="157.63" rx="1.9" ry="1.1" fill="#e0e0e0" stroke="#6d6d6d" stroke-width="0.7"/>
<ellipse cx="524.3" cy="150.7" rx="4.8" ry="2.5" fill="url(#gb)" transform="rotate(4 524.3 150.7)"/>
<ellipse cx="549.23" cy="152.67" rx="1.9" ry="1.1" fill="#e0e0e0" stroke="#6d6d6d" stroke-width="0.7"/>
<ellipse cx="542.27" cy="145.73" rx="1.9" ry="1.1" fill="#e0e0e0" stroke="#6d6d6d" stroke-width="0.7"/>
<ellipse cx="535.3" cy="138.8" rx="4.8" ry="2.5" fill="url(#gb)" transform="rotate(4 535.3 138.8)"/>
<ellipse cx="560.23" cy="140.77" rx="1.9" ry="1.1" fill="#e0e0e0" stroke="#6d6d6d" stroke-width="0.7"/>
<ellipse cx="553.27" cy="133.83" rx="1.9" ry="1.1" fill="#e0e0e0" stroke="#6d6d6d" stroke-width="0.7"/>
<ellipse cx="546.3" cy="126.9" rx="4.8" ry="2.5" fill="url(#gb)" transform="rotate(4 546.3 126.9)"/>
<ellipse cx="571.23" cy="128.87" rx="1.9" ry="1.1" fill="#e0e0e0" stroke="#6d6d6d" stroke-width="0.7"/>
<ellipse cx="564.27" cy="121.93" rx="1.9" ry="1.1" fill="#e0e0e0" stroke="#6d6d6d" stroke-width="0.7"/>
<ellipse cx="557.3" cy="115" rx="4.8" ry="2.5" fill="url(#gb)" transform="rotate(4 557.3 115)"/>
<ellipse cx="582.23" cy="116.97" rx="1.9" ry="1.1" fill="#e0e0e0" stroke="#6d6d6d" stroke-width="0.7"/>
<ellipse cx="575.27" cy="110.03" rx="1.9" ry="1.1" fill="#e0e0e0" stroke="#6d6d6d" stroke-width="0.7"/>
<ellipse cx="568.3" cy="103.1" rx="4.8" ry="2.5" fill="url(#gb)" transform="rotate(4 568.3 103.1)"/>
<ellipse cx="593.23" cy="105.07" rx="1.9" ry="1.1" fill="#e0e0e0" stroke="#6d6d6d" stroke-width="0.7"/>
<ellipse cx="586.27" cy="98.13" rx="1.9" ry="1.1" fill="#e0e0e0" stroke="#6d6d6d" stroke-width="0.7"/>
<ellipse cx="579.3" cy="91.2" rx="4.8" ry="2.5" fill="url(#gb)" transform="rotate(4 579.3 91.2)"/>
<ellipse cx="604.23" cy="93.17" rx="1.9" ry="1.1" fill="#e0e0e0" stroke="#6d6d6d" stroke-width="0.7"/>
<ellipse cx="597.27" cy="86.23" rx="1.9" ry="1.1" fill="#e0e0e0" stroke="#6d6d6d" stroke-width="0.7"/>
<ellipse cx="545.2" cy="171.5" rx="4.8" ry="2.5" fill="url(#gb)" transform="rotate(4 545.2 171.5)"/>
<ellipse cx="570.13" cy="173.47" rx="1.9" ry="1.1" fill="#e0e0e0" stroke="#6d6d6d" stroke-width="0.7"/>
<ellipse cx="563.17" cy="166.53" rx="1.9" ry="1.1" fill="#e0e0e0" stroke="#6d6d6d" stroke-width="0.7"/>
<ellipse cx="556.2" cy="159.6" rx="4.8" ry="2.5" fill="url(#gb)" transform="rotate(4 556.2 159.6)"/>
<ellipse cx="581.13" cy="161.57" rx="1.9" ry="1.1" fill="#e0e0e0" stroke="#6d6d6d" stroke-width="0.7"/>
<ellipse cx="574.17" cy="154.63" rx="1.9" ry="1.1" fill="#e0e0e0" stroke="#6d6d6d" stroke-width="0.7"/>
<ellipse cx="567.2" cy="147.7" rx="4.8" ry="2.5" fill="url(#gb)" transform="rotate(4 567.2 147.7)"/>
<ellipse cx="592.13" cy="149.67" rx="1.9" ry="1.1" fill="#e0e0e0" stroke="#6d6d6d" stroke-width="0.7"/>
<ellipse cx="585.17" cy="142.73" rx="1.9" ry="1.1" fill="#e0e0e0" stroke="#6d6d6d" stroke-width="0.7"/>
<ellipse cx="578.2" cy="135.8" rx="4.8" ry="2.5" fill="url(#gb)" transform="rotate(4 578.2 135.8)"/>
<ellipse cx="603.13" cy="137.77" rx="1.9" ry="1.1" fill="#e0e0e0" stroke="#6d6d6d" stroke-width="0.7"/>
<ellipse cx="596.17" cy="130.83" rx="1.9" ry="1.1" fill="#e0e0e0" stroke="#6d6d6d" stroke-width="0.7"/>
<ellipse cx="589.2" cy="123.9" rx="4.8" ry="2.5" fill="url(#gb)" transform="rotate(4 589.2 123.9)"/>
<ellipse cx="614.13" cy="125.87" rx="1.9" ry="1.1" fill="#e0e0e0" stroke="#6d6d6d" stroke-width="0.7"/>
<ellipse cx="607.17" cy="118.93" rx="1.9" ry="1.1" fill="#e0e0e0" stroke="#6d6d6d" stroke-width="0.7"/>
<ellipse cx="600.2" cy="112" rx="4.8" ry="2.5" fill="url(#gb)" transform="rotate(4 600.2 112)"/>
<ellipse cx="625.13" cy="113.97" rx="1.9" ry="1.1" fill="#e0e0e0" stroke="#6d6d6d" stroke-width="0.7"/>
<ellipse cx="618.17" cy="107.03" rx="1.9" ry="1.1" fill="#e0e0e0" stroke="#6d6d6d" stroke-width="0.7"/>
<ellipse cx="611.2" cy="100.1" rx="4.8" ry="2.5" fill="url(#gb)" transform="rotate(4 611.2 100.1)"/>
<ellipse cx="636.13" cy="102.07" rx="1.9" ry="1.1" fill="#e0e0e0" stroke="#6d6d6d" stroke-width="0.7"/>
<ellipse cx="629.17" cy="95.13" rx="1.9" ry="1.1" fill="#e0e0e0" stroke="#6d6d6d" stroke-width="0.7"/>
<ellipse cx="622.2" cy="88.2" rx="4.8" ry="2.5" fill="url(#gb)" transform="rotate(4 622.2 88.2)"/>
<ellipse cx="647.13" cy="90.17" rx="1.9" ry="1.1" fill="#e0e0e0" stroke="#6d6d6d" stroke-width="0.7"/>
<ellipse cx="640.17" cy="83.23" rx="1.9" ry="1.1" fill="#e0e0e0" stroke="#6d6d6d" stroke-width="0.7"/>
<ellipse cx="588.1" cy="168.5" rx="4.8" ry="2.5" fill="url(#gb)" transform="rotate(4 588.1 168.5)"/>
<ellipse cx="613.03" cy="170.47" rx="1.9" ry="1.1" fill="#e0e0e0" stroke="#6d6d6d" stroke-width="0.7"/>
<ellipse cx="606.07" cy="163.53" rx="1.9" ry="1.1" fill="#e0e0e0" stroke="#6d6d6d" stroke-width="0.7"/>
<ellipse cx="599.1" cy="156.6" rx="4.8" ry="2.5" fill="url(#gb)" transform="rotate(4 599.1 156.6)"/>
<ellipse cx="624.03" cy="158.57" rx="1.9" ry="1.1" fill="#e0e0e0" stroke="#6d6d6d" stroke-width="0.7"/>
<ellipse cx="617.07" cy="151.63" rx="1.9" ry="1.1" fill="#e0e0e0" stroke="#6d6d6d" stroke-width="0.7"/>
<ellipse cx="610.1" cy="144.7" rx="4.8" ry="2.5" fill="url(#gb)" transform="rotate(4 610.1 144.7)"/>
<ellipse cx="635.03" cy="146.67" rx="1.9" ry="1.1" fill="#e0e0e0" stroke="#6d6d6d" stroke-width="0.7"/>
<ellipse cx="628.07" cy="139.73" rx="1.9" ry="1.1" fill="#e0e0e0" stroke="#6d6d6d" stroke-width="0.7"/>
<ellipse cx="621.1" cy="132.8" rx="4.8" ry="2.5" fill="url(#gb)" transform="rotate(4 621.1 132.8)"/>
<ellipse cx="646.03" cy="134.77" rx="1.9" ry="1.1" fill="#e0e0e0" stroke="#6d6d6d" stroke-width="0.7"/>
<ellipse cx="639.07" cy="127.83" rx="1.9" ry="1.1" fill="#e0e0e0" stroke="#6d6d6d" stroke-width="0.7"/>
<ellipse cx="632.1" cy="120.9" rx="4.8" ry="2.5" fill="url(#gb)" transform="rotate(4 632.1 120.9)"/>
<ellipse cx="657.03" cy="122.87" rx="1.9" ry="1.1" fill="#e0e0e0" stroke="#6d6d6d" stroke-width="0.7"/>
<ellipse cx="650.07" cy="115.93" rx="1.9" ry="1.1" fill="#e0e0e0" stroke="#6d6d6d" stroke-width="0.7"/>
<ellipse cx="643.1" cy="109" rx="4.8" ry="2.5" fill="url(#gb)" transform="rotate(4 643.1 109)"/>
<ellipse cx="668.03" cy="110.97" rx="1.9" ry="1.1" fill="#e0e0e0" stroke="#6d6d6d" stroke-width="0.7"/>
<ellipse cx="661.07" cy="104.03" rx="1.9" ry="1.1" fill="#e0e0e0" stroke="#6d6d6d" stroke-width="0.7"/>
<ellipse cx="654.1" cy="97.1" rx="4.8" ry="2.5" fill="url(#gb)" transform="rotate(4 654.1 97.1)"/>
<ellipse cx="679.03" cy="99.07" rx="1.9" ry="1.1" fill="#e0e0e0" stroke="#6d6d6d" stroke-width="0.7"/>
<ellipse cx="672.07" cy="92.13" rx="1.9" ry="1.1" fill="#e0e0e0" stroke="#6d6d6d" stroke-width="0.7"/>
<ellipse cx="665.1" cy="85.2" rx="4.8" ry="2.5" fill="url(#gb)" transform="rotate(4 665.1 85.2)"/>
<ellipse cx="690.03" cy="87.17" rx="1.9" ry="1.1" fill="#e0e0e0" stroke="#6d6d6d" stroke-width="0.7"/>
<ellipse cx="683.07" cy="80.23" rx="1.9" ry="1.1" fill="#e0e0e0" stroke="#6d6d6d" stroke-width="0.7"/>
<ellipse cx="631" cy="165.5" rx="4.8" ry="2.5" fill="url(#gb)" transform="rotate(4 631 165.5)"/>
<ellipse cx="655.93" cy="167.47" rx="1.9" ry="1.1" fill="#e0e0e0" stroke="#6d6d6d" stroke-width="0.7"/>
<ellipse cx="648.97" cy="160.53" rx="1.9" ry="1.1" fill="#e0e0e0" stroke="#6d6d6d" stroke-width="0.7"/>
<ellipse cx="642" cy="153.6" rx="4.8" ry="2.5" fill="url(#gb)" transform="rotate(4 642 153.6)"/>
<ellipse cx="666.93" cy="155.57" rx="1.9" ry="1.1" fill="#e0e0e0" stroke="#6d6d6d" stroke-width="0.7"/>
<ellipse cx="659.97" cy="148.63" rx="1.9" ry="1.1" fill="#e0e0e0" stroke="#6d6d6d" stroke-width="0.7"/>
<ellipse cx="653" cy="141.7" rx="4.8" ry="2.5" fill="url(#gb)" transform="rotate(4 653 141.7)"/>
<ellipse cx="677.93" cy="143.67" rx="1.9" ry="1.1" fill="#e0e0e0" stroke="#6d6d6d" stroke-width="0.7"/>
<ellipse cx="670.97" cy="136.73" rx="1.9" ry="1.1" fill="#e0e0e0" stroke="#6d6d6d" stroke-width="0.7"/>
<ellipse cx="664" cy="129.8" rx="4.8" ry="2.5" fill="url(#gb)" transform="rotate(4 664 129.8)"/>
<ellipse cx="688.93" cy="131.77" rx="1.9" ry="1.1" fill="#e0e0e0" stroke="#6d6d6d" stroke-width="0.7"/>
<ellipse cx="681.97" cy="124.83" rx="1.9" ry="1.1" fill="#e0e0e0" stroke="#6d6d6d" stroke-width="0.7"/>
<ellipse cx="675" cy="117.9" rx="4.8" ry="2.5" fill="url(#gb)" transform="rotate(4 675 117.9)"/>
<ellipse cx="699.93" cy="119.87" rx="1.9" ry="1.1" fill="#e0e0e0" stroke="#6d6d6d" stroke-width="0.7"/>
<ellipse cx="692.97" cy="112.93" rx="1.9" ry="1.1" fill="#e0e0e0" stroke="#6d6d6d" stroke-width="0.7"/>
<ellipse cx="686" cy="106" rx="4.8" ry="2.5" fill="url(#gb)" transform="rotate(4 686 106)"/>
<ellipse cx="710.93" cy="107.97" rx="1.9" ry="1.1" fill="#e0e0e0" stroke="#6d6d6d" stroke-width="0.7"/>
<ellipse cx="703.97" cy="101.03" rx="1.9" ry="1.1" fill="#e0e0e0" stroke="#6d6d6d" stroke-width="0.7"/>
<ellipse cx="697" cy="94.1" rx="4.8" ry="2.5" fill="url(#gb)" transform="rotate(4 697 94.1)"/>
<ellipse cx="721.93" cy="96.07" rx="1.9" ry="1.1" fill="#e0e0e0" stroke="#6d6d6d" stroke-width="0.7"/>
<ellipse cx="714.97" cy="89.13" rx="1.9" ry="1.1" fill="#e0e0e0" stroke="#6d6d6d" stroke-width="0.7"/>
<ellipse cx="662.9" cy="174.4" rx="4.8" ry="2.5" fill="url(#gb)" transform="rotate(4 662.9 174.4)"/>
<ellipse cx="687.83" cy="176.37" rx="1.9" ry="1.1" fill="#e0e0e0" stroke="#6d6d6d" stroke-width="0.7"/>
<ellipse cx="680.87" cy="169.43" rx="1.9" ry="1.1" fill="#e0e0e0" stroke="#6d6d6d" stroke-width="0.7"/>
<ellipse cx="673.9" cy="162.5" rx="4.8" ry="2.5" fill="url(#gb)" transform="rotate(4 673.9 162.5)"/>
<ellipse cx="698.83" cy="164.47" rx="1.9" ry="1.1" fill="#e0e0e0" stroke="#6d6d6d" stroke-width="0.7"/>
<ellipse cx="691.87" cy="157.53" rx="1.9" ry="1.1" fill="#e0e0e0" stroke="#6d6d6d" stroke-width="0.7"/>
<ellipse cx="684.9" cy="150.6" rx="4.8" ry="2.5" fill="url(#gb)" transform="rotate(4 684.9 150.6)"/>
<ellipse cx="709.83" cy="152.57" rx="1.9" ry="1.1" fill="#e0e0e0" stroke="#6d6d6d" stroke-width="0.7"/>
<ellipse cx="702.87" cy="145.63" rx="1.9" ry="1.1" fill="#e0e0e0" stroke="#6d6d6d" stroke-width="0.7"/>
<ellipse cx="695.9" cy="138.7" rx="4.8" ry="2.5" fill="url(#gb)" transform="rotate(4 695.9 138.7)"/>
<ellipse cx="720.83" cy="140.67" rx="1.9" ry="1.1" fill="#e0e0e0" stroke="#6d6d6d" stroke-width="0.7"/>
<ellipse cx="713.87" cy="133.73" rx="1.9" ry="1.1" fill="#e0e0e0" stroke="#6d6d6d" stroke-width="0.7"/>
<ellipse cx="653.55" cy="119.4" rx="1.5" ry="1" fill="#ffffff" stroke="#9a9a9a" stroke-width="0.55"/>
<ellipse cx="626.05" cy="149.15" rx="1.5" ry="1" fill="#ffffff" stroke="#9a9a9a" stroke-width="0.55"/>
<ellipse cx="649.15" cy="80.75" rx="1.5" ry="1" fill="#ffffff" stroke="#9a9a9a" stroke-width="0.55"/>
<ellipse cx="497.35" cy="158.15" rx="1.5" ry="1" fill="#ffffff" stroke="#9a9a9a" stroke-width="0.55"/>
<ellipse cx="578.75" cy="113.5" rx="1.5" ry="1" fill="#ffffff" stroke="#9a9a9a" stroke-width="0.55"/>
<ellipse cx="488.55" cy="80.85" rx="1.5" ry="1" fill="#ffffff" stroke="#9a9a9a" stroke-width="0.55"/>
<ellipse cx="541.35" cy="110.55" rx="1.5" ry="1" fill="#ffffff" stroke="#9a9a9a" stroke-width="0.55"/>
<ellipse cx="690.95" cy="122.35" rx="1.5" ry="1" fill="#ffffff" stroke="#9a9a9a" stroke-width="0.55"/>
<ellipse cx="524.85" cy="128.4" rx="1.5" ry="1" fill="#ffffff" stroke="#9a9a9a" stroke-width="0.55"/>
<ellipse cx="696.45" cy="116.4" rx="1.5" ry="1" fill="#ffffff" stroke="#9a9a9a" stroke-width="0.55"/>
<ellipse cx="675.55" cy="95.6" rx="1.5" ry="1" fill="#ffffff" stroke="#9a9a9a" stroke-width="0.55"/>
<ellipse cx="530.9" cy="100.15" rx="1.5" ry="1" fill="#ffffff" stroke="#9a9a9a" stroke-width="0.55"/>
<ellipse cx="599.65" cy="134.3" rx="1.5" ry="1" fill="#ffffff" stroke="#9a9a9a" stroke-width="0.55"/>
<ellipse cx="604.6" cy="150.65" rx="1.5" ry="1" fill="#ffffff" stroke="#9a9a9a" stroke-width="0.55"/>
<ellipse cx="483.05" cy="86.8" rx="1.5" ry="1" fill="#ffffff" stroke="#9a9a9a" stroke-width="0.55"/>
<ellipse cx="668.4" cy="168.45" rx="1.5" ry="1" fill="#ffffff" stroke="#9a9a9a" stroke-width="0.55"/>
<ellipse cx="615.05" cy="161.05" rx="1.5" ry="1" fill="#ffffff" stroke="#9a9a9a" stroke-width="0.55"/>
<ellipse cx="681.05" cy="89.65" rx="1.5" ry="1" fill="#ffffff" stroke="#9a9a9a" stroke-width="0.55"/>
<ellipse cx="573.25" cy="119.45" rx="1.5" ry="1" fill="#ffffff" stroke="#9a9a9a" stroke-width="0.55"/>
<ellipse cx="487.45" cy="125.45" rx="1.5" ry="1" fill="#ffffff" stroke="#9a9a9a" stroke-width="0.55"/>
<ellipse cx="540.25" cy="155.15" rx="1.5" ry="1" fill="#ffffff" stroke="#9a9a9a" stroke-width="0.55"/>
<ellipse cx="450.05" cy="122.5" rx="1.5" ry="1" fill="#ffffff" stroke="#9a9a9a" stroke-width="0.55"/>
<ellipse cx="539.7" cy="177.45" rx="1.5" ry="1" fill="#ffffff" stroke="#9a9a9a" stroke-width="0.55"/>
<ellipse cx="546.85" cy="104.6" rx="1.5" ry="1" fill="#ffffff" stroke="#9a9a9a" stroke-width="0.55"/>
<ellipse cx="600.75" cy="89.7" rx="1.5" ry="1" fill="#ffffff" stroke="#9a9a9a" stroke-width="0.55"/>
<ellipse cx="718.45" cy="92.6" rx="1.5" ry="1" fill="#ffffff" stroke="#9a9a9a" stroke-width="0.55"/>
<ellipse cx="486.35" cy="170.05" rx="1.5" ry="1" fill="#ffffff" stroke="#9a9a9a" stroke-width="0.55"/>
<ellipse cx="552.35" cy="98.65" rx="1.5" ry="1" fill="#ffffff" stroke="#9a9a9a" stroke-width="0.55"/>
<ellipse cx="670.05" cy="101.55" rx="1.5" ry="1" fill="#ffffff" stroke="#9a9a9a" stroke-width="0.55"/>
<ellipse cx="545.75" cy="149.2" rx="1.5" ry="1" fill="#ffffff" stroke="#9a9a9a" stroke-width="0.55"/>
<ellipse cx="701.95" cy="110.45" rx="1.5" ry="1" fill="#ffffff" stroke="#9a9a9a" stroke-width="0.55"/>
<ellipse cx="552.9" cy="76.35" rx="1.5" ry="1" fill="#ffffff" stroke="#9a9a9a" stroke-width="0.55"/>
<ellipse cx="691.5" cy="100.05" rx="1.5" ry="1" fill="#ffffff" stroke="#9a9a9a" stroke-width="0.55"/>
<ellipse cx="525.95" cy="83.8" rx="1.5" ry="1" fill="#ffffff" stroke="#9a9a9a" stroke-width="0.55"/>
<ellipse cx="519.9" cy="112.05" rx="1.5" ry="1" fill="#ffffff" stroke="#9a9a9a" stroke-width="0.55"/>
<ellipse cx="518.25" cy="178.95" rx="1.5" ry="1" fill="#ffffff" stroke="#9a9a9a" stroke-width="0.55"/>
<ellipse cx="573.8" cy="97.15" rx="1.5" ry="1" fill="#ffffff" stroke="#9a9a9a" stroke-width="0.55"/>
<ellipse cx="476.45" cy="137.35" rx="1.5" ry="1" fill="#ffffff" stroke="#9a9a9a" stroke-width="0.55"/>
<ellipse cx="461.05" cy="110.6" rx="1.5" ry="1" fill="#ffffff" stroke="#9a9a9a" stroke-width="0.55"/>
<ellipse cx="491.85" cy="164.1" rx="1.5" ry="1" fill="#ffffff" stroke="#9a9a9a" stroke-width="0.55"/>
<ellipse cx="663.45" cy="152.1" rx="1.5" ry="1" fill="#ffffff" stroke="#9a9a9a" stroke-width="0.55"/>
<ellipse cx="670.6" cy="79.25" rx="1.5" ry="1" fill="#ffffff" stroke="#9a9a9a" stroke-width="0.55"/>
<ellipse cx="475.9" cy="159.65" rx="1.5" ry="1" fill="#ffffff" stroke="#9a9a9a" stroke-width="0.55"/>
<ellipse cx="680.5" cy="111.95" rx="1.5" ry="1" fill="#ffffff" stroke="#9a9a9a" stroke-width="0.55"/>
<ellipse cx="647.5" cy="147.65" rx="1.5" ry="1" fill="#ffffff" stroke="#9a9a9a" stroke-width="0.55"/>
<ellipse cx="646.95" cy="169.95" rx="1.5" ry="1" fill="#ffffff" stroke="#9a9a9a" stroke-width="0.55"/>
<ellipse cx="572.7" cy="141.75" rx="1.5" ry="1" fill="#ffffff" stroke="#9a9a9a" stroke-width="0.55"/>
<ellipse cx="566.65" cy="170" rx="1.5" ry="1" fill="#ffffff" stroke="#9a9a9a" stroke-width="0.55"/>
<ellipse cx="616.15" cy="116.45" rx="1.5" ry="1" fill="#ffffff" stroke="#9a9a9a" stroke-width="0.55"/>
<ellipse cx="669.5" cy="123.85" rx="1.5" ry="1" fill="#ffffff" stroke="#9a9a9a" stroke-width="0.55"/>
<ellipse cx="455.55" cy="116.55" rx="1.5" ry="1" fill="#ffffff" stroke="#9a9a9a" stroke-width="0.55"/>
<ellipse cx="508.35" cy="146.25" rx="1.5" ry="1" fill="#ffffff" stroke="#9a9a9a" stroke-width="0.55"/>
<ellipse cx="509.45" cy="101.65" rx="1.5" ry="1" fill="#ffffff" stroke="#9a9a9a" stroke-width="0.55"/>
<ellipse cx="643.65" cy="86.7" rx="1.5" ry="1" fill="#ffffff" stroke="#9a9a9a" stroke-width="0.55"/>
<ellipse cx="593.6" cy="162.55" rx="1.5" ry="1" fill="#ffffff" stroke="#9a9a9a" stroke-width="0.55"/>
<ellipse cx="507.8" cy="168.55" rx="1.5" ry="1" fill="#ffffff" stroke="#9a9a9a" stroke-width="0.55"/>
<ellipse cx="562.8" cy="109.05" rx="1.5" ry="1" fill="#ffffff" stroke="#9a9a9a" stroke-width="0.55"/>
<ellipse cx="520.45" cy="89.75" rx="1.5" ry="1" fill="#ffffff" stroke="#9a9a9a" stroke-width="0.55"/>
<ellipse cx="588.65" cy="146.2" rx="1.5" ry="1" fill="#ffffff" stroke="#9a9a9a" stroke-width="0.55"/>
<ellipse cx="561.15" cy="175.95" rx="1.5" ry="1" fill="#ffffff" stroke="#9a9a9a" stroke-width="0.55"/>
<ellipse cx="497.9" cy="135.85" rx="1.5" ry="1" fill="#ffffff" stroke="#9a9a9a" stroke-width="0.55"/>
<ellipse cx="519.35" cy="134.35" rx="1.5" ry="1" fill="#ffffff" stroke="#9a9a9a" stroke-width="0.55"/>
<ellipse cx="541.9" cy="88.25" rx="1.5" ry="1" fill="#ffffff" stroke="#9a9a9a" stroke-width="0.55"/>
<ellipse cx="534.75" cy="161.1" rx="1.5" ry="1" fill="#ffffff" stroke="#9a9a9a" stroke-width="0.55"/>
<ellipse cx="551.8" cy="120.95" rx="1.5" ry="1" fill="#ffffff" stroke="#9a9a9a" stroke-width="0.55"/>
<ellipse cx="466" cy="126.95" rx="1.5" ry="1" fill="#ffffff" stroke="#9a9a9a" stroke-width="0.55"/>
<ellipse cx="605.7" cy="106.05" rx="1.5" ry="1" fill="#ffffff" stroke="#9a9a9a" stroke-width="0.55"/>
<ellipse cx="615.6" cy="138.75" rx="1.5" ry="1" fill="#ffffff" stroke="#9a9a9a" stroke-width="0.55"/>
<ellipse cx="609.55" cy="167" rx="1.5" ry="1" fill="#ffffff" stroke="#9a9a9a" stroke-width="0.55"/>
<ellipse cx="657.95" cy="158.05" rx="1.5" ry="1" fill="#ffffff" stroke="#9a9a9a" stroke-width="0.55"/>
<ellipse cx="621.65" cy="110.5" rx="1.5" ry="1" fill="#ffffff" stroke="#9a9a9a" stroke-width="0.55"/>
<ellipse cx="454.45" cy="161.15" rx="1.5" ry="1" fill="#ffffff" stroke="#9a9a9a" stroke-width="0.55"/>
<ellipse cx="584.25" cy="107.55" rx="1.5" ry="1" fill="#ffffff" stroke="#9a9a9a" stroke-width="0.55"/>
<ellipse cx="498.45" cy="113.55" rx="1.5" ry="1" fill="#ffffff" stroke="#9a9a9a" stroke-width="0.55"/>
<ellipse cx="652.45" cy="164" rx="1.5" ry="1" fill="#ffffff" stroke="#9a9a9a" stroke-width="0.55"/>
<ellipse cx="567.75" cy="125.4" rx="1.5" ry="1" fill="#ffffff" stroke="#9a9a9a" stroke-width="0.55"/>
<ellipse cx="631.55" cy="143.2" rx="1.5" ry="1" fill="#ffffff" stroke="#9a9a9a" stroke-width="0.55"/>
<ellipse cx="481.95" cy="131.4" rx="1.5" ry="1" fill="#ffffff" stroke="#9a9a9a" stroke-width="0.55"/>
<ellipse cx="637.05" cy="137.25" rx="1.5" ry="1" fill="#ffffff" stroke="#9a9a9a" stroke-width="0.55"/>
<ellipse cx="668.95" cy="146.15" rx="1.5" ry="1" fill="#ffffff" stroke="#9a9a9a" stroke-width="0.55"/>
<ellipse cx="563.35" cy="86.75" rx="1.5" ry="1" fill="#ffffff" stroke="#9a9a9a" stroke-width="0.55"/>
<ellipse cx="712.95" cy="98.55" rx="1.5" ry="1" fill="#ffffff" stroke="#9a9a9a" stroke-width="0.55"/>
<ellipse cx="641.45" cy="175.9" rx="1.5" ry="1" fill="#ffffff" stroke="#9a9a9a" stroke-width="0.55"/>
<ellipse cx="642.55" cy="131.3" rx="1.5" ry="1" fill="#ffffff" stroke="#9a9a9a" stroke-width="0.55"/>
<ellipse cx="562.25" cy="131.35" rx="1.5" ry="1" fill="#ffffff" stroke="#9a9a9a" stroke-width="0.55"/>
<ellipse cx="488" cy="103.15" rx="1.5" ry="1" fill="#ffffff" stroke="#9a9a9a" stroke-width="0.55"/>
<ellipse cx="674.45" cy="140.2" rx="1.5" ry="1" fill="#ffffff" stroke="#9a9a9a" stroke-width="0.55"/>
<ellipse cx="486.9" cy="147.75" rx="1.5" ry="1" fill="#ffffff" stroke="#9a9a9a" stroke-width="0.55"/>
<ellipse cx="513.85" cy="140.3" rx="1.5" ry="1" fill="#ffffff" stroke="#9a9a9a" stroke-width="0.55"/>
<ellipse cx="583.7" cy="129.85" rx="1.5" ry="1" fill="#ffffff" stroke="#9a9a9a" stroke-width="0.55"/>
<ellipse cx="616.7" cy="94.15" rx="1.5" ry="1" fill="#ffffff" stroke="#9a9a9a" stroke-width="0.55"/>
<ellipse cx="685.45" cy="128.3" rx="1.5" ry="1" fill="#ffffff" stroke="#9a9a9a" stroke-width="0.55"/>
<ellipse cx="657.4" cy="180.35" rx="1.5" ry="1" fill="#ffffff" stroke="#9a9a9a" stroke-width="0.55"/>
<ellipse cx="583.15" cy="152.15" rx="1.5" ry="1" fill="#ffffff" stroke="#9a9a9a" stroke-width="0.55"/>
<ellipse cx="664.55" cy="107.5" rx="1.5" ry="1" fill="#ffffff" stroke="#9a9a9a" stroke-width="0.55"/>
<ellipse cx="477" cy="115.05" rx="1.5" ry="1" fill="#ffffff" stroke="#9a9a9a" stroke-width="0.55"/>
<ellipse cx="582.6" cy="174.45" rx="1.5" ry="1" fill="#ffffff" stroke="#9a9a9a" stroke-width="0.55"/>
<ellipse cx="589.75" cy="101.6" rx="1.5" ry="1" fill="#ffffff" stroke="#9a9a9a" stroke-width="0.55"/>
<ellipse cx="496.8" cy="180.45" rx="1.5" ry="1" fill="#ffffff" stroke="#9a9a9a" stroke-width="0.55"/>
<ellipse cx="510" cy="79.35" rx="1.5" ry="1" fill="#ffffff" stroke="#9a9a9a" stroke-width="0.55"/>
<ellipse cx="503.95" cy="107.6" rx="1.5" ry="1" fill="#ffffff" stroke="#9a9a9a" stroke-width="0.55"/>
<ellipse cx="695.35" cy="161" rx="1.5" ry="1" fill="#ffffff" stroke="#9a9a9a" stroke-width="0.55"/>
<ellipse cx="529.25" cy="167.05" rx="1.5" ry="1" fill="#ffffff" stroke="#9a9a9a" stroke-width="0.55"/>
<ellipse cx="595.25" cy="95.65" rx="1.5" ry="1" fill="#ffffff" stroke="#9a9a9a" stroke-width="0.55"/>
<ellipse cx="610.65" cy="122.4" rx="1.5" ry="1" fill="#ffffff" stroke="#9a9a9a" stroke-width="0.55"/>
<ellipse cx="472.05" cy="98.7" rx="1.5" ry="1" fill="#ffffff" stroke="#9a9a9a" stroke-width="0.55"/>
<ellipse cx="707.45" cy="104.5" rx="1.5" ry="1" fill="#ffffff" stroke="#9a9a9a" stroke-width="0.55"/>
<ellipse cx="568.85" cy="80.8" rx="1.5" ry="1" fill="#ffffff" stroke="#9a9a9a" stroke-width="0.55"/>
<ellipse cx="711.85" cy="143.15" rx="1.5" ry="1" fill="#ffffff" stroke="#9a9a9a" stroke-width="0.55"/>
<ellipse cx="684.35" cy="172.9" rx="1.5" ry="1" fill="#ffffff" stroke="#9a9a9a" stroke-width="0.55"/>
<ellipse cx="531.45" cy="77.85" rx="1.5" ry="1" fill="#ffffff" stroke="#9a9a9a" stroke-width="0.55"/>
<ellipse cx="448.95" cy="167.1" rx="1.5" ry="1" fill="#ffffff" stroke="#9a9a9a" stroke-width="0.55"/>
<ellipse cx="706.35" cy="149.1" rx="1.5" ry="1" fill="#ffffff" stroke="#9a9a9a" stroke-width="0.55"/>
<ellipse cx="514.95" cy="95.7" rx="1.5" ry="1" fill="#ffffff" stroke="#9a9a9a" stroke-width="0.55"/>
<ellipse cx="518.8" cy="156.65" rx="1.5" ry="1" fill="#ffffff" stroke="#9a9a9a" stroke-width="0.55"/>
<ellipse cx="690.4" cy="144.65" rx="1.5" ry="1" fill="#ffffff" stroke="#9a9a9a" stroke-width="0.55"/>
<ellipse cx="689.85" cy="166.95" rx="1.5" ry="1" fill="#ffffff" stroke="#9a9a9a" stroke-width="0.55"/>
<ellipse cx="636.5" cy="159.55" rx="1.5" ry="1" fill="#ffffff" stroke="#9a9a9a" stroke-width="0.55"/>
<ellipse cx="659.05" cy="113.45" rx="1.5" ry="1" fill="#ffffff" stroke="#9a9a9a" stroke-width="0.55"/>
<ellipse cx="594.7" cy="117.95" rx="1.5" ry="1" fill="#ffffff" stroke="#9a9a9a" stroke-width="0.55"/>
<ellipse cx="561.7" cy="153.65" rx="1.5" ry="1" fill="#ffffff" stroke="#9a9a9a" stroke-width="0.55"/>
<ellipse cx="625.5" cy="171.45" rx="1.5" ry="1" fill="#ffffff" stroke="#9a9a9a" stroke-width="0.55"/>
<ellipse cx="551.25" cy="143.25" rx="1.5" ry="1" fill="#ffffff" stroke="#9a9a9a" stroke-width="0.55"/>
<ellipse cx="632.65" cy="98.6" rx="1.5" ry="1" fill="#ffffff" stroke="#9a9a9a" stroke-width="0.55"/>
<ellipse cx="540.8" cy="132.85" rx="1.5" ry="1" fill="#ffffff" stroke="#9a9a9a" stroke-width="0.55"/>
<ellipse cx="465.45" cy="149.25" rx="1.5" ry="1" fill="#ffffff" stroke="#9a9a9a" stroke-width="0.55"/>
<ellipse cx="480.85" cy="176" rx="1.5" ry="1" fill="#ffffff" stroke="#9a9a9a" stroke-width="0.55"/>
<ellipse cx="686.55" cy="83.7" rx="1.5" ry="1" fill="#ffffff" stroke="#9a9a9a" stroke-width="0.55"/>
<ellipse cx="572.15" cy="164.05" rx="1.5" ry="1" fill="#ffffff" stroke="#9a9a9a" stroke-width="0.55"/>
<ellipse cx="638.15" cy="92.65" rx="1.5" ry="1" fill="#ffffff" stroke="#9a9a9a" stroke-width="0.55"/>
<ellipse cx="464.9" cy="171.55" rx="1.5" ry="1" fill="#ffffff" stroke="#9a9a9a" stroke-width="0.55"/>
<ellipse cx="492.95" cy="119.5" rx="1.5" ry="1" fill="#ffffff" stroke="#9a9a9a" stroke-width="0.55"/>
<ellipse cx="477.55" cy="92.75" rx="1.5" ry="1" fill="#ffffff" stroke="#9a9a9a" stroke-width="0.55"/>
<ellipse cx="530.35" cy="122.45" rx="1.5" ry="1" fill="#ffffff" stroke="#9a9a9a" stroke-width="0.55"/>
<ellipse cx="604.05" cy="172.95" rx="1.5" ry="1" fill="#ffffff" stroke="#9a9a9a" stroke-width="0.55"/>
<ellipse cx="648.05" cy="125.35" rx="1.5" ry="1" fill="#ffffff" stroke="#9a9a9a" stroke-width="0.55"/>
<ellipse cx="679.95" cy="134.25" rx="1.5" ry="1" fill="#ffffff" stroke="#9a9a9a" stroke-width="0.55"/>
<ellipse cx="577.65" cy="158.1" rx="1.5" ry="1" fill="#ffffff" stroke="#9a9a9a" stroke-width="0.55"/>
<ellipse cx="584.8" cy="85.25" rx="1.5" ry="1" fill="#ffffff" stroke="#9a9a9a" stroke-width="0.55"/>
<ellipse cx="557.85" cy="92.7" rx="1.5" ry="1" fill="#ffffff" stroke="#9a9a9a" stroke-width="0.55"/>
<ellipse cx="499" cy="91.25" rx="1.5" ry="1" fill="#ffffff" stroke="#9a9a9a" stroke-width="0.55"/>
<ellipse cx="627.15" cy="104.55" rx="1.5" ry="1" fill="#ffffff" stroke="#9a9a9a" stroke-width="0.55"/>
<ellipse cx="502.85" cy="152.2" rx="1.5" ry="1" fill="#ffffff" stroke="#9a9a9a" stroke-width="0.55"/>
<ellipse cx="648.6" cy="103.05" rx="1.5" ry="1" fill="#ffffff" stroke="#9a9a9a" stroke-width="0.55"/>
<ellipse cx="658.5" cy="135.75" rx="1.5" ry="1" fill="#ffffff" stroke="#9a9a9a" stroke-width="0.55"/>
<ellipse cx="702.5" cy="88.15" rx="1.5" ry="1" fill="#ffffff" stroke="#9a9a9a" stroke-width="0.55"/>
<ellipse cx="679.4" cy="156.55" rx="1.5" ry="1" fill="#ffffff" stroke="#9a9a9a" stroke-width="0.55"/>
<ellipse cx="700.85" cy="155.05" rx="1.5" ry="1" fill="#ffffff" stroke="#9a9a9a" stroke-width="0.55"/>
<ellipse cx="678.85" cy="178.85" rx="1.5" ry="1" fill="#ffffff" stroke="#9a9a9a" stroke-width="0.55"/>
<ellipse cx="627.7" cy="82.25" rx="1.5" ry="1" fill="#ffffff" stroke="#9a9a9a" stroke-width="0.55"/>
<ellipse cx="637.6" cy="114.95" rx="1.5" ry="1" fill="#ffffff" stroke="#9a9a9a" stroke-width="0.55"/>
<ellipse cx="594.15" cy="140.25" rx="1.5" ry="1" fill="#ffffff" stroke="#9a9a9a" stroke-width="0.55"/>
<ellipse cx="523.75" cy="173" rx="1.5" ry="1" fill="#ffffff" stroke="#9a9a9a" stroke-width="0.55"/>
<ellipse cx="606.25" cy="83.75" rx="1.5" ry="1" fill="#ffffff" stroke="#9a9a9a" stroke-width="0.55"/>
<ellipse cx="535.85" cy="116.5" rx="1.5" ry="1" fill="#ffffff" stroke="#9a9a9a" stroke-width="0.55"/>
<ellipse cx="626.6" cy="126.85" rx="1.5" ry="1" fill="#ffffff" stroke="#9a9a9a" stroke-width="0.55"/>
<ellipse cx="605.15" cy="128.35" rx="1.5" ry="1" fill="#ffffff" stroke="#9a9a9a" stroke-width="0.55"/>
<ellipse cx="620.55" cy="155.1" rx="1.5" ry="1" fill="#ffffff" stroke="#9a9a9a" stroke-width="0.55"/>
<ellipse cx="466.55" cy="104.65" rx="1.5" ry="1" fill="#ffffff" stroke="#9a9a9a" stroke-width="0.55"/>
<ellipse cx="459.95" cy="155.2" rx="1.5" ry="1" fill="#ffffff" stroke="#9a9a9a" stroke-width="0.55"/>
<ellipse cx="550.7" cy="165.55" rx="1.5" ry="1" fill="#ffffff" stroke="#9a9a9a" stroke-width="0.55"/>
<ellipse cx="717.35" cy="137.2" rx="1.5" ry="1" fill="#ffffff" stroke="#9a9a9a" stroke-width="0.55"/>
<ellipse cx="529.8" cy="144.75" rx="1.5" ry="1" fill="#ffffff" stroke="#9a9a9a" stroke-width="0.55"/>
<ellipse cx="701.4" cy="132.75" rx="1.5" ry="1" fill="#ffffff" stroke="#9a9a9a" stroke-width="0.55"/>
<ellipse cx="556.75" cy="137.3" rx="1.5" ry="1" fill="#ffffff" stroke="#9a9a9a" stroke-width="0.55"/>
<ellipse cx="659.6" cy="91.15" rx="1.5" ry="1" fill="#ffffff" stroke="#9a9a9a" stroke-width="0.55"/>
<ellipse cx="470.95" cy="143.3" rx="1.5" ry="1" fill="#ffffff" stroke="#9a9a9a" stroke-width="0.55"/>
<ellipse cx="508.9" cy="123.95" rx="1.5" ry="1" fill="#ffffff" stroke="#9a9a9a" stroke-width="0.55"/>
</g>
<line x1="520.7" y1="119.9" x2="658.6" y2="126.3" stroke="#cfcfcf" stroke-width="0.6" stroke-linecap="butt"/>
<line x1="658.6" y1="101" x2="658.6" y2="126.3" stroke="#cfcfcf" stroke-width="0.6" stroke-linecap="butt"/>
<ellipse cx="590" cy="123.6" rx="26" ry="12.4" fill="#f47878" transform="rotate(3 590 123.6)" opacity="0.72"/>
<ellipse cx="590" cy="123.6" rx="13.3" ry="6.3" fill="#9dbbf7" transform="rotate(3 590 123.6)" opacity="0.95"/>
<circle cx="590" cy="123.8" r="1.6" fill="#6f8fd0"/>
<line x1="532.1" y1="18.4" x2="537.2" y2="27.6" stroke="#5b8ff2" stroke-width="1.7" stroke-linecap="butt"/>
<path d="M536.69,24.81 L536.64,26.75 L539.57,26.29 L536.51,30.67 L542.98,27.35 L535.97,34.93 L545.95,28.77 L536.85,38.03 L546.83,31.87 L539.82,39.45 L546.29,36.13 L543.23,40.51 L546.16,40.05 L546.11,41.99" stroke="#5b8ff2" stroke-width="1.3" fill="none" stroke-linejoin="round" stroke-linecap="round"/>
<line x1="545.6" y1="41" x2="549.6" y2="48.6" stroke="#5b8ff2" stroke-width="1.7" stroke-linecap="butt"/>
<path d="M551.6,53.8 L546.25,49.18 L551.72,46.73Z" stroke="none" stroke-width="0" fill="#5b8ff2" stroke-linejoin="round" stroke-linecap="round"/>
<line x1="551.6" y1="53.8" x2="558.4" y2="66.4" stroke="#222" stroke-width="0.8" stroke-linecap="butt" stroke-dasharray="1.5,1.2"/>
<line x1="558.4" y1="66.4" x2="563.2" y2="74.6" stroke="#f25a5a" stroke-width="1.7" stroke-linecap="butt"/>
<path d="M562.98,72.78 L562.92,74.7 L565.84,74.21 L562.77,78.56 L569.22,75.22 L562.19,82.77 L572.16,76.58 L563.04,85.82 L573.01,79.63 L565.98,87.18 L572.43,83.84 L569.36,88.19 L572.28,87.7 L572.22,89.62" stroke="#f25a5a" stroke-width="1.3" fill="none" stroke-linejoin="round" stroke-linecap="round"/>
<line x1="571.8" y1="88.8" x2="575.6" y2="95.8" stroke="#f25a5a" stroke-width="1.7" stroke-linecap="butt"/>
<path d="M578.2,101.4 L572.65,97.02 L578.02,94.33Z" stroke="none" stroke-width="0" fill="#f25a5a" stroke-linejoin="round" stroke-linecap="round"/>
<line x1="578.2" y1="101.4" x2="589.6" y2="122" stroke="#222" stroke-width="0.8" stroke-linecap="butt" stroke-dasharray="1.5,1.2"/>
<line x1="590.4" y1="122" x2="624.8" y2="67.8" stroke="#222" stroke-width="0.8" stroke-linecap="butt" stroke-dasharray="1.5,1.2"/>
<line x1="624.8" y1="67.8" x2="631" y2="58" stroke="#5b8ff2" stroke-width="1.7" stroke-linecap="butt"/>
<path d="M630.98,57.06 L629.82,55.24 L638.51,53.43 L625.95,51.61 L645.6,49.8 L628.26,47.99 L643.13,46.17 L636.75,44.36 L640.22,42.54" stroke="#5b8ff2" stroke-width="1.6" fill="none" stroke-linejoin="round" stroke-linecap="round"/>
<line x1="640.2" y1="42.6" x2="645.6" y2="34.6" stroke="#5b8ff2" stroke-width="1.7" stroke-linecap="butt"/>
<path d="M648.5,30.6 L647.27,37.56 L642.36,34.11Z" stroke="none" stroke-width="0" fill="#5b8ff2" stroke-linejoin="round" stroke-linecap="round"/>
<line x1="545.5" y1="26.4" x2="555.3" y2="19.6" stroke="#222" stroke-width="0.75" stroke-linecap="butt"/>
<line x1="581.7" y1="65.9" x2="571.8" y2="73.3" stroke="#222" stroke-width="0.75" stroke-linecap="butt" stroke-dasharray="1.4,1.0"/>
<line x1="557.2" y1="23" x2="579.2" y2="62.6" stroke="#222" stroke-width="0.8" stroke-linecap="butt"/>
<path d="M555.5,19.9 L559.2,22.65 L555.88,24.49Z" stroke="none" stroke-width="0" fill="#222" stroke-linejoin="round" stroke-linecap="round"/>
<path d="M580.8,65.7 L577.11,62.94 L580.43,61.1Z" stroke="none" stroke-width="0" fill="#222" stroke-linejoin="round" stroke-linecap="round"/>
<text x="564" y="45.4" font-size="10" fill="#231f20" stroke="#231f20" textLength="9.4" lengthAdjust="spacingAndGlyphs" font-style="italic">Δt</text>
<line x1="590.1" y1="123" x2="590.1" y2="46" stroke="#231f20" stroke-width="1.7" stroke-linecap="butt"/>
<path d="M590.1,37.3 L595.0,49.2 L590.1,46.6 L585.2,49.2 Z" stroke="none" stroke-width="1" fill="#231f20" />
<text x="594.4" y="39.4" font-size="10" fill="#231f20" stroke="#231f20" font-weight="bold">Q</text>
<text x="601.6" y="42.2" font-size="6" fill="#231f20" stroke="#231f20" textLength="13.2" lengthAdjust="spacingAndGlyphs">CDW</text>
<text x="519.4" y="53.6" font-size="10.2" fill="#5b8def" stroke="#5b8def" textLength="22.6" lengthAdjust="spacingAndGlyphs">XFEL</text>
<text x="527.8" y="89.6" font-size="10.2" fill="#f26060" stroke="#f26060" textLength="31.8" lengthAdjust="spacingAndGlyphs">IR laser</text>
</svg>
</body></html>
